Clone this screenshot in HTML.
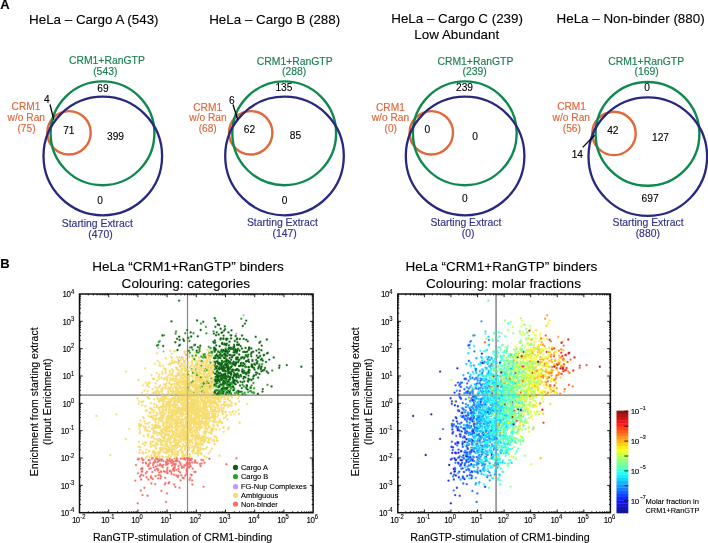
<!DOCTYPE html>
<html lang="en"><head><meta charset="utf-8"><title>HeLa CRM1+RanGTP binders</title>
<style>
html,body{margin:0;padding:0;background:#fff;}
body{width:708px;height:543px;overflow:hidden;}
svg{display:block;font-family:"Liberation Sans", sans-serif;}
text[fill="#000"]{stroke:#000;stroke-width:0.12px;}
</style></head><body>
<svg width="708" height="543" viewBox="0 0 708 543">
<rect width="708" height="543" fill="#fff"/>
<text x="93.80" y="23.70" font-size="13.4" fill="#000" text-anchor="middle">HeLa – Cargo A (543)</text>
<circle cx="69.00" cy="132.8" r="21.7" fill="none" stroke="#e0683b" stroke-width="2.4"/>
<circle cx="102.50" cy="133.3" r="51.9" fill="none" stroke="#0f8a4e" stroke-width="2.4"/>
<circle cx="102.80" cy="156" r="59.3" fill="none" stroke="#27297f" stroke-width="2.3"/>
<text x="106.90" y="64.30" font-size="10.4" fill="#1c8052" stroke="#1c8052" stroke-width="0.15" text-anchor="middle">CRM1+RanGTP</text>
<text x="105.30" y="75.30" font-size="10.4" fill="#1c8052" stroke="#1c8052" stroke-width="0.15" text-anchor="middle">(543)</text>
<text x="26.00" y="110.40" font-size="10.2" fill="#dc673b" stroke="#dc673b" stroke-width="0.15" text-anchor="middle">CRM1</text>
<text x="26.30" y="120.90" font-size="10.2" fill="#dc673b" stroke="#dc673b" stroke-width="0.15" text-anchor="middle">w/o Ran</text>
<text x="26.50" y="132.20" font-size="10.2" fill="#dc673b" stroke="#dc673b" stroke-width="0.15" text-anchor="middle">(75)</text>
<text x="97.30" y="226.80" font-size="10.4" fill="#30318a" stroke="#30318a" stroke-width="0.15" text-anchor="middle">Starting Extract</text>
<text x="100.50" y="237.80" font-size="10.4" fill="#30318a" stroke="#30318a" stroke-width="0.15" text-anchor="middle">(470)</text>
<text x="103.00" y="91.60" font-size="10.2" fill="#000" text-anchor="middle">69</text>
<text x="68.80" y="134.30" font-size="10.2" fill="#000" text-anchor="middle">71</text>
<text x="115.50" y="139.90" font-size="10.2" fill="#000" text-anchor="middle">399</text>
<text x="100.00" y="203.80" font-size="10.2" fill="#000" text-anchor="middle">0</text>
<text x="46.80" y="103.00" font-size="10.2" fill="#000" text-anchor="middle">4</text>
<line x1="50" y1="104.5" x2="53.8" y2="119.5" stroke="#000" stroke-width="1.3"/>
<text x="274.70" y="23.70" font-size="13.4" fill="#000" text-anchor="middle">HeLa – Cargo B (288)</text>
<circle cx="250.70" cy="132.8" r="21.7" fill="none" stroke="#e0683b" stroke-width="2.4"/>
<circle cx="284.20" cy="133.3" r="51.9" fill="none" stroke="#0f8a4e" stroke-width="2.4"/>
<circle cx="284.50" cy="156" r="59.3" fill="none" stroke="#27297f" stroke-width="2.3"/>
<text x="294.70" y="64.80" font-size="10.4" fill="#1c8052" stroke="#1c8052" stroke-width="0.15" text-anchor="middle">CRM1+RanGTP</text>
<text x="294.10" y="74.70" font-size="10.4" fill="#1c8052" stroke="#1c8052" stroke-width="0.15" text-anchor="middle">(288)</text>
<text x="207.70" y="110.90" font-size="10.2" fill="#dc673b" stroke="#dc673b" stroke-width="0.15" text-anchor="middle">CRM1</text>
<text x="208.00" y="120.90" font-size="10.2" fill="#dc673b" stroke="#dc673b" stroke-width="0.15" text-anchor="middle">w/o Ran</text>
<text x="207.70" y="132.20" font-size="10.2" fill="#dc673b" stroke="#dc673b" stroke-width="0.15" text-anchor="middle">(68)</text>
<text x="282.40" y="226.30" font-size="10.4" fill="#30318a" stroke="#30318a" stroke-width="0.15" text-anchor="middle">Starting Extract</text>
<text x="284.70" y="237.30" font-size="10.4" fill="#30318a" stroke="#30318a" stroke-width="0.15" text-anchor="middle">(147)</text>
<text x="283.90" y="90.90" font-size="10.2" fill="#000" text-anchor="middle">135</text>
<text x="249.50" y="133.10" font-size="10.2" fill="#000" text-anchor="middle">62</text>
<text x="295.40" y="139.40" font-size="10.2" fill="#000" text-anchor="middle">85</text>
<text x="284.70" y="203.80" font-size="10.2" fill="#000" text-anchor="middle">0</text>
<text x="231.80" y="103.50" font-size="10.2" fill="#000" text-anchor="middle">6</text>
<line x1="233.0" y1="104.5" x2="237.8" y2="120.0" stroke="#000" stroke-width="1.3"/>
<text x="457.10" y="23.20" font-size="13.4" fill="#000" text-anchor="middle">HeLa – Cargo C (239)</text>
<text x="456.80" y="39.30" font-size="13.4" fill="#000" text-anchor="middle">Low Abundant</text>
<circle cx="431.30" cy="132.8" r="21.7" fill="none" stroke="#e0683b" stroke-width="2.4"/>
<circle cx="464.80" cy="133.3" r="51.9" fill="none" stroke="#0f8a4e" stroke-width="2.4"/>
<circle cx="465.10" cy="156" r="59.3" fill="none" stroke="#27297f" stroke-width="2.3"/>
<text x="475.40" y="65.00" font-size="10.4" fill="#1c8052" stroke="#1c8052" stroke-width="0.15" text-anchor="middle">CRM1+RanGTP</text>
<text x="474.70" y="75.30" font-size="10.4" fill="#1c8052" stroke="#1c8052" stroke-width="0.15" text-anchor="middle">(239)</text>
<text x="390.40" y="111.40" font-size="10.2" fill="#dc673b" stroke="#dc673b" stroke-width="0.15" text-anchor="middle">CRM1</text>
<text x="390.40" y="121.40" font-size="10.2" fill="#dc673b" stroke="#dc673b" stroke-width="0.15" text-anchor="middle">w/o Ran</text>
<text x="390.80" y="132.20" font-size="10.2" fill="#dc673b" stroke="#dc673b" stroke-width="0.15" text-anchor="middle">(0)</text>
<text x="465.90" y="226.30" font-size="10.4" fill="#30318a" stroke="#30318a" stroke-width="0.15" text-anchor="middle">Starting Extract</text>
<text x="468.10" y="237.10" font-size="10.4" fill="#30318a" stroke="#30318a" stroke-width="0.15" text-anchor="middle">(0)</text>
<text x="464.50" y="90.60" font-size="10.2" fill="#000" text-anchor="middle">239</text>
<text x="427.30" y="133.30" font-size="10.2" fill="#000" text-anchor="middle">0</text>
<text x="475.20" y="139.90" font-size="10.2" fill="#000" text-anchor="middle">0</text>
<text x="464.80" y="202.00" font-size="10.2" fill="#000" text-anchor="middle">0</text>
<text x="630.60" y="23.10" font-size="13.4" fill="#000" text-anchor="middle">HeLa – Non-binder (880)</text>
<circle cx="614.00" cy="133.4" r="21.7" fill="none" stroke="#e0683b" stroke-width="2.4"/>
<circle cx="647.50" cy="133.9" r="51.9" fill="none" stroke="#0f8a4e" stroke-width="2.4"/>
<circle cx="647.80" cy="156.6" r="59.3" fill="none" stroke="#27297f" stroke-width="2.3"/>
<text x="646.10" y="65.00" font-size="10.4" fill="#1c8052" stroke="#1c8052" stroke-width="0.15" text-anchor="middle">CRM1+RanGTP</text>
<text x="646.70" y="75.30" font-size="10.4" fill="#1c8052" stroke="#1c8052" stroke-width="0.15" text-anchor="middle">(169)</text>
<text x="571.60" y="110.40" font-size="10.2" fill="#dc673b" stroke="#dc673b" stroke-width="0.15" text-anchor="middle">CRM1</text>
<text x="571.30" y="121.40" font-size="10.2" fill="#dc673b" stroke="#dc673b" stroke-width="0.15" text-anchor="middle">w/o Ran</text>
<text x="571.80" y="132.20" font-size="10.2" fill="#dc673b" stroke="#dc673b" stroke-width="0.15" text-anchor="middle">(56)</text>
<text x="648.00" y="226.30" font-size="10.4" fill="#30318a" stroke="#30318a" stroke-width="0.15" text-anchor="middle">Starting Extract</text>
<text x="647.80" y="237.30" font-size="10.4" fill="#30318a" stroke="#30318a" stroke-width="0.15" text-anchor="middle">(880)</text>
<text x="647.20" y="91.10" font-size="10.2" fill="#000" text-anchor="middle">0</text>
<text x="612.80" y="133.60" font-size="10.2" fill="#000" text-anchor="middle">42</text>
<text x="660.50" y="140.90" font-size="10.2" fill="#000" text-anchor="middle">127</text>
<text x="650.10" y="201.80" font-size="10.2" fill="#000" text-anchor="middle">697</text>
<text x="577.30" y="157.80" font-size="10.2" fill="#000" text-anchor="middle">14</text>
<line x1="582.7" y1="147.4" x2="594.6" y2="135.2" stroke="#000" stroke-width="1.3"/>
<text x="0.30" y="9.20" font-size="13" fill="#000" text-anchor="start" font-weight="bold">A</text>
<text x="0.30" y="268.00" font-size="13" fill="#000" text-anchor="start" font-weight="bold">B</text>
<path d="M187.51 294V512.7M79.5 395.12H313.1" stroke="#8a8a8a" stroke-width="1.15" fill="none" opacity="1"/>
<defs><path id="p1" stroke="#f6dc6e" d="M153.2 437.6h0M202.8 416.9h0M204.4 422.5h0M161.9 407.8h0M189.0 382.0h0M199.2 427.0h0M158.8 451.6h0M195.5 412.1h0M206.8 437.9h0M200.8 390.2h0M193.2 428.1h0M181.0 421.2h0M239.6 422.7h0M202.7 444.9h0M206.3 428.1h0M165.9 410.8h0M196.2 356.6h0M183.2 403.8h0M197.0 399.8h0M164.1 423.9h0M162.6 396.9h0M171.3 412.7h0M190.0 399.0h0M192.5 376.4h0M210.5 373.3h0M187.8 398.5h0M178.7 398.6h0M210.8 382.8h0M209.4 426.6h0M196.2 437.0h0M213.8 439.9h0M219.4 409.4h0M186.9 419.4h0M157.6 390.6h0M171.9 426.9h0M197.7 392.0h0M173.6 393.3h0M189.7 367.6h0M210.8 392.5h0M174.9 361.8h0M210.5 390.4h0M161.6 429.0h0M202.3 376.5h0M212.0 379.4h0M219.3 400.8h0M213.0 383.1h0M205.6 390.6h0M173.2 371.2h0M184.2 440.3h0M171.9 415.0h0M206.5 360.9h0M147.6 390.8h0M183.1 432.8h0M180.1 387.5h0M195.5 435.4h0M178.2 411.9h0M198.9 391.6h0M204.4 456.3h0M182.1 452.2h0M168.5 394.2h0M197.8 371.8h0M210.0 367.7h0M197.1 443.9h0M176.4 414.0h0M185.5 411.1h0M141.1 424.5h0M198.7 405.8h0M196.1 372.0h0M239.1 413.7h0M163.1 421.4h0M173.1 448.9h0M176.7 443.0h0M169.8 451.6h0M153.6 427.9h0M227.5 404.9h0M184.4 390.7h0M211.3 408.2h0M188.7 381.8h0M204.8 380.9h0M178.9 400.5h0M215.1 415.3h0M196.8 387.0h0M198.8 424.2h0M175.9 376.0h0M181.3 451.2h0M178.9 412.0h0M210.5 369.8h0M150.1 408.1h0M159.2 453.9h0M204.5 403.3h0M193.4 450.8h0M192.0 401.0h0M186.9 393.0h0M217.1 406.2h0M168.1 416.3h0M177.1 420.8h0M181.2 400.0h0M171.3 375.2h0M206.5 421.5h0M204.9 398.6h0M198.2 450.5h0M163.4 438.3h0M184.1 399.6h0M153.4 412.2h0M182.2 423.7h0M199.3 415.5h0M141.9 392.6h0M171.9 353.6h0M159.2 387.0h0M189.2 378.9h0M199.4 357.8h0M171.1 447.5h0M201.4 427.3h0M165.9 441.8h0M168.4 435.3h0M171.9 374.4h0M185.2 445.8h0M203.9 431.6h0M206.4 401.9h0M194.6 413.2h0M166.2 418.9h0M190.0 432.0h0M157.7 432.7h0M170.4 437.7h0M186.3 384.6h0M166.2 430.4h0M196.1 429.6h0M216.9 438.5h0M212.2 440.3h0M189.9 376.1h0M154.1 431.5h0M172.2 412.0h0M176.0 379.5h0M200.3 411.0h0M181.9 432.3h0M183.2 393.4h0M185.7 397.9h0M191.0 398.1h0M193.3 406.8h0M193.3 446.4h0M202.3 416.3h0M185.9 424.1h0M168.2 402.2h0M201.1 377.2h0M170.9 412.9h0M198.7 364.3h0M200.4 407.0h0M152.8 452.3h0M166.1 429.3h0M203.6 380.5h0M166.9 431.6h0M166.8 434.8h0M170.3 380.6h0M164.4 406.9h0M213.2 410.0h0M188.9 409.1h0M192.8 393.3h0M206.3 401.6h0M165.9 358.2h0M206.7 419.6h0M156.7 405.2h0M197.5 435.8h0M155.1 427.0h0M184.7 375.3h0M175.7 451.1h0M183.2 399.2h0M171.5 417.7h0M189.3 447.8h0M173.2 378.6h0M176.2 425.3h0M191.5 422.5h0M163.6 399.8h0M188.8 414.2h0M162.7 456.8h0M204.1 407.3h0M170.1 437.5h0M156.8 407.1h0M186.2 384.1h0M210.8 400.2h0M198.7 367.8h0M168.4 438.2h0M185.7 397.9h0M194.4 417.7h0M178.5 435.7h0M203.8 391.4h0M173.4 394.5h0M160.2 385.4h0M154.4 404.0h0M192.3 395.1h0M189.7 439.9h0M193.1 392.8h0M185.9 390.5h0M199.2 412.5h0M178.6 390.7h0M180.6 426.8h0M170.2 436.4h0M207.1 414.9h0M159.2 365.6h0M167.4 452.4h0M193.4 401.2h0M205.9 366.4h0M207.8 355.0h0M207.9 375.9h0M199.2 438.4h0M144.5 421.4h0M184.2 455.3h0M206.5 419.2h0M212.7 421.0h0M204.7 393.0h0M196.2 365.5h0M160.4 398.2h0M205.8 361.3h0M210.9 409.1h0M173.3 415.7h0M169.3 427.6h0M205.0 412.2h0M158.7 408.1h0M210.6 387.5h0M200.9 373.7h0M190.9 402.5h0M175.6 404.3h0M180.7 422.5h0M200.8 399.1h0M194.1 403.5h0M217.9 425.7h0M194.9 406.1h0M157.3 380.7h0M197.8 387.3h0M221.9 411.7h0M208.8 439.8h0M196.1 408.6h0M213.2 381.6h0M181.4 372.4h0M183.8 375.0h0M197.4 360.3h0M164.7 401.3h0M182.7 377.6h0M203.8 449.1h0M190.4 421.9h0M195.7 419.2h0M175.2 438.8h0M189.3 415.8h0M165.4 435.9h0M198.4 406.3h0M183.3 439.8h0M215.4 416.4h0M180.3 397.6h0M196.1 438.9h0M159.9 451.9h0M178.3 437.1h0M178.8 427.7h0M208.7 367.6h0M194.4 386.2h0M182.2 388.2h0M163.1 432.7h0M163.5 413.1h0M167.9 452.0h0M196.6 416.4h0M179.4 371.0h0M196.9 401.3h0M175.1 439.9h0M195.7 444.0h0M178.2 396.4h0M192.4 434.9h0M210.0 418.0h0M207.5 378.3h0M205.2 388.7h0M203.8 442.3h0M156.9 372.9h0M201.5 384.1h0M182.0 419.0h0M208.0 442.3h0M177.6 374.4h0M175.5 398.3h0M232.4 411.7h0M189.0 423.2h0M217.8 404.7h0M149.6 431.4h0M172.0 369.1h0M173.2 398.2h0M191.7 411.8h0M168.6 434.9h0M169.7 371.6h0M192.0 361.9h0M183.7 382.7h0M163.2 437.6h0M202.8 421.6h0M198.2 407.3h0M190.9 404.4h0M212.7 370.2h0M222.7 414.3h0M211.9 398.7h0M186.1 424.0h0M176.3 383.4h0M201.0 360.4h0M188.1 395.4h0M209.9 375.6h0M207.6 400.3h0M171.6 385.7h0M185.2 426.4h0M213.0 414.0h0M192.1 369.4h0M213.2 403.6h0M226.0 416.9h0M145.4 423.5h0M162.2 400.5h0M194.6 424.0h0M199.3 387.7h0M153.0 451.1h0M195.2 453.4h0M158.1 439.3h0M159.4 374.7h0M161.4 431.8h0M179.7 409.1h0M179.3 432.3h0M162.0 436.6h0M194.7 415.5h0M157.2 426.4h0M202.7 408.5h0M207.8 391.8h0M190.6 425.2h0M174.2 438.8h0M189.3 416.2h0M179.2 413.1h0M211.8 400.8h0M168.2 391.4h0M164.0 414.9h0M177.6 402.3h0M177.4 454.9h0M205.5 417.0h0M160.3 452.1h0M161.0 411.8h0M155.7 452.4h0M179.7 420.1h0M222.9 413.3h0M175.6 378.5h0M174.2 446.0h0M208.8 440.5h0M182.6 390.3h0M203.1 440.5h0M222.0 409.6h0M188.3 416.0h0M190.2 441.8h0M167.0 379.6h0M205.7 393.7h0M185.3 383.0h0M178.0 425.8h0M192.4 420.6h0M169.9 408.9h0M199.1 408.6h0M229.7 412.1h0M179.2 374.2h0M185.8 351.7h0M198.7 410.2h0M214.0 403.4h0M176.9 369.0h0M190.9 384.3h0M197.7 380.5h0M186.8 398.5h0M194.5 407.2h0M197.0 423.9h0M190.5 404.6h0M196.8 410.9h0M189.7 454.3h0M184.4 395.4h0M174.6 446.4h0M140.2 431.9h0M197.2 395.6h0M181.7 388.4h0M206.7 359.0h0M181.3 408.4h0M220.9 421.7h0M145.3 430.2h0M185.8 431.9h0M178.4 363.7h0M142.8 443.8h0M197.4 401.7h0M148.3 397.9h0M191.6 429.1h0M209.6 442.8h0M171.3 356.9h0M200.9 448.5h0M208.4 401.8h0M176.2 435.8h0M193.0 404.5h0M155.1 446.4h0M185.2 389.1h0M152.3 425.0h0M178.0 442.5h0M207.4 374.5h0M191.0 411.9h0M172.3 452.0h0M193.5 407.2h0M182.3 400.3h0M199.4 391.7h0M179.9 438.0h0M177.0 375.7h0M184.2 387.4h0M205.1 386.5h0M200.0 444.6h0M161.8 421.4h0M155.9 391.5h0M194.5 406.0h0M198.1 374.5h0M213.3 402.1h0M195.4 407.7h0M207.1 446.9h0M206.1 406.4h0M186.8 396.1h0M186.2 388.4h0M179.0 433.7h0M190.5 445.1h0M162.5 449.4h0M184.5 456.4h0M173.6 445.8h0M171.7 424.6h0M202.6 378.8h0M166.1 396.3h0M174.5 411.8h0M191.9 400.6h0M214.7 418.7h0M167.4 449.9h0M183.7 428.4h0M158.2 454.1h0M155.3 445.2h0M181.9 430.2h0M215.7 396.7h0M207.3 414.8h0M158.9 453.1h0M178.1 397.4h0M188.2 432.6h0M175.3 428.3h0M231.0 414.5h0M193.9 359.6h0M157.4 439.1h0M187.5 429.7h0M167.0 422.7h0M179.5 396.2h0M166.1 457.1h0M178.2 422.7h0M145.8 427.1h0M160.0 412.7h0M199.2 422.4h0M197.0 380.6h0M194.0 426.6h0M161.5 377.7h0M192.6 427.4h0M174.8 434.1h0M183.6 366.4h0M161.3 415.9h0M162.0 444.9h0M197.9 388.8h0M191.6 399.5h0M203.2 414.1h0M186.2 413.7h0M198.7 374.6h0M177.6 388.8h0M188.7 410.9h0M214.5 444.0h0M168.5 405.7h0M183.9 407.9h0M151.8 416.8h0M199.1 450.7h0M192.4 406.5h0M211.0 384.5h0M192.4 405.1h0M191.5 439.9h0M205.2 405.9h0M164.5 397.0h0M176.7 453.9h0M181.8 365.4h0M161.1 440.2h0M205.1 398.7h0M210.2 451.3h0M209.6 349.5h0M182.6 408.1h0M206.4 409.4h0M183.4 432.5h0M181.4 378.3h0M210.3 432.9h0M178.7 426.5h0M184.0 396.9h0M195.0 414.8h0M203.3 390.7h0M188.2 419.5h0M182.6 399.1h0M200.0 424.7h0M183.7 378.5h0M178.8 361.1h0M182.5 400.5h0M189.8 417.6h0M172.7 409.2h0M139.9 450.0h0M195.9 405.3h0M231.8 397.0h0M208.4 411.7h0M218.0 397.8h0M201.8 401.5h0M197.8 406.6h0M160.2 448.0h0M198.9 424.7h0M217.3 404.0h0M182.5 398.3h0M224.0 418.0h0M182.0 370.3h0M209.3 413.6h0M209.6 376.1h0M188.3 401.9h0M198.7 389.3h0M188.8 416.1h0M212.8 371.2h0M166.1 419.5h0M183.9 440.6h0M178.7 416.6h0M170.5 445.3h0M221.2 407.6h0M179.8 445.6h0M172.2 373.0h0M110.2 455.0h0M196.8 368.5h0M205.1 422.8h0M184.8 434.9h0M201.0 421.1h0M149.2 451.4h0M204.0 389.2h0M146.2 449.6h0M225.2 399.1h0M179.2 431.2h0M186.2 433.7h0M143.1 443.6h0M203.6 368.6h0M188.4 363.1h0M182.1 415.0h0M186.2 398.5h0M190.9 419.6h0M218.4 422.3h0M195.0 425.1h0M188.3 445.6h0M150.9 403.0h0M197.5 388.0h0M182.9 408.4h0M193.7 401.8h0M164.0 384.3h0M193.1 372.2h0M175.3 407.6h0M169.2 448.1h0M207.4 393.7h0M227.4 399.2h0M223.7 397.1h0M189.7 393.0h0M184.2 403.8h0M199.4 420.9h0M184.7 360.9h0M148.2 436.4h0M176.7 426.3h0M200.3 447.3h0M125.9 438.9h0M202.8 395.7h0M188.3 432.8h0M205.5 390.9h0M223.8 431.7h0M192.8 377.4h0M211.5 378.2h0M207.3 392.4h0M220.5 401.3h0M196.3 394.8h0M181.2 413.0h0M200.9 399.8h0M170.7 402.0h0M179.2 400.7h0M197.5 401.3h0M197.4 435.5h0M170.0 402.0h0M178.2 359.2h0M213.1 364.7h0M200.1 379.4h0M185.5 432.7h0M186.8 406.7h0M179.2 385.6h0M197.3 364.5h0M180.0 412.9h0M199.1 350.5h0M185.6 384.2h0M161.0 415.0h0M206.9 390.8h0M195.8 453.4h0M210.3 420.8h0M201.0 381.9h0M204.1 362.8h0M198.2 399.6h0M157.5 397.6h0M160.1 451.4h0M184.4 408.6h0M204.6 388.3h0M224.5 401.8h0M187.0 387.9h0M155.9 428.1h0M179.2 380.8h0M153.5 419.4h0M195.9 369.1h0M214.6 415.4h0M222.2 396.6h0M225.6 402.2h0M227.4 419.4h0M213.5 425.0h0M184.0 414.6h0M208.6 365.3h0M168.3 446.4h0M170.3 404.2h0M148.8 386.8h0M151.5 455.5h0M223.4 427.8h0M191.3 395.3h0M164.8 452.8h0M202.6 379.8h0M185.4 455.0h0M155.0 439.2h0M166.3 420.1h0M194.4 404.9h0M205.7 395.8h0M170.6 384.5h0M202.7 440.2h0M224.4 397.6h0M173.0 370.0h0M198.8 389.9h0M193.7 373.2h0M207.7 410.9h0M163.3 403.9h0M213.4 415.5h0M173.5 432.7h0M210.7 354.3h0M166.9 402.2h0M169.0 392.4h0M199.3 384.8h0M180.4 400.3h0M188.2 399.2h0M188.7 434.7h0M152.1 409.8h0M180.7 366.2h0M182.3 381.7h0M159.6 432.6h0M175.2 380.7h0M174.2 404.7h0M187.5 425.1h0M211.1 382.9h0M171.8 419.3h0M159.8 427.3h0M188.9 431.1h0M197.9 412.2h0M193.0 451.0h0M201.3 392.4h0M187.8 389.9h0M216.3 404.3h0M181.7 436.8h0M187.7 395.3h0M200.0 379.8h0M203.1 374.3h0M193.4 358.5h0M219.4 401.8h0M212.0 374.4h0M202.4 439.0h0M229.7 405.5h0M201.7 393.5h0M196.3 391.3h0M195.9 418.9h0M186.7 438.6h0M195.8 444.2h0M188.7 371.1h0M160.9 419.4h0M159.6 392.1h0M166.6 383.4h0M208.4 369.0h0M197.0 428.4h0M196.3 376.8h0M213.2 413.2h0M181.5 415.5h0M184.8 376.2h0M225.5 412.3h0M172.6 449.6h0M202.7 401.6h0M189.0 449.7h0M170.3 350.7h0M189.9 410.0h0M189.2 405.4h0M206.1 420.0h0M207.7 382.6h0M209.7 388.0h0M153.9 452.3h0M173.1 406.9h0M219.7 429.3h0M205.6 385.4h0M157.6 360.9h0M210.7 396.8h0M191.8 408.0h0M165.3 427.5h0M183.5 413.5h0M210.0 374.7h0M184.9 384.5h0M196.5 393.8h0M207.7 395.2h0M178.0 436.4h0M189.4 416.5h0M203.2 403.1h0M172.4 433.3h0M187.4 379.5h0M174.2 401.3h0M218.8 407.3h0M178.6 393.7h0M176.5 404.6h0M181.0 409.6h0M186.4 399.4h0M208.1 389.6h0M167.9 417.2h0M156.1 419.1h0M169.1 447.7h0M149.0 426.9h0M180.2 412.4h0M185.6 437.4h0M178.0 387.6h0M206.1 404.5h0M184.2 410.4h0M163.0 432.7h0M167.4 380.8h0M224.5 405.1h0M192.4 382.2h0M157.7 425.5h0M200.1 397.0h0M161.1 390.8h0M176.4 426.8h0M163.2 410.4h0M191.6 441.2h0M192.4 439.4h0M172.4 393.0h0M198.9 378.5h0M159.0 387.1h0M175.6 430.0h0M173.8 411.0h0M177.1 375.7h0M191.7 369.5h0M166.7 407.8h0M187.5 444.3h0M212.0 365.2h0M219.8 418.9h0M176.5 448.1h0M143.7 426.5h0M181.1 416.1h0M232.9 411.2h0M208.0 417.0h0M208.0 385.6h0M214.3 411.0h0M190.4 411.3h0M171.7 379.2h0M204.7 368.8h0M182.7 393.7h0M183.6 429.2h0M196.5 430.0h0M207.9 377.1h0M182.8 454.9h0M189.6 397.6h0M189.2 427.0h0M190.8 441.8h0M160.2 365.7h0M207.0 360.3h0M196.6 380.3h0M205.0 365.3h0M176.6 440.4h0M184.0 388.6h0M206.3 356.7h0M231.6 405.9h0M212.4 429.7h0M173.9 446.8h0M170.7 426.1h0M169.0 406.1h0M170.2 407.0h0M211.8 407.3h0M206.1 417.4h0M184.4 457.5h0M203.0 374.3h0M179.6 413.7h0M182.0 419.9h0M175.1 419.8h0M176.9 407.3h0M187.9 361.8h0M200.6 384.9h0M198.7 374.9h0M171.3 417.4h0M166.6 424.1h0M190.6 394.8h0M207.7 396.9h0M215.7 403.7h0M194.2 450.7h0M213.2 406.1h0M166.8 416.6h0M189.9 440.8h0M176.9 421.6h0M195.8 393.2h0M187.1 452.2h0M166.2 448.9h0M170.5 443.4h0M176.0 453.8h0M202.6 394.2h0M217.4 405.1h0M168.5 387.4h0M168.6 413.0h0M211.5 403.6h0M158.3 452.2h0M202.1 416.5h0M188.6 415.8h0M168.1 427.2h0M171.3 362.8h0M192.3 377.0h0M201.3 379.5h0M191.5 413.2h0M161.9 440.6h0M175.3 438.4h0M188.1 418.9h0M182.6 412.5h0M162.4 415.7h0M204.5 372.6h0M206.3 391.7h0M160.6 417.5h0M184.0 361.0h0M149.6 412.8h0M164.1 398.6h0M206.2 391.2h0M207.0 398.2h0M215.9 436.7h0M154.0 454.2h0M163.1 410.4h0M183.5 437.9h0M178.2 443.6h0M190.6 425.8h0M213.3 360.9h0M163.5 426.1h0M184.7 353.2h0M160.1 418.2h0M168.5 364.3h0M203.9 361.1h0M184.4 391.6h0M215.3 411.0h0M193.8 395.3h0M164.3 368.3h0M162.8 389.4h0M196.7 384.6h0M184.0 382.8h0M197.2 412.7h0M177.0 393.1h0M190.5 422.5h0M171.7 436.0h0M198.4 421.9h0M231.7 403.0h0M212.8 381.8h0M183.8 431.8h0M169.0 426.9h0M205.4 381.9h0M195.8 361.4h0M153.7 430.7h0M183.2 422.4h0M198.9 378.4h0M204.0 440.1h0M162.9 418.5h0M155.4 387.2h0M201.4 444.1h0M192.0 430.2h0M169.4 416.1h0M155.5 454.7h0M205.9 406.5h0M193.7 420.7h0M147.7 397.1h0M197.7 411.8h0M183.5 436.0h0M195.4 410.9h0M165.5 427.8h0M145.0 368.3h0M210.6 385.1h0M187.2 457.3h0M205.3 403.3h0"/><path id="p2" stroke="#f0706a" d="M178.5 468.7h0M140.9 490.4h0M150.9 476.3h0M174.3 467.5h0M152.8 479.1h0M141.2 474.7h0M135.3 480.6h0M176.8 460.9h0M203.1 460.3h0M180.6 464.7h0M161.3 472.0h0M142.5 495.1h0M155.8 466.6h0M148.5 466.1h0M163.3 464.8h0M160.3 475.4h0M146.2 463.5h0M137.7 503.3h0M178.4 475.7h0M141.8 458.2h0M189.7 465.6h0M169.7 458.7h0M186.8 470.4h0M163.9 471.2h0M176.6 460.0h0M201.5 463.4h0M159.2 472.6h0M183.8 478.2h0M184.0 459.1h0M185.4 459.7h0M148.5 460.1h0M191.9 458.8h0M174.7 467.1h0M180.6 480.3h0M186.9 472.0h0M165.2 477.8h0M173.2 464.3h0M147.6 495.7h0M142.4 469.1h0M148.9 464.5h0M153.0 465.1h0M182.8 458.2h0M160.9 471.5h0M161.0 476.3h0M175.7 464.0h0M159.6 460.6h0M167.3 464.2h0M189.2 460.1h0M137.9 459.4h0M174.7 458.5h0M171.9 460.8h0M158.2 478.3h0M189.7 464.3h0M157.6 465.4h0M174.1 474.8h0M171.7 459.8h0M174.2 484.5h0M152.3 472.0h0M156.9 468.9h0M192.2 462.5h0M190.8 459.9h0M185.2 475.8h0M190.4 459.7h0M146.5 477.2h0M178.5 466.1h0M166.0 464.9h0M145.8 462.7h0M159.6 465.2h0M186.7 463.7h0M162.8 467.2h0M200.6 466.0h0M161.8 459.5h0M184.8 458.1h0M176.1 460.7h0M175.1 464.9h0M168.5 483.4h0M195.4 472.0h0M178.8 471.1h0M171.1 462.7h0M158.4 461.1h0M156.7 458.9h0M160.6 478.2h0"/><path id="p3" stroke="#2a9c2a" d="M253.7 392.4h0M203.5 383.6h0M195.9 369.5h0M199.6 351.2h0M222.9 378.1h0M231.9 384.1h0M217.7 383.0h0M191.3 382.6h0M230.6 383.8h0M221.3 390.3h0M234.3 388.2h0M201.0 323.5h0M225.8 356.8h0M219.9 391.8h0M201.4 384.3h0M216.9 389.9h0M211.2 381.6h0M197.4 392.8h0M233.2 348.6h0M199.4 349.5h0M209.3 355.9h0M211.4 355.5h0M216.2 386.5h0M197.1 373.9h0M231.6 386.8h0M185.3 333.2h0M210.5 348.0h0M223.2 338.5h0M251.0 391.1h0M202.9 386.2h0M233.5 388.9h0M254.1 388.2h0M218.7 390.5h0M244.6 392.7h0M228.9 394.5h0M209.7 387.9h0M222.0 391.5h0M223.0 391.0h0M195.7 388.5h0M212.0 351.7h0M213.5 331.3h0M189.9 352.8h0M243.8 386.3h0M205.9 385.8h0M196.6 376.1h0M220.9 351.5h0M196.6 364.4h0M214.8 384.1h0M188.7 390.2h0M250.6 387.4h0M214.5 385.0h0M204.9 354.4h0M226.7 389.2h0M234.5 383.7h0M209.1 352.9h0M245.5 394.6h0M159.8 341.1h0M194.0 345.3h0M219.7 386.8h0"/><path id="p4" stroke="#0b640f" d="M220.3 376.0h0M231.0 338.4h0M236.1 377.6h0M227.2 355.9h0M236.2 359.4h0M221.3 374.1h0M234.5 382.0h0M214.3 349.8h0M251.0 354.0h0M248.1 380.9h0M248.6 349.9h0M227.5 360.3h0M248.5 375.6h0M227.6 369.0h0M219.4 379.8h0M236.9 369.5h0M229.5 372.7h0M224.8 381.3h0M246.3 339.7h0M247.8 341.3h0M251.7 364.3h0M240.7 365.4h0M237.1 349.7h0M221.5 368.3h0M219.6 367.5h0M216.2 394.1h0M223.8 367.2h0M229.6 385.2h0M188.9 350.8h0M258.7 367.1h0M223.4 384.9h0M237.4 342.1h0M219.4 373.6h0M221.0 391.1h0M216.6 371.7h0M179.9 344.8h0M232.4 370.4h0M225.2 351.8h0M220.6 363.8h0M228.0 369.5h0M236.5 375.3h0M200.3 345.7h0M243.1 365.7h0M222.4 352.0h0M234.3 346.5h0M235.3 370.1h0M196.7 350.7h0M215.7 367.3h0M214.0 348.1h0M219.2 391.6h0M221.4 374.8h0M232.0 366.1h0M216.8 376.5h0M220.3 365.4h0M236.2 358.2h0M191.7 347.4h0M230.9 373.3h0M279.5 365.6h0M246.0 352.1h0M219.2 363.0h0M220.5 392.8h0M241.8 388.1h0M231.1 374.8h0M224.2 344.5h0M232.3 382.4h0M220.6 354.0h0M219.7 381.7h0M259.1 352.7h0M219.5 385.4h0M227.6 353.4h0M228.8 384.4h0M249.5 370.4h0M214.6 351.8h0M219.6 352.4h0M264.3 369.9h0M219.5 391.1h0M228.7 369.5h0M228.3 360.7h0M225.0 374.9h0M234.1 344.9h0M243.2 363.0h0M230.0 385.5h0M220.1 372.7h0M262.8 389.1h0M238.4 361.2h0M239.7 366.0h0M260.9 369.2h0M203.3 321.8h0M215.6 356.2h0M238.4 377.3h0M224.3 368.8h0M228.9 347.6h0M221.1 391.6h0M286.8 365.1h0M242.6 394.1h0M216.0 349.7h0M233.4 380.9h0M255.7 336.8h0M224.1 330.6h0M256.2 359.9h0M220.0 393.8h0M217.9 380.4h0M231.0 347.6h0M242.7 371.5h0M249.2 347.5h0M215.1 363.8h0M223.2 350.0h0M220.0 357.5h0M261.7 345.6h0M243.2 351.9h0M215.4 348.7h0M224.2 377.3h0M228.5 372.2h0M249.3 348.8h0M238.1 348.8h0M233.5 352.3h0M218.3 387.3h0M236.8 339.3h0M215.3 342.5h0M217.8 379.3h0M233.2 390.3h0M222.0 375.2h0M242.5 382.2h0M225.0 374.3h0M214.7 391.4h0M240.7 374.9h0M229.5 361.6h0M217.3 377.3h0M232.5 363.1h0M225.8 388.2h0M253.2 351.7h0M230.1 382.8h0M217.1 376.2h0M197.8 336.3h0M224.3 370.7h0M220.7 328.7h0M216.8 380.3h0M268.2 372.9h0M220.5 363.9h0M245.5 347.9h0M219.2 363.6h0M224.3 354.1h0M248.8 367.1h0M163.2 346.0h0M195.1 344.8h0M217.5 366.3h0M221.4 392.7h0M214.6 365.1h0M246.2 361.2h0M241.1 376.2h0M171.5 321.3h0M246.2 355.9h0M248.1 354.7h0M225.7 350.2h0M218.0 392.9h0M226.5 359.2h0M219.3 391.8h0M234.0 347.2h0M245.4 366.2h0M256.4 350.6h0M217.8 362.5h0M227.9 373.6h0M226.4 361.7h0M226.7 392.5h0M229.4 386.2h0M230.7 393.4h0M236.7 369.4h0M226.6 351.0h0M226.3 345.3h0M244.6 364.0h0M245.0 323.6h0M162.4 335.5h0M223.2 370.7h0M238.9 377.4h0M222.8 370.9h0M233.6 361.7h0M231.2 366.6h0M233.8 381.2h0M228.4 390.6h0M234.4 374.4h0M219.2 325.0h0M215.4 363.3h0M226.2 388.2h0M157.1 345.5h0M251.4 366.5h0M235.5 370.2h0M254.1 375.3h0M221.9 360.7h0M238.6 370.1h0M239.5 350.5h0M242.0 335.5h0M226.3 360.3h0M216.2 345.4h0M234.6 380.1h0M215.4 326.8h0M235.9 363.3h0M233.2 387.0h0M253.2 378.6h0M236.8 352.9h0M248.0 373.0h0M239.2 354.5h0M245.8 355.1h0M239.9 339.0h0M229.7 384.8h0M218.1 355.9h0M233.9 389.9h0M261.6 366.6h0M221.6 388.7h0"/><path id="p5" stroke="#c49cf2" d="M178.8 360.7h0M158.3 348.1h0"/></defs><g fill="none" stroke-linecap="round" stroke-width="2.9" opacity="0.3"><use href="#p1"/><use href="#p2"/><use href="#p3"/><use href="#p4"/><use href="#p5"/></g><g fill="none" stroke-linecap="round" stroke-width="1.85"><use href="#p1"/><use href="#p2"/><use href="#p3"/><use href="#p4"/><use href="#p5"/></g><defs><path id="p6" stroke="#f6dc6e" d="M189.1 388.9h0M178.9 398.8h0M176.8 411.4h0M194.7 371.5h0M151.6 375.2h0M155.8 383.4h0M143.0 385.3h0M180.3 366.8h0M171.6 451.7h0M207.2 376.8h0M165.7 409.1h0M182.3 387.5h0M189.9 393.3h0M200.6 363.3h0M150.6 412.3h0M191.7 369.5h0M209.7 403.1h0M168.0 419.1h0M176.3 420.1h0M207.3 401.8h0M204.3 408.5h0M202.0 420.6h0M204.7 433.7h0M192.8 385.1h0M196.2 402.5h0M205.5 416.8h0M176.1 393.3h0M214.6 436.2h0M192.6 403.5h0M196.5 379.9h0M201.4 422.8h0M195.6 416.6h0M177.2 424.2h0M167.1 441.5h0M139.5 426.8h0M235.3 404.4h0M206.9 395.0h0M209.0 371.0h0M141.6 402.0h0M199.5 369.7h0M188.7 447.1h0M158.6 393.4h0M205.8 426.8h0M200.2 449.8h0M185.2 437.5h0M158.7 376.8h0M213.8 422.4h0M181.5 434.4h0M218.6 400.8h0M192.3 451.6h0M158.6 428.0h0M211.4 386.1h0M212.3 388.1h0M202.0 412.8h0M196.5 384.7h0M208.1 441.6h0M156.4 418.2h0M214.1 401.9h0M196.4 433.4h0M223.5 427.0h0M207.3 402.2h0M186.4 410.7h0M183.3 429.6h0M205.6 401.8h0M166.2 404.3h0M191.6 396.2h0M186.9 391.2h0M166.6 426.5h0M202.3 362.6h0M187.4 431.1h0M159.9 439.0h0M197.1 377.1h0M183.7 439.7h0M191.0 389.8h0M208.2 400.2h0M187.0 376.2h0M173.7 452.5h0M185.5 401.4h0M201.2 368.7h0M190.5 456.6h0M156.7 412.8h0M179.7 412.5h0M161.4 412.5h0M170.0 409.9h0M196.8 393.2h0M207.2 392.6h0M183.8 430.6h0M205.1 425.5h0M183.1 454.9h0M206.0 388.0h0M168.9 418.0h0M160.8 450.3h0M193.8 396.2h0M170.3 438.9h0M190.3 404.3h0M176.4 392.5h0M217.6 411.3h0M143.9 418.2h0M190.0 420.2h0M160.6 441.9h0M192.4 383.5h0M197.1 396.5h0M195.9 413.3h0M183.5 404.8h0M197.0 404.5h0M182.2 374.0h0M211.3 406.4h0M206.8 409.3h0M172.5 427.6h0M203.7 367.5h0M174.4 445.6h0M179.8 393.3h0M159.7 363.0h0M185.4 438.0h0M188.9 392.0h0M212.5 430.9h0M166.7 440.9h0M199.2 418.4h0M177.6 429.3h0M179.0 423.0h0M140.4 420.6h0M189.7 381.5h0M201.6 440.0h0M169.5 382.8h0M218.2 414.8h0M202.1 399.6h0M181.7 448.7h0M180.3 381.0h0M197.0 389.5h0M214.5 406.9h0M156.0 447.9h0M155.7 426.9h0M191.4 435.6h0M176.2 445.6h0M172.6 416.5h0M159.2 407.4h0M214.4 397.1h0M190.1 389.8h0M214.1 418.8h0M202.1 370.2h0M185.2 446.9h0M210.7 365.9h0M197.9 374.9h0M185.4 427.7h0M156.8 412.8h0M189.3 385.9h0M189.1 443.3h0M222.9 404.8h0M182.0 408.1h0M199.5 361.3h0M208.3 397.4h0M198.4 378.0h0M218.9 400.3h0M173.4 431.6h0M204.6 376.3h0M195.8 417.0h0M199.6 370.8h0M211.2 377.0h0M222.5 396.3h0M165.6 443.7h0M196.7 428.2h0M180.5 435.6h0M192.2 364.1h0M219.6 395.7h0M196.0 395.8h0M188.5 438.4h0M196.9 377.3h0M200.5 365.6h0M179.6 379.5h0M182.3 432.7h0M199.4 430.1h0M191.7 399.5h0M210.6 438.7h0M183.5 419.9h0M146.1 452.7h0M175.8 350.9h0M182.1 381.9h0M160.7 412.8h0M172.0 400.8h0M154.2 418.7h0M157.7 399.0h0M208.2 422.9h0M208.9 357.5h0M199.2 380.7h0M212.6 371.4h0M157.1 353.2h0M195.2 423.2h0M125.9 371.6h0M188.2 432.3h0M192.8 399.8h0M187.7 420.0h0M207.1 407.1h0M191.3 375.3h0M173.8 410.6h0M190.7 426.3h0M196.5 424.1h0M208.6 387.4h0M193.1 402.6h0M210.6 407.2h0M148.8 382.7h0M167.7 415.7h0M181.5 391.1h0M199.7 380.5h0M168.1 388.9h0M176.9 430.1h0M186.3 371.2h0M194.2 386.8h0M180.0 394.0h0M207.5 393.1h0M195.9 399.5h0M187.0 369.2h0M182.1 375.4h0M185.2 442.3h0M205.1 390.2h0M171.9 418.6h0M218.0 399.2h0M180.9 441.1h0M204.1 400.2h0M211.1 378.3h0M216.7 440.9h0M176.2 388.4h0M165.9 385.6h0M210.8 362.6h0M165.9 388.5h0M199.3 416.6h0M170.4 362.6h0M165.5 384.3h0M197.2 362.5h0M196.9 383.3h0M170.1 378.3h0M203.2 406.6h0M189.9 415.2h0M182.9 380.7h0M189.5 424.5h0M183.2 407.0h0M208.3 413.6h0M168.9 427.9h0M180.1 425.4h0M195.9 422.6h0M170.1 431.0h0M166.6 426.2h0M215.1 402.1h0M186.3 416.4h0M205.3 432.0h0M181.2 421.4h0M195.2 440.2h0M214.9 409.3h0M177.3 368.8h0M174.1 395.1h0M204.2 381.8h0M181.2 362.9h0M206.7 409.4h0M194.5 374.7h0M156.5 426.9h0M204.0 439.2h0M195.0 383.8h0M163.6 404.4h0M165.8 373.0h0M183.9 427.2h0M167.2 446.4h0M160.3 449.2h0M186.3 392.8h0M196.8 407.8h0M175.0 392.5h0M168.4 375.1h0M157.0 391.4h0M177.6 410.5h0M206.6 431.6h0M213.2 397.3h0M166.0 434.2h0M173.3 376.1h0M203.6 379.7h0M208.4 417.8h0M187.9 385.1h0M193.2 446.2h0M186.3 392.2h0M155.8 422.4h0M186.4 404.0h0M198.5 400.5h0M185.5 439.4h0M214.2 441.5h0M186.6 390.7h0M168.5 419.6h0M197.5 428.0h0M200.3 391.2h0M184.9 449.7h0M170.1 431.7h0M177.8 452.6h0M208.5 438.0h0M177.2 413.3h0M198.2 403.6h0M191.2 406.3h0M202.1 444.2h0M146.9 385.5h0M161.9 400.0h0M193.3 435.6h0M167.5 426.9h0M191.0 436.2h0M185.7 421.1h0M207.0 428.8h0M201.0 368.5h0M208.2 386.0h0M210.5 407.2h0M212.6 366.9h0M176.0 386.4h0M194.9 432.0h0M214.9 398.5h0M206.2 365.5h0M197.8 381.3h0M208.8 453.4h0M210.6 411.0h0M164.3 427.9h0M200.8 444.1h0M212.1 383.6h0M197.3 422.8h0M197.8 447.0h0M154.5 454.6h0M209.0 419.2h0M195.7 378.5h0M143.0 417.1h0M192.7 376.2h0M223.3 410.9h0M202.7 418.5h0M202.7 382.3h0M216.8 398.5h0M191.6 434.6h0M170.1 406.6h0M173.7 419.8h0M172.2 384.3h0M179.5 410.4h0M179.0 383.8h0M183.4 457.2h0M152.9 378.8h0M183.5 427.3h0M153.1 441.8h0M180.7 359.9h0M163.0 406.5h0M160.7 444.5h0M174.8 409.4h0M211.9 372.7h0M211.2 357.1h0M202.8 377.6h0M170.5 364.6h0M191.3 421.0h0M167.8 393.4h0M163.8 437.6h0M204.8 369.5h0M156.1 425.2h0M187.1 419.7h0M176.8 410.7h0M147.8 384.1h0M194.1 419.9h0M185.8 405.7h0M194.1 399.6h0M183.0 391.9h0M193.3 379.9h0M218.2 408.6h0M186.7 438.3h0M197.1 409.0h0M178.6 381.9h0M207.8 392.2h0M204.4 422.2h0M204.7 370.5h0M159.3 457.0h0M186.5 370.2h0M169.0 426.3h0M160.5 399.2h0M182.4 456.9h0M194.8 385.2h0M208.4 384.6h0M186.9 393.1h0M171.2 399.0h0M198.4 399.3h0M210.4 390.0h0M197.1 414.7h0M207.0 402.6h0M175.1 406.1h0M195.5 417.5h0M182.3 425.9h0M211.4 367.4h0M209.2 358.5h0M201.6 397.6h0M168.1 402.5h0M213.6 381.2h0M193.9 384.9h0M206.9 416.9h0M177.3 445.8h0M190.1 428.7h0M138.9 401.3h0M190.3 425.9h0M166.3 398.6h0M158.4 454.7h0M179.5 446.4h0M197.7 413.0h0M152.6 393.5h0M187.3 382.6h0M180.9 420.3h0M183.5 433.4h0M175.9 393.1h0M199.5 360.6h0M146.4 410.3h0M212.1 387.9h0M151.7 428.3h0M206.1 386.3h0M203.9 409.0h0M186.9 391.3h0M178.0 392.5h0M193.1 418.2h0M206.0 405.3h0M159.2 378.7h0M195.7 445.4h0M178.5 423.2h0M209.7 403.8h0M185.2 367.9h0M185.9 389.9h0M213.7 400.1h0M203.4 390.3h0M213.2 412.5h0M192.8 453.1h0M183.1 384.0h0M188.2 406.6h0M194.9 400.7h0M183.4 386.9h0M194.1 398.5h0M185.2 399.6h0M203.8 433.1h0M165.5 431.3h0M167.1 379.2h0M205.2 439.8h0M184.9 426.0h0M187.2 405.9h0M179.0 363.0h0M206.1 406.0h0M199.0 376.1h0M201.4 367.2h0M177.5 390.5h0M169.1 451.0h0M227.9 406.9h0M215.3 421.2h0M163.3 432.9h0M202.9 400.2h0M159.3 393.0h0M191.3 417.9h0M174.5 455.0h0M194.4 373.9h0M168.7 435.4h0M203.4 404.9h0M192.4 360.8h0M197.2 387.1h0M194.0 391.4h0M200.0 450.3h0M238.9 396.2h0M187.7 456.1h0M212.6 371.6h0M163.3 416.6h0M167.1 422.6h0M140.9 425.7h0M212.4 379.1h0M178.2 428.8h0M221.3 405.2h0M186.1 388.8h0M204.8 410.3h0M163.4 414.2h0M210.6 395.7h0M200.9 453.1h0M178.2 444.5h0M173.1 434.9h0M159.2 457.4h0M183.4 434.5h0M169.7 394.8h0M211.5 369.0h0M188.4 436.3h0M201.7 418.6h0M167.0 429.1h0M192.5 442.1h0M181.9 411.2h0M209.6 359.3h0M167.2 425.9h0M201.7 380.6h0M194.4 400.9h0M185.9 389.9h0M162.8 373.8h0M166.3 452.8h0M190.5 416.4h0M187.0 374.5h0M185.0 393.2h0M197.3 451.2h0M211.1 395.9h0M196.0 391.4h0M180.9 395.8h0M185.1 446.1h0M163.8 429.3h0M186.1 380.5h0M186.1 438.5h0M174.3 402.5h0M174.9 441.1h0M199.3 414.7h0M211.4 432.4h0M195.7 376.3h0M155.8 442.6h0M200.6 378.5h0M192.7 357.2h0M166.5 403.7h0M158.5 422.7h0M192.1 451.6h0M203.8 414.3h0M197.6 372.3h0M170.0 439.2h0M157.0 415.3h0M176.3 392.4h0M170.9 415.2h0M209.7 399.8h0M196.6 433.7h0M152.5 417.8h0M156.9 414.7h0M175.4 396.6h0M178.9 436.1h0M153.9 445.8h0M138.5 446.8h0M169.2 402.7h0M154.8 364.1h0M168.0 449.3h0M191.3 392.8h0M172.1 419.6h0M142.9 452.6h0M166.3 446.3h0M180.5 377.8h0M209.2 396.8h0M195.6 396.8h0M185.0 430.7h0M175.5 378.5h0M198.0 412.8h0M197.9 438.1h0M193.5 387.1h0M183.8 373.9h0M178.6 408.8h0M185.4 417.3h0M202.7 438.7h0M213.5 403.3h0M195.8 397.1h0M187.4 420.7h0M196.3 436.1h0M188.3 384.8h0M178.0 373.2h0M194.2 371.9h0M181.1 438.8h0M196.5 383.7h0M224.1 403.4h0M179.7 441.7h0M188.9 391.8h0M189.3 403.4h0M194.9 403.4h0M203.7 372.1h0M166.8 416.2h0M194.5 422.7h0M175.8 376.3h0M196.4 400.3h0M151.8 409.3h0M165.6 368.9h0M156.5 457.1h0M142.2 405.2h0M197.9 422.1h0M163.8 379.2h0M165.4 448.3h0M180.2 375.8h0M182.3 369.1h0M163.8 440.6h0M183.4 424.7h0M175.8 454.2h0M200.3 415.4h0M169.6 424.6h0M175.4 426.8h0M189.0 376.9h0M196.8 363.8h0M139.4 429.4h0M189.7 397.8h0M164.1 440.9h0M189.8 390.8h0M198.8 401.8h0M192.1 412.0h0M207.8 376.6h0M198.4 390.4h0M207.0 349.6h0M210.1 382.0h0M210.3 367.2h0M207.8 382.6h0M184.6 374.7h0M177.1 446.0h0M155.3 425.5h0M169.1 448.8h0M187.3 401.3h0M183.7 405.8h0M204.6 374.6h0M187.7 390.5h0M201.1 361.1h0M181.4 389.0h0M212.9 370.4h0M211.4 429.1h0M200.5 385.4h0M194.7 438.8h0M187.0 405.6h0M203.9 356.5h0M195.2 416.9h0M176.6 431.1h0M209.0 427.2h0M186.1 421.4h0M165.6 409.9h0M184.9 406.5h0M184.3 362.0h0M168.1 457.5h0M207.6 380.0h0M165.3 370.8h0M199.3 449.4h0M164.0 447.8h0M202.7 414.7h0M203.1 379.6h0M209.1 406.5h0M142.5 452.7h0M184.2 432.5h0M180.0 392.0h0M175.7 422.7h0M178.2 383.2h0M192.4 385.9h0M198.0 455.8h0M171.7 410.4h0M202.4 427.2h0M175.0 410.3h0M197.4 452.9h0M209.4 393.4h0M210.5 396.9h0M177.3 443.2h0M190.6 408.8h0M199.2 370.5h0M185.6 369.1h0M194.9 430.2h0M206.3 390.9h0M158.8 419.6h0M175.2 445.1h0M196.5 364.4h0M201.7 382.5h0M171.6 416.2h0M184.0 438.3h0M239.2 401.5h0M187.0 433.4h0M238.4 409.7h0M199.8 437.2h0M146.0 443.0h0M192.2 408.5h0M164.6 396.1h0M207.7 417.7h0M206.3 378.5h0M193.7 434.8h0M218.8 411.8h0M189.2 408.3h0M194.9 400.1h0M191.2 432.9h0M175.5 414.2h0M185.7 410.9h0M176.6 430.5h0M181.1 413.7h0M198.1 407.6h0M187.3 455.1h0M194.5 394.2h0M176.2 425.5h0M207.5 385.7h0M144.3 390.7h0M163.2 441.8h0M208.0 383.2h0M162.9 405.4h0M193.7 391.3h0M189.3 406.8h0M182.4 452.4h0M174.8 423.8h0M202.1 439.5h0M199.4 428.4h0M164.9 438.9h0M222.4 423.1h0M154.3 378.9h0M178.1 369.7h0M192.2 422.7h0M159.3 401.7h0M161.2 433.8h0M188.8 355.2h0M179.5 357.2h0M155.3 431.4h0M212.8 411.5h0M196.9 431.1h0M179.5 419.8h0M202.2 394.3h0M211.9 417.6h0M180.0 385.7h0M158.7 419.8h0M187.4 397.2h0M179.2 422.9h0M205.4 398.2h0M190.8 418.4h0M171.5 426.1h0M171.5 449.7h0M212.5 417.2h0M204.0 372.9h0M160.1 426.1h0M185.5 399.5h0M202.9 449.2h0M185.7 422.8h0M210.8 395.7h0M178.9 416.7h0M138.5 380.0h0M214.6 414.1h0M184.3 409.3h0M202.3 418.6h0M195.7 438.1h0M152.4 435.9h0M213.5 387.8h0M182.6 364.1h0M177.2 405.0h0M197.1 437.9h0M174.1 351.4h0M200.9 438.2h0M225.1 406.1h0M202.9 381.6h0M221.6 409.2h0M150.8 442.7h0M182.0 393.2h0M150.4 413.1h0M195.8 392.2h0M169.8 370.9h0M193.8 423.1h0M169.1 440.6h0M172.8 419.4h0M197.4 373.7h0M187.4 377.4h0M189.9 395.5h0M229.1 400.5h0M211.8 396.7h0M185.8 409.4h0M197.4 422.1h0M203.4 417.6h0M211.6 433.9h0M174.6 449.2h0M185.5 394.9h0M176.1 457.7h0M178.5 400.8h0M195.0 402.9h0M202.3 370.3h0M150.6 444.1h0M152.7 389.2h0M212.7 416.3h0M189.6 392.3h0M177.2 399.9h0M172.4 426.4h0M193.2 409.4h0M200.1 422.8h0M201.9 385.0h0M197.4 401.1h0M198.7 426.8h0M207.0 367.7h0M201.9 368.8h0M208.8 401.4h0M170.8 387.7h0M197.5 382.1h0M192.0 396.5h0M172.4 437.4h0M193.7 410.8h0M203.4 401.0h0M188.2 382.4h0M170.7 420.1h0M183.3 394.3h0M176.4 432.1h0M194.9 387.9h0M145.6 382.6h0M189.1 398.4h0M157.0 444.1h0M167.6 376.7h0M203.3 377.2h0M221.2 422.2h0M182.4 452.7h0M174.9 386.3h0M211.9 448.7h0M207.9 424.7h0M176.4 457.0h0M155.0 456.3h0M166.6 451.0h0M190.2 426.6h0M183.0 409.7h0M187.7 399.3h0M205.4 388.3h0M214.4 400.4h0M206.2 395.6h0M174.0 418.4h0M184.0 382.5h0M207.7 361.3h0M174.7 439.3h0M170.0 388.1h0M187.9 421.0h0M209.1 385.2h0M177.0 367.8h0M187.7 377.0h0M197.7 398.0h0M186.8 411.0h0M204.4 414.0h0M172.1 360.6h0M149.9 382.6h0M201.1 408.2h0M157.5 425.8h0M186.5 394.5h0M186.9 444.2h0M194.5 395.7h0M189.7 381.7h0M198.5 389.9h0M186.9 417.9h0M168.3 394.3h0M162.0 395.0h0M199.8 422.7h0M147.1 430.2h0M211.5 417.4h0M185.1 446.1h0M220.4 396.3h0M236.0 411.6h0M200.2 411.3h0M170.0 423.6h0M171.7 405.0h0M197.3 376.6h0M206.0 389.8h0M196.1 432.3h0M184.4 439.6h0M190.6 401.6h0M209.0 421.6h0M170.2 389.3h0M187.6 405.3h0M188.2 428.1h0M176.6 411.9h0M198.6 433.1h0M197.2 411.1h0M198.5 418.5h0M167.4 421.2h0M169.0 421.3h0M190.9 423.1h0M197.6 377.6h0M178.6 452.1h0M169.5 441.9h0M145.7 410.4h0M206.8 424.3h0M182.7 451.5h0M195.9 420.7h0M186.2 387.6h0M189.5 395.2h0M165.5 413.2h0M212.3 392.9h0M210.1 377.6h0M165.0 387.7h0M195.2 352.3h0M183.5 396.8h0M137.5 398.2h0M156.7 413.6h0M147.7 434.4h0M187.4 389.0h0M190.6 403.8h0M178.0 382.8h0M231.0 395.3h0M175.8 432.4h0M166.4 405.4h0M201.8 398.0h0M146.8 411.1h0M168.6 409.4h0M214.0 422.1h0M178.0 409.6h0M208.8 356.8h0"/><path id="p7" stroke="#f0706a" d="M160.3 464.2h0M184.3 458.5h0M151.6 477.8h0M142.9 460.0h0M174.6 467.6h0M179.4 461.9h0M167.5 473.2h0M143.3 475.4h0M185.7 465.4h0M150.7 468.3h0M167.9 460.6h0M173.8 461.6h0M151.1 477.7h0M173.9 470.0h0M189.0 462.3h0M181.9 467.7h0M189.9 462.9h0M204.5 462.7h0M201.4 459.8h0M158.1 470.4h0M141.1 469.0h0M165.4 483.1h0M160.0 459.1h0M166.9 461.5h0M167.1 470.0h0M176.3 469.9h0M183.8 467.2h0M169.2 482.2h0M186.1 474.3h0M142.9 462.7h0M141.7 471.6h0M197.2 463.1h0M157.9 459.3h0M145.8 473.2h0M150.1 462.9h0M174.4 464.0h0M166.7 463.4h0M209.4 458.7h0M168.3 463.4h0M171.3 472.1h0M151.5 478.0h0M164.8 484.4h0M148.4 479.5h0M149.4 468.8h0M195.1 460.5h0M192.3 484.5h0M169.7 471.0h0M151.4 483.5h0M177.5 460.7h0M137.9 473.3h0M187.2 468.6h0M157.4 462.0h0M203.6 486.6h0M151.9 458.4h0M153.4 463.5h0M182.1 466.3h0M191.6 475.2h0M161.4 491.0h0M188.8 464.1h0M188.4 463.8h0M187.5 458.0h0M174.1 470.7h0M161.5 465.7h0M171.6 474.0h0M136.0 465.0h0M162.1 465.5h0M170.3 470.8h0M190.9 466.4h0M163.3 461.1h0M154.9 460.2h0M156.2 458.1h0M192.2 480.4h0M187.6 467.1h0M173.3 469.0h0M182.7 477.8h0M199.9 463.9h0"/><path id="p8" stroke="#2a9c2a" d="M217.5 371.9h0M231.7 382.7h0M223.6 386.4h0M238.9 391.7h0M198.6 352.6h0M220.1 392.4h0M191.8 369.2h0M207.2 381.4h0M202.0 391.6h0M230.8 383.8h0M158.8 342.1h0M158.3 345.0h0M192.4 355.8h0M203.8 383.6h0M230.9 388.5h0M190.1 347.4h0M253.4 383.0h0M200.9 387.7h0M250.1 391.0h0M206.4 382.7h0M211.3 378.6h0M251.6 385.4h0M241.3 318.7h0M200.6 377.4h0M221.0 355.4h0M218.0 358.6h0M201.3 365.7h0M210.4 362.2h0M242.6 384.8h0M230.5 393.7h0M192.8 381.3h0M220.1 393.3h0M246.8 387.0h0M220.8 392.7h0M204.5 371.3h0M220.5 390.4h0M230.3 384.3h0M211.6 353.2h0M201.7 387.1h0M241.2 357.5h0M203.6 354.6h0M227.8 372.7h0M176.0 331.5h0M272.2 370.5h0M214.8 356.6h0M206.3 377.1h0M236.5 392.0h0M196.9 352.4h0M259.4 364.3h0M219.6 394.9h0M254.1 392.9h0M225.7 348.3h0M189.4 341.0h0M213.2 372.4h0M214.3 379.6h0M223.7 383.7h0M206.9 370.3h0M226.7 392.2h0M214.4 394.4h0M229.3 386.1h0M190.4 390.9h0M236.3 394.4h0M230.6 335.2h0M216.5 385.2h0M202.9 391.3h0M197.4 374.9h0M220.3 390.8h0M245.6 387.3h0M218.7 356.2h0M210.4 362.8h0M222.4 385.4h0M246.5 372.6h0M192.7 349.6h0M257.8 394.1h0M228.0 386.2h0M201.3 356.4h0M199.7 348.0h0M212.1 353.1h0M192.7 372.8h0M206.4 333.3h0M194.4 359.2h0M204.7 356.5h0"/><path id="p9" stroke="#0b640f" d="M179.1 300.6h0M219.6 346.2h0M219.0 386.5h0M235.6 351.2h0M228.8 362.3h0M220.5 364.9h0M231.4 363.6h0M218.4 377.8h0M242.5 369.5h0M245.7 367.0h0M231.7 371.3h0M187.2 330.1h0M259.5 373.9h0M244.7 352.0h0M256.0 372.3h0M175.4 342.2h0M177.1 338.8h0M239.0 375.8h0M219.7 355.1h0M246.6 388.8h0M224.0 387.9h0M263.0 370.5h0M233.0 355.5h0M222.9 383.0h0M224.7 353.6h0M258.2 377.6h0M248.8 370.2h0M257.5 361.5h0M229.5 379.6h0M230.1 363.5h0M237.3 344.7h0M221.9 364.4h0M226.1 365.3h0M227.3 383.7h0M221.4 379.5h0M217.6 356.3h0M266.7 371.5h0M214.8 340.4h0M249.7 379.5h0M244.8 372.7h0M239.1 365.9h0M225.2 389.2h0M227.1 384.9h0M228.9 345.3h0M229.2 351.1h0M252.5 360.9h0M188.4 337.8h0M223.8 365.3h0M248.8 369.8h0M235.6 336.0h0M219.5 363.5h0M237.8 374.6h0M230.0 379.5h0M236.7 374.3h0M229.8 391.7h0M221.6 390.1h0M183.3 339.3h0M213.9 333.6h0M222.2 343.0h0M233.1 364.1h0M226.6 364.4h0M218.3 351.4h0M218.6 334.5h0M256.8 355.6h0M215.5 390.5h0M235.7 362.3h0M221.9 369.0h0M259.4 365.9h0M230.9 367.4h0M214.5 392.6h0M225.4 367.7h0M229.5 355.0h0M225.8 349.8h0M225.4 363.6h0M252.8 367.2h0M241.2 358.4h0M257.0 363.5h0M228.3 369.2h0M217.5 361.1h0M218.6 376.2h0M227.3 363.3h0M237.8 359.0h0M177.5 350.0h0M228.6 370.1h0M223.7 350.7h0M234.4 365.0h0M228.5 332.4h0M217.5 381.0h0M235.3 365.6h0M214.9 350.4h0M222.7 370.0h0M248.5 359.7h0M248.4 367.2h0M233.1 378.8h0M245.4 377.3h0M223.6 380.9h0M243.8 377.2h0M221.4 378.5h0M234.8 351.0h0M233.4 369.8h0M234.4 355.0h0M236.8 376.7h0M227.7 387.6h0M267.0 353.4h0M214.8 373.6h0M255.1 364.8h0M223.5 377.1h0M222.1 384.7h0M233.9 372.4h0M221.8 362.6h0M222.2 376.4h0M226.3 366.8h0M226.0 375.8h0M254.2 364.0h0M249.2 348.2h0M219.3 369.2h0M224.0 374.1h0M225.3 355.5h0M179.2 336.7h0M248.9 369.6h0M256.4 362.9h0M216.5 383.1h0M231.9 371.1h0M261.4 350.2h0M214.3 365.9h0M231.2 335.4h0M264.0 354.9h0M226.3 338.7h0M244.5 357.3h0M248.3 378.7h0M220.6 384.1h0M214.5 358.3h0M221.2 379.7h0M243.7 338.9h0M238.7 344.4h0M247.9 389.6h0M261.5 371.3h0M234.4 375.2h0M258.2 368.4h0M253.4 376.4h0M265.0 367.9h0M238.0 390.8h0M225.5 373.6h0M190.6 332.4h0M217.3 380.4h0M213.9 342.8h0M213.3 341.8h0M228.1 366.2h0M184.0 340.9h0M225.3 376.1h0M218.5 357.8h0M227.5 338.8h0M226.3 366.3h0M229.5 341.7h0M218.4 372.7h0M262.5 391.6h0M238.1 362.3h0M229.1 372.6h0M228.5 349.0h0M218.3 363.6h0M191.2 336.5h0M220.7 338.3h0M267.8 352.8h0M242.4 365.7h0M237.9 382.4h0M215.8 381.2h0M200.7 330.0h0M227.1 388.2h0M226.8 343.6h0M246.8 385.5h0M238.7 344.6h0M236.1 362.5h0M216.9 380.9h0M237.1 351.1h0M230.6 349.1h0M245.8 372.9h0M235.1 349.2h0M228.3 371.0h0M233.8 382.7h0M227.5 376.9h0M225.4 354.2h0M235.6 384.2h0M225.1 364.5h0M252.4 359.9h0M219.5 356.3h0M225.7 344.3h0M223.7 391.7h0M260.2 356.0h0M228.6 381.6h0M226.2 383.7h0M232.2 356.6h0M257.7 357.8h0M225.7 371.4h0M226.1 355.1h0M236.8 381.0h0M248.1 371.3h0M216.0 335.2h0M220.4 358.0h0M222.0 367.7h0M236.4 369.7h0M226.3 380.2h0M224.5 358.1h0M197.9 347.1h0M216.4 368.5h0M225.4 382.2h0M237.8 357.5h0M226.8 360.6h0M231.5 330.3h0M214.6 362.0h0"/><path id="p10" stroke="#c49cf2" d="M182.0 357.4h0M163.6 351.4h0M243.6 315.3h0"/></defs><g fill="none" stroke-linecap="round" stroke-width="2.9" opacity="0.3"><use href="#p6"/><use href="#p7"/><use href="#p8"/><use href="#p9"/><use href="#p10"/></g><g fill="none" stroke-linecap="round" stroke-width="1.85"><use href="#p6"/><use href="#p7"/><use href="#p8"/><use href="#p9"/><use href="#p10"/></g><defs><path id="p11" stroke="#2a9c2a" d="M230.1 390.3h0M227.2 391.8h0M222.4 393.7h0M245.5 367.2h0M193.5 333.2h0M208.6 383.5h0M221.1 363.4h0M223.3 389.7h0M188.1 388.0h0M267.5 384.8h0M188.3 374.8h0M219.8 356.3h0M211.4 352.0h0M230.4 392.9h0M203.0 357.5h0M226.3 381.0h0M203.5 354.7h0M203.4 392.2h0M208.7 346.8h0M195.8 355.3h0M195.7 372.6h0M205.5 357.6h0M238.3 394.0h0M234.8 393.1h0M203.8 383.0h0M221.3 391.2h0M231.0 363.2h0M230.5 386.5h0M214.0 385.8h0M210.2 386.4h0M237.9 392.9h0M225.2 389.8h0M189.1 384.5h0M217.7 390.4h0M193.5 393.0h0M175.6 333.6h0M205.9 326.9h0M215.8 390.7h0M262.2 364.2h0M226.7 383.8h0M222.9 385.6h0M252.0 392.4h0M164.0 335.3h0M205.6 369.2h0M231.4 395.1h0M201.7 361.1h0M223.3 393.4h0M241.9 391.7h0M248.1 392.1h0M217.8 351.9h0M216.5 374.7h0"/><path id="p12" stroke="#0b640f" d="M301.4 366.7h0M227.6 351.3h0M224.4 370.4h0M217.7 394.0h0M221.7 366.9h0M224.5 343.6h0M222.0 363.3h0M248.0 381.5h0M249.1 362.1h0M261.0 359.7h0M248.0 361.0h0M227.6 370.1h0M246.9 385.6h0M256.0 374.6h0M221.8 367.7h0M260.3 341.8h0M223.1 393.3h0M241.9 371.4h0M228.8 367.7h0M226.0 388.2h0M233.5 380.1h0M224.9 361.3h0M233.4 347.3h0M234.0 363.8h0M237.4 373.4h0M243.1 373.0h0M215.8 358.1h0M263.8 355.3h0M257.3 373.1h0M223.5 381.4h0M224.8 358.0h0M235.0 352.5h0M227.6 352.5h0M251.3 356.2h0M240.5 381.6h0M237.5 369.1h0M242.6 357.2h0M244.2 370.8h0M222.3 332.2h0M240.6 391.8h0M229.7 358.0h0M237.4 344.6h0M233.8 375.7h0M230.0 368.7h0M215.7 379.1h0M216.8 354.5h0M251.7 352.5h0M224.1 383.5h0M229.5 348.1h0M215.9 373.8h0M258.7 357.5h0M225.1 329.1h0M229.2 377.0h0M216.3 379.5h0M235.9 363.9h0M249.2 372.6h0M216.5 366.5h0M227.1 392.5h0M221.6 350.0h0M241.9 348.5h0M239.4 359.8h0M222.1 344.1h0M229.8 376.9h0M222.2 369.2h0M222.0 343.7h0M232.5 369.6h0M244.4 377.0h0M220.6 377.6h0M279.2 367.8h0M239.0 344.8h0M228.2 375.8h0M214.6 369.3h0M246.2 320.6h0M243.4 378.6h0M231.3 374.0h0M234.3 375.8h0M238.9 391.8h0M242.8 326.0h0M197.1 320.5h0M227.4 367.0h0M223.5 380.8h0M230.9 374.1h0M214.3 347.6h0M216.8 375.8h0M231.4 371.8h0M235.0 374.2h0M217.8 324.5h0M226.5 378.9h0M221.6 332.7h0M224.7 374.6h0M225.7 394.5h0M221.3 379.8h0M246.4 361.2h0M215.9 381.6h0M179.6 340.0h0M215.3 381.0h0M217.8 379.4h0M251.5 380.0h0M222.4 367.0h0M223.6 375.1h0M227.9 364.8h0M229.7 378.1h0M218.5 368.5h0M266.8 339.5h0M226.8 351.4h0M217.8 378.2h0M271.6 386.4h0M235.5 375.4h0M260.9 368.0h0M232.2 349.1h0M240.9 363.7h0M224.1 378.4h0M223.5 338.7h0M224.8 326.4h0M223.6 335.6h0M261.7 358.7h0M246.2 374.2h0M221.7 367.8h0M230.8 355.1h0M234.1 349.9h0M250.7 387.9h0M259.4 342.8h0M228.7 379.8h0M214.0 357.9h0M222.2 375.0h0M217.4 370.4h0M237.2 350.4h0M217.7 374.8h0M216.0 355.3h0M218.8 376.2h0M254.1 368.0h0M233.0 386.3h0M216.7 332.3h0M251.4 348.4h0M214.7 384.8h0M240.0 385.5h0M234.3 363.5h0M222.0 356.1h0M222.8 368.4h0M221.9 367.6h0M229.0 372.7h0M214.9 392.4h0M251.9 366.0h0M226.1 376.8h0M227.5 364.4h0M240.7 346.1h0M236.5 357.6h0M220.5 339.4h0M231.2 359.7h0M252.2 365.5h0M226.4 340.0h0M223.5 367.6h0M229.6 372.3h0M232.0 357.2h0M221.2 365.6h0M269.3 359.6h0M225.5 378.2h0M262.8 360.5h0M235.2 364.0h0M238.7 370.7h0M222.4 378.8h0M222.5 368.8h0M223.7 361.8h0M216.2 361.6h0M214.8 318.2h0M222.7 388.5h0M273.7 357.4h0M222.7 355.1h0M247.2 351.6h0M232.5 377.7h0M229.7 385.0h0M247.7 356.7h0M215.9 320.8h0M237.1 338.4h0M215.4 376.9h0M223.9 357.4h0M227.3 381.7h0M179.1 345.6h0M234.9 341.0h0M221.4 363.4h0M232.3 370.7h0M229.2 392.2h0M258.9 349.3h0M244.0 358.6h0M230.5 377.0h0M220.7 368.6h0M225.2 350.9h0M225.5 371.1h0M266.0 361.9h0M227.9 367.0h0M224.7 378.6h0M233.2 377.1h0M236.2 380.6h0M254.6 369.6h0M244.3 381.3h0M230.1 362.0h0M241.2 363.0h0M258.0 393.8h0M218.6 363.6h0"/><path id="p13" stroke="#f0706a" d="M169.6 460.4h0M172.0 465.5h0M167.0 493.4h0M191.2 458.9h0M138.8 458.7h0M140.1 476.5h0M186.7 469.9h0M187.6 458.4h0M180.5 463.3h0M170.3 461.2h0M172.5 460.6h0M154.9 470.0h0M167.2 459.4h0M172.5 462.8h0M155.2 484.1h0M190.4 460.3h0M174.9 464.5h0M186.7 462.6h0M165.8 462.0h0M155.2 461.7h0M153.9 462.5h0M174.0 468.6h0M153.6 467.3h0M189.2 458.5h0M147.0 471.7h0M156.6 458.3h0M177.8 477.0h0M165.0 471.8h0M169.2 460.8h0M149.9 460.2h0M184.4 465.2h0M161.4 460.5h0M194.6 462.5h0M142.2 468.0h0M167.5 467.7h0M167.0 472.0h0M172.4 462.8h0M158.8 460.4h0M166.3 462.7h0M190.2 477.9h0M155.6 476.0h0M176.4 475.5h0M152.6 458.2h0M158.5 475.1h0M195.4 462.0h0M176.8 458.3h0M226.3 464.2h0M173.0 470.1h0M181.3 475.4h0M189.6 479.8h0M143.5 459.8h0M191.0 474.6h0M236.4 458.2h0M142.3 471.3h0M180.2 472.4h0M194.4 471.8h0M176.0 460.9h0M141.1 479.5h0M148.1 465.7h0M179.5 487.8h0M166.0 501.9h0M180.9 458.7h0M192.7 468.6h0M189.1 467.5h0M144.4 487.8h0M157.9 469.3h0M175.4 486.8h0"/><path id="p14" stroke="#f6dc6e" d="M190.1 429.7h0M178.2 409.2h0M162.0 392.8h0M162.3 430.3h0M189.5 403.1h0M195.8 417.7h0M209.4 364.5h0M201.4 454.2h0M172.0 430.8h0M180.4 392.2h0M166.5 453.0h0M183.8 456.0h0M172.6 390.5h0M189.0 440.8h0M186.7 443.5h0M184.5 436.8h0M181.4 403.0h0M213.5 364.1h0M204.3 395.6h0M205.8 448.5h0M218.5 398.3h0M159.5 410.3h0M179.2 436.7h0M207.1 386.7h0M177.9 401.5h0M211.7 379.6h0M205.1 406.3h0M189.8 390.8h0M172.1 398.1h0M197.4 414.7h0M183.1 446.0h0M187.8 448.8h0M195.1 421.5h0M194.0 356.3h0M184.7 380.7h0M194.4 447.9h0M198.5 419.1h0M213.7 421.1h0M186.3 439.8h0M178.2 454.8h0M145.7 457.8h0M167.1 444.9h0M183.8 435.9h0M166.7 433.6h0M192.4 412.5h0M160.0 440.8h0M176.9 362.3h0M186.5 371.2h0M205.3 396.8h0M186.4 385.7h0M187.6 432.9h0M192.7 443.1h0M191.2 399.9h0M177.4 433.8h0M163.5 396.3h0M162.7 406.6h0M192.4 432.8h0M186.1 424.8h0M173.0 379.7h0M198.0 372.8h0M168.5 415.4h0M204.6 406.7h0M171.8 410.5h0M209.6 400.5h0M205.1 402.1h0M152.9 441.8h0M204.2 441.7h0M186.3 418.3h0M150.7 441.6h0M181.8 368.7h0M184.7 351.5h0M185.5 401.8h0M192.6 391.8h0M205.3 382.0h0M206.7 389.6h0M219.2 399.6h0M204.7 418.5h0M179.9 408.8h0M209.0 427.2h0M162.1 371.9h0M207.6 415.5h0M172.5 414.5h0M195.2 416.2h0M197.4 428.3h0M204.2 399.3h0M185.8 398.1h0M198.0 439.8h0M175.4 445.5h0M162.3 395.6h0M195.4 412.7h0M208.1 397.7h0M165.2 378.1h0M207.8 412.9h0M219.3 410.7h0M182.6 381.2h0M190.4 440.7h0M206.6 367.8h0M192.2 413.7h0M159.0 418.8h0M155.7 453.0h0M193.7 402.5h0M198.6 436.8h0M190.9 411.0h0M175.9 367.7h0M214.3 410.7h0M180.5 395.7h0M201.8 395.2h0M185.0 370.2h0M162.6 387.6h0M191.2 407.3h0M206.2 379.8h0M173.0 388.2h0M212.3 428.2h0M200.9 425.8h0M208.7 432.6h0M173.5 415.7h0M232.0 396.1h0M204.4 400.0h0M229.8 404.6h0M170.1 441.2h0M213.7 376.8h0M203.6 403.5h0M202.3 410.7h0M215.2 418.4h0M168.7 428.4h0M214.0 416.8h0M199.7 416.4h0M202.0 354.5h0M196.5 369.1h0M159.5 413.6h0M184.0 397.5h0M202.7 408.3h0M176.9 423.9h0M167.6 450.6h0M209.4 385.0h0M189.6 387.3h0M174.1 420.1h0M182.5 396.4h0M167.4 439.4h0M192.8 399.4h0M188.2 381.2h0M194.0 404.6h0M188.4 371.1h0M176.5 428.7h0M175.2 421.9h0M208.8 394.7h0M172.0 358.1h0M223.6 408.0h0M208.4 393.3h0M180.0 391.6h0M162.6 396.7h0M191.4 416.2h0M179.1 418.8h0M169.7 402.5h0M177.0 357.1h0M214.7 409.9h0M191.5 391.1h0M178.1 396.8h0M147.2 394.0h0M191.2 428.7h0M168.6 403.2h0M167.1 457.6h0M174.6 406.1h0M199.9 382.2h0M209.5 418.0h0M197.0 367.3h0M190.8 384.6h0M196.0 385.6h0M153.4 428.7h0M184.6 403.3h0M193.8 424.8h0M195.8 447.4h0M198.0 390.9h0M217.2 424.4h0M197.5 385.8h0M153.1 436.8h0M159.3 417.7h0M202.8 414.2h0M186.1 425.2h0M211.9 392.9h0M195.4 390.2h0M175.9 388.1h0M203.4 440.5h0M207.2 423.9h0M191.0 365.6h0M194.9 420.3h0M181.8 447.2h0M204.2 372.5h0M174.0 423.8h0M188.8 416.8h0M195.3 409.3h0M185.2 437.8h0M169.0 395.6h0M205.0 428.4h0M206.1 413.4h0M212.2 381.2h0M216.1 402.2h0M165.4 385.7h0M154.2 399.2h0M189.1 356.1h0M186.4 442.9h0M209.9 388.7h0M192.7 395.7h0M150.2 417.0h0M204.0 404.8h0M197.6 423.7h0M194.0 356.1h0M217.6 440.7h0M145.9 429.5h0M174.5 439.6h0M193.9 395.4h0M161.3 435.0h0M178.4 375.1h0M206.2 385.3h0M168.5 411.4h0M198.1 444.7h0M206.7 389.2h0M165.8 409.7h0M170.2 374.2h0M184.8 365.3h0M185.3 401.6h0M182.2 434.1h0M198.7 386.8h0M214.6 395.2h0M212.8 379.6h0M152.3 429.3h0M163.9 436.6h0M189.2 396.6h0M198.5 447.8h0M187.1 398.5h0M195.8 443.1h0M208.1 384.6h0M215.3 401.5h0M155.9 427.3h0M176.8 390.6h0M215.8 413.3h0M211.4 354.7h0M139.6 433.4h0M163.8 445.3h0M191.6 370.5h0M204.3 402.8h0M147.0 395.8h0M172.8 421.4h0M180.0 393.4h0M247.1 403.9h0M172.9 412.7h0M184.3 367.7h0M200.4 415.5h0M187.2 404.1h0M196.6 385.6h0M177.3 418.0h0M195.1 386.7h0M157.0 432.7h0M229.7 395.7h0M149.0 450.9h0M171.7 379.6h0M193.8 435.6h0M181.8 424.8h0M145.1 428.3h0M191.8 362.9h0M184.8 431.2h0M212.8 387.6h0M176.6 416.6h0M205.1 436.3h0M157.2 456.7h0M186.9 388.7h0M197.7 449.3h0M160.8 407.0h0M223.1 413.4h0M148.6 434.6h0M221.2 422.2h0M222.8 396.0h0M183.1 359.1h0M157.5 443.6h0M175.0 414.2h0M209.2 415.6h0M204.1 425.0h0M205.9 387.0h0M145.0 442.5h0M199.5 420.6h0M228.9 427.5h0M196.6 371.8h0M168.6 434.5h0M213.4 366.1h0M186.5 399.2h0M181.6 398.6h0M205.0 369.6h0M204.9 417.5h0M195.8 380.2h0M182.0 411.4h0M179.9 436.0h0M172.3 445.8h0M189.7 412.8h0M175.8 401.7h0M194.9 390.3h0M211.3 402.7h0M218.3 404.9h0M163.1 365.4h0M211.8 429.2h0M189.8 366.3h0M201.2 396.1h0M199.7 372.0h0M185.7 394.2h0M198.4 377.3h0M195.8 404.9h0M191.4 408.5h0M204.7 409.1h0M174.2 404.0h0M188.7 402.7h0M168.7 402.1h0M174.4 384.0h0M154.0 450.8h0M168.1 405.5h0M162.9 411.9h0M202.8 413.7h0M201.0 428.0h0M183.0 444.2h0M144.8 445.4h0M181.6 429.4h0M197.0 389.7h0M180.8 441.8h0M189.1 357.2h0M195.1 410.3h0M198.9 373.6h0M186.8 405.6h0M194.4 365.9h0M208.8 373.0h0M143.8 435.9h0M185.7 427.6h0M187.9 429.4h0M153.5 432.9h0M164.3 434.5h0M192.3 403.9h0M152.6 445.1h0M200.7 385.4h0M227.4 396.4h0M175.1 442.4h0M236.7 395.2h0M206.3 404.0h0M189.2 392.5h0M187.6 445.5h0M170.2 417.1h0M191.5 394.6h0M206.0 425.6h0M210.8 403.0h0M185.7 425.7h0M201.8 400.4h0M155.3 420.9h0M206.5 363.5h0M170.4 399.6h0M183.2 404.6h0M183.2 405.8h0M181.7 413.6h0M198.2 391.9h0M177.9 392.7h0M162.3 387.8h0M154.1 392.5h0M212.7 386.3h0M189.1 388.8h0M193.4 431.0h0M179.4 407.2h0M168.0 422.7h0M176.2 412.0h0M195.1 437.6h0M187.4 371.5h0M206.8 367.4h0M194.9 372.7h0M234.4 414.3h0M167.6 428.2h0M205.4 440.8h0M194.0 422.2h0M207.9 424.3h0M199.9 438.8h0M211.2 431.2h0M198.8 395.2h0M154.9 425.3h0M166.5 421.9h0M226.8 415.2h0M201.7 408.9h0M189.7 454.6h0M191.7 400.4h0M196.9 393.3h0M203.3 411.7h0M226.9 404.7h0M184.8 393.0h0M182.6 402.9h0M198.8 408.8h0M163.6 448.8h0M157.4 388.6h0M175.0 457.2h0M165.4 396.8h0M195.2 388.1h0M178.2 409.6h0M199.3 393.0h0M175.9 388.2h0M196.2 418.2h0M213.4 366.3h0M194.7 402.6h0M175.4 421.5h0M169.6 427.7h0M181.8 425.0h0M195.6 409.0h0M183.3 403.8h0M129.2 429.1h0M161.9 447.6h0M182.7 380.1h0M208.9 405.8h0M184.8 408.7h0M150.0 457.1h0M211.3 407.6h0M180.4 382.6h0M182.2 410.1h0M180.7 400.3h0M204.3 372.5h0M201.9 388.5h0M176.2 439.9h0M177.8 398.9h0M219.9 396.5h0M182.8 380.3h0M228.0 429.0h0M176.8 408.4h0M206.1 378.6h0M206.9 397.5h0M151.2 437.5h0M191.0 415.3h0M207.8 379.6h0M159.5 434.2h0M161.4 443.5h0M171.3 442.8h0M172.7 413.8h0M172.1 435.3h0M199.1 435.3h0M235.8 403.4h0M199.6 411.0h0M184.8 371.0h0M177.2 422.6h0M175.0 446.7h0M173.8 414.8h0M160.1 420.5h0M190.1 410.7h0M212.4 402.8h0M182.6 358.0h0M180.8 423.2h0M184.6 418.4h0M209.5 375.2h0M182.8 427.1h0M154.3 456.1h0M176.8 376.6h0M182.4 375.7h0M170.6 418.5h0M204.3 388.2h0M162.3 431.9h0M174.0 403.7h0M219.6 401.6h0M193.7 449.0h0M193.1 399.0h0M177.9 407.9h0M162.1 456.3h0M196.9 414.4h0M203.2 396.5h0M157.5 444.7h0M190.6 406.5h0M189.1 371.5h0M184.7 374.3h0M189.1 416.0h0M203.5 423.2h0M138.8 441.7h0M209.1 375.0h0M161.8 406.3h0M178.1 454.9h0M212.9 398.1h0M195.9 386.0h0M190.2 396.4h0M191.2 392.7h0M225.0 396.0h0M216.4 398.4h0M183.9 425.4h0M201.9 363.6h0M211.0 389.0h0M201.9 438.0h0M168.2 399.0h0M162.6 409.0h0M170.9 456.6h0M197.1 386.9h0M172.4 405.0h0M183.5 392.7h0M170.9 421.1h0M185.0 377.9h0M185.4 385.7h0M194.1 413.9h0M206.6 407.0h0M207.7 429.6h0M176.8 422.7h0M219.4 421.1h0M205.3 395.9h0M170.6 438.9h0M176.4 390.9h0M202.2 436.2h0M208.6 371.1h0M185.9 395.2h0M201.5 412.1h0M177.0 434.3h0M192.4 419.1h0M159.9 400.5h0M192.1 399.8h0M188.5 403.1h0M200.9 442.0h0M197.0 409.3h0M169.5 406.4h0M216.5 398.0h0M193.1 369.5h0M208.0 387.0h0M207.6 395.8h0M202.7 392.4h0M177.1 382.2h0M201.3 387.9h0M168.9 401.3h0M215.6 403.2h0M191.5 390.5h0M201.0 422.0h0M188.6 375.9h0M202.3 399.6h0M208.7 351.5h0M210.5 404.8h0M183.9 428.4h0M171.0 400.0h0M192.6 393.2h0M206.5 422.3h0M154.2 415.6h0M193.5 395.0h0M205.8 382.4h0M200.4 402.6h0M187.0 411.5h0M180.2 450.0h0M186.0 376.4h0M187.7 441.0h0M174.2 440.3h0M168.5 455.6h0M169.2 454.8h0M185.5 448.3h0M205.4 433.5h0M186.1 384.5h0M203.5 436.2h0M149.0 398.7h0M199.7 374.0h0M192.4 404.1h0M147.6 431.2h0M191.6 407.7h0M188.1 411.8h0M183.0 435.9h0M198.1 454.0h0M165.7 397.3h0M187.2 435.9h0M185.8 368.8h0M203.5 442.0h0M175.7 412.7h0M213.6 363.4h0M162.7 393.7h0M212.3 416.4h0M173.6 431.6h0M195.6 411.2h0M177.8 422.2h0M178.0 418.5h0M200.7 373.4h0M193.4 446.6h0M186.3 383.1h0M167.6 416.4h0M170.8 449.7h0M205.4 431.0h0M168.9 383.3h0M183.1 439.4h0M202.5 394.7h0M205.4 407.4h0M179.2 372.9h0M206.6 457.4h0M171.7 454.8h0M196.8 408.1h0M170.4 430.8h0M175.2 446.1h0M179.0 400.1h0M178.7 374.2h0M202.4 438.6h0M180.4 392.2h0M192.6 450.7h0M177.6 447.1h0M188.1 415.4h0M160.5 417.6h0M96.4 415.9h0M186.6 444.8h0M176.9 383.9h0M175.6 444.2h0M193.8 382.8h0M189.1 420.1h0M184.9 405.1h0M189.5 392.3h0M180.6 393.9h0M160.1 448.8h0M191.5 385.4h0M184.8 361.5h0M156.5 427.0h0M181.6 431.4h0M181.5 370.3h0M192.8 405.4h0M192.6 437.0h0M186.0 411.5h0M168.9 406.6h0M186.4 381.4h0M172.4 398.5h0M175.0 423.6h0M197.8 443.1h0M158.3 426.7h0M208.2 366.0h0M195.4 372.8h0M179.0 411.1h0M194.0 394.1h0M196.7 408.5h0M189.0 384.9h0M178.4 412.0h0M203.9 386.1h0M207.1 375.3h0M183.7 402.6h0M172.0 429.4h0M185.3 380.6h0M188.4 411.5h0M181.5 395.6h0M193.6 424.3h0M197.1 429.3h0M173.8 398.7h0M182.1 384.3h0M198.1 416.7h0M194.8 410.3h0M173.9 434.9h0M203.7 391.6h0M143.3 401.5h0M215.1 398.2h0M215.6 397.6h0M186.8 428.2h0M161.6 388.8h0M174.6 361.6h0M212.1 392.1h0M194.9 381.4h0M198.1 402.0h0M198.1 412.5h0M196.0 428.2h0M181.5 425.3h0M196.1 445.8h0M173.7 391.5h0M189.8 389.3h0M193.2 403.6h0M194.9 417.9h0M180.6 402.6h0M172.7 363.0h0M192.4 410.4h0M194.7 425.1h0M150.8 408.5h0M182.1 381.6h0M180.2 433.6h0M162.9 457.4h0M197.1 402.2h0M186.2 407.8h0M154.1 426.9h0M172.5 393.6h0M187.9 442.3h0M175.5 426.7h0M175.3 400.3h0M167.0 422.7h0M187.8 408.9h0M202.2 412.0h0M186.2 423.7h0M169.5 412.1h0M217.4 416.7h0M186.0 398.6h0M198.1 406.0h0M158.2 441.0h0M205.9 421.5h0M171.3 423.3h0M191.3 447.4h0M157.5 440.9h0M212.4 411.5h0M197.1 409.1h0M210.4 357.6h0M149.4 422.6h0M203.7 405.3h0M145.5 406.2h0M206.2 384.9h0M176.8 379.4h0M199.4 371.9h0M140.2 447.3h0M175.3 439.3h0M204.7 438.0h0M207.6 373.8h0M186.1 358.8h0M146.6 457.4h0M166.9 435.1h0M166.1 427.6h0M182.3 408.8h0M175.6 401.2h0M190.2 424.9h0M174.2 362.9h0M174.9 398.8h0M168.0 422.5h0M198.9 452.6h0M214.6 401.9h0M139.0 424.0h0M213.4 369.4h0M199.0 437.2h0M159.7 409.7h0M161.1 440.5h0M202.3 423.6h0M228.1 397.7h0M225.7 411.3h0M180.9 429.7h0M193.4 366.5h0M168.4 449.5h0M207.2 417.4h0M170.4 390.7h0M139.3 452.9h0M183.3 413.6h0M147.7 423.7h0M215.4 408.1h0M185.4 385.6h0M182.2 413.5h0M230.4 401.1h0M154.4 407.1h0M199.5 380.9h0M202.8 365.2h0M211.9 372.4h0M185.9 435.7h0M204.5 376.8h0M210.5 387.2h0M151.6 415.8h0M182.6 453.0h0M177.5 444.8h0M198.7 425.0h0M116.3 414.3h0M204.6 439.3h0M150.9 446.2h0M180.0 388.2h0M194.3 366.8h0M198.7 385.4h0M176.5 389.4h0M198.0 397.9h0M209.7 401.9h0M166.1 426.9h0M203.6 401.1h0M199.4 357.7h0M200.6 440.7h0M206.4 424.2h0M189.2 430.7h0M188.9 393.8h0M200.8 453.9h0M183.5 432.9h0M208.1 380.5h0M187.0 365.4h0M147.6 456.2h0M161.6 419.6h0M162.5 396.8h0M224.7 396.7h0M180.3 438.9h0M218.3 396.9h0M185.1 425.8h0M207.5 385.0h0M158.4 440.5h0M158.6 401.1h0M216.2 422.1h0M180.5 397.6h0M208.4 396.2h0M163.3 451.4h0M193.0 408.4h0M193.5 386.2h0M215.6 407.8h0M196.8 415.5h0M177.3 437.0h0M193.3 413.5h0M172.5 453.4h0M164.2 422.6h0M174.7 436.7h0M187.2 395.2h0M196.0 426.3h0M190.0 427.4h0M165.1 369.6h0M206.4 418.5h0M189.8 431.2h0M182.1 431.0h0M177.5 385.1h0M177.6 451.4h0M173.2 441.8h0M172.7 452.7h0M213.3 426.3h0M212.1 370.0h0M156.5 392.8h0M154.8 433.6h0M200.3 404.7h0M210.0 361.2h0M211.7 409.4h0M190.1 422.0h0M178.3 440.2h0M163.0 417.7h0M163.3 409.7h0M155.2 415.9h0M150.9 446.9h0M214.1 428.8h0M187.8 431.5h0M206.6 376.7h0M178.4 402.2h0M197.1 415.4h0M173.3 446.8h0M168.9 402.6h0M173.8 404.9h0M209.7 354.5h0M184.9 363.0h0M139.1 425.4h0M148.8 415.9h0M176.8 445.0h0M176.1 417.3h0M188.9 371.5h0M195.0 378.3h0M189.5 379.2h0M163.3 423.9h0M167.0 443.4h0M173.7 397.3h0M191.1 396.9h0M189.7 408.4h0M168.7 431.0h0M204.8 414.9h0M186.1 383.0h0M195.1 382.9h0M181.6 404.9h0M208.4 367.1h0M174.7 414.0h0M153.7 379.0h0M219.5 455.7h0M168.6 434.0h0M184.3 401.0h0M199.6 409.9h0M161.0 430.7h0M192.7 401.7h0M209.0 397.5h0M198.5 374.2h0M188.9 428.7h0M163.1 425.2h0M195.5 384.0h0M179.9 365.9h0M220.8 398.4h0M165.8 377.8h0M176.4 433.9h0M165.5 406.3h0M166.0 445.6h0M138.8 403.8h0M170.7 423.4h0M162.0 391.1h0M192.7 387.3h0M209.3 401.4h0M181.3 414.6h0M164.7 429.9h0M206.7 414.0h0M197.0 427.6h0M163.8 398.8h0M163.5 398.5h0M174.3 380.8h0M237.9 398.6h0M200.6 408.5h0M143.5 453.2h0M155.2 392.9h0M193.1 449.7h0M190.9 430.0h0M157.5 435.1h0M145.7 442.3h0M161.5 449.6h0M212.4 410.0h0M168.8 394.7h0M186.5 395.6h0M211.8 413.5h0M208.4 380.6h0M199.5 390.4h0M205.6 414.8h0M205.9 386.1h0M191.9 369.8h0M198.9 442.8h0M164.5 437.7h0M169.2 457.1h0M198.2 422.8h0M199.8 366.6h0M216.2 429.7h0M182.3 415.7h0M211.3 401.6h0M198.9 385.6h0M205.6 411.2h0M161.8 400.5h0M163.2 424.1h0M189.1 384.3h0M156.5 448.9h0M196.8 430.9h0M196.3 432.8h0M175.3 391.4h0M205.9 363.4h0M163.0 402.1h0M216.1 411.4h0M207.0 362.5h0M192.7 394.5h0M177.9 385.0h0M180.3 386.6h0M179.0 391.6h0M173.0 432.4h0M154.3 410.4h0M175.9 414.6h0M195.0 371.9h0M196.1 441.9h0M171.7 391.7h0M192.1 384.6h0M205.6 390.9h0"/><path id="p15" stroke="#c49cf2" d="M186.1 355.0h0M236.3 333.6h0"/></defs><g fill="none" stroke-linecap="round" stroke-width="2.9" opacity="0.3"><use href="#p11"/><use href="#p12"/><use href="#p13"/><use href="#p14"/><use href="#p15"/></g><g fill="none" stroke-linecap="round" stroke-width="1.85"><use href="#p11"/><use href="#p12"/><use href="#p13"/><use href="#p14"/><use href="#p15"/></g>
<path d="M187.51 294V512.7M79.5 395.12H313.1" stroke="#8a8a8a" stroke-width="1.15" fill="none" opacity="0.4"/>
<rect x="79.5" y="294" width="233.60000000000002" height="218.70000000000005" fill="none" stroke="#111" stroke-width="1.5"/>
<text transform="translate(78.60,522.90) scale(0.93,1)" font-size="8.6" fill="#000" text-anchor="middle" letter-spacing="-0.5">10<tspan dy="-3.7" dx="0.5" font-size="6.3" letter-spacing="-0.1">-2</tspan></text>
<text transform="translate(74.20,515.90) scale(0.93,1)" font-size="8.6" fill="#000" text-anchor="end" letter-spacing="-0.5">10<tspan dy="-3.7" dx="0.5" font-size="6.3" letter-spacing="-0.1">-4</tspan></text>
<text transform="translate(107.80,522.90) scale(0.93,1)" font-size="8.6" fill="#000" text-anchor="middle" letter-spacing="-0.5">10<tspan dy="-3.7" dx="0.5" font-size="6.3" letter-spacing="-0.1">-1</tspan></text>
<text transform="translate(74.20,488.56) scale(0.93,1)" font-size="8.6" fill="#000" text-anchor="end" letter-spacing="-0.5">10<tspan dy="-3.7" dx="0.5" font-size="6.3" letter-spacing="-0.1">-3</tspan></text>
<text transform="translate(137.00,522.90) scale(0.93,1)" font-size="8.6" fill="#000" text-anchor="middle" letter-spacing="-0.5">10<tspan dy="-3.7" dx="0.5" font-size="6.3" letter-spacing="-0.1">0</tspan></text>
<text transform="translate(74.20,461.23) scale(0.93,1)" font-size="8.6" fill="#000" text-anchor="end" letter-spacing="-0.5">10<tspan dy="-3.7" dx="0.5" font-size="6.3" letter-spacing="-0.1">-2</tspan></text>
<text transform="translate(166.20,522.90) scale(0.93,1)" font-size="8.6" fill="#000" text-anchor="middle" letter-spacing="-0.5">10<tspan dy="-3.7" dx="0.5" font-size="6.3" letter-spacing="-0.1">1</tspan></text>
<text transform="translate(74.20,433.89) scale(0.93,1)" font-size="8.6" fill="#000" text-anchor="end" letter-spacing="-0.5">10<tspan dy="-3.7" dx="0.5" font-size="6.3" letter-spacing="-0.1">-1</tspan></text>
<text transform="translate(195.40,522.90) scale(0.93,1)" font-size="8.6" fill="#000" text-anchor="middle" letter-spacing="-0.5">10<tspan dy="-3.7" dx="0.5" font-size="6.3" letter-spacing="-0.1">2</tspan></text>
<text transform="translate(74.20,406.55) scale(0.93,1)" font-size="8.6" fill="#000" text-anchor="end" letter-spacing="-0.5">10<tspan dy="-3.7" dx="0.5" font-size="6.3" letter-spacing="-0.1">0</tspan></text>
<text transform="translate(224.60,522.90) scale(0.93,1)" font-size="8.6" fill="#000" text-anchor="middle" letter-spacing="-0.5">10<tspan dy="-3.7" dx="0.5" font-size="6.3" letter-spacing="-0.1">3</tspan></text>
<text transform="translate(74.20,379.21) scale(0.93,1)" font-size="8.6" fill="#000" text-anchor="end" letter-spacing="-0.5">10<tspan dy="-3.7" dx="0.5" font-size="6.3" letter-spacing="-0.1">1</tspan></text>
<text transform="translate(253.80,522.90) scale(0.93,1)" font-size="8.6" fill="#000" text-anchor="middle" letter-spacing="-0.5">10<tspan dy="-3.7" dx="0.5" font-size="6.3" letter-spacing="-0.1">4</tspan></text>
<text transform="translate(74.20,351.88) scale(0.93,1)" font-size="8.6" fill="#000" text-anchor="end" letter-spacing="-0.5">10<tspan dy="-3.7" dx="0.5" font-size="6.3" letter-spacing="-0.1">2</tspan></text>
<text transform="translate(283.00,522.90) scale(0.93,1)" font-size="8.6" fill="#000" text-anchor="middle" letter-spacing="-0.5">10<tspan dy="-3.7" dx="0.5" font-size="6.3" letter-spacing="-0.1">5</tspan></text>
<text transform="translate(74.20,324.54) scale(0.93,1)" font-size="8.6" fill="#000" text-anchor="end" letter-spacing="-0.5">10<tspan dy="-3.7" dx="0.5" font-size="6.3" letter-spacing="-0.1">3</tspan></text>
<text transform="translate(312.20,522.90) scale(0.93,1)" font-size="8.6" fill="#000" text-anchor="middle" letter-spacing="-0.5">10<tspan dy="-3.7" dx="0.5" font-size="6.3" letter-spacing="-0.1">6</tspan></text>
<text transform="translate(74.20,297.20) scale(0.93,1)" font-size="8.6" fill="#000" text-anchor="end" letter-spacing="-0.5">10<tspan dy="-3.7" dx="0.5" font-size="6.3" letter-spacing="-0.1">4</tspan></text>
<path d="M88.29 512.7v-1.4M88.29 294v1.4M93.43 512.7v-1.4M93.43 294v1.4M97.08 512.7v-1.4M97.08 294v1.4M99.91 512.7v-1.4M99.91 294v1.4M102.22 512.7v-1.4M102.22 294v1.4M104.18 512.7v-1.4M104.18 294v1.4M105.87 512.7v-1.4M105.87 294v1.4M107.36 512.7v-1.4M107.36 294v1.4M79.5 504.47h1.4M313.1 504.47h-1.4M79.5 499.66h1.4M313.1 499.66h-1.4M79.5 496.24h1.4M313.1 496.24h-1.4M79.5 493.59h1.4M313.1 493.59h-1.4M79.5 491.43h1.4M313.1 491.43h-1.4M79.5 489.60h1.4M313.1 489.60h-1.4M79.5 488.01h1.4M313.1 488.01h-1.4M79.5 486.61h1.4M313.1 486.61h-1.4M108.70 512.7v-3.2M108.70 294v3.2M117.49 512.7v-1.4M117.49 294v1.4M122.63 512.7v-1.4M122.63 294v1.4M126.28 512.7v-1.4M126.28 294v1.4M129.11 512.7v-1.4M129.11 294v1.4M131.42 512.7v-1.4M131.42 294v1.4M133.38 512.7v-1.4M133.38 294v1.4M135.07 512.7v-1.4M135.07 294v1.4M136.56 512.7v-1.4M136.56 294v1.4M79.5 485.36h3.2M313.1 485.36h-3.2M79.5 477.13h1.4M313.1 477.13h-1.4M79.5 472.32h1.4M313.1 472.32h-1.4M79.5 468.90h1.4M313.1 468.90h-1.4M79.5 466.25h1.4M313.1 466.25h-1.4M79.5 464.09h1.4M313.1 464.09h-1.4M79.5 462.26h1.4M313.1 462.26h-1.4M79.5 460.67h1.4M313.1 460.67h-1.4M79.5 459.28h1.4M313.1 459.28h-1.4M137.90 512.7v-3.2M137.90 294v3.2M146.69 512.7v-1.4M146.69 294v1.4M151.83 512.7v-1.4M151.83 294v1.4M155.48 512.7v-1.4M155.48 294v1.4M158.31 512.7v-1.4M158.31 294v1.4M160.62 512.7v-1.4M160.62 294v1.4M162.58 512.7v-1.4M162.58 294v1.4M164.27 512.7v-1.4M164.27 294v1.4M165.76 512.7v-1.4M165.76 294v1.4M79.5 458.03h3.2M313.1 458.03h-3.2M79.5 449.80h1.4M313.1 449.80h-1.4M79.5 444.98h1.4M313.1 444.98h-1.4M79.5 441.57h1.4M313.1 441.57h-1.4M79.5 438.92h1.4M313.1 438.92h-1.4M79.5 436.75h1.4M313.1 436.75h-1.4M79.5 434.92h1.4M313.1 434.92h-1.4M79.5 433.34h1.4M313.1 433.34h-1.4M79.5 431.94h1.4M313.1 431.94h-1.4M167.10 512.7v-3.2M167.10 294v3.2M175.89 512.7v-1.4M175.89 294v1.4M181.03 512.7v-1.4M181.03 294v1.4M184.68 512.7v-1.4M184.68 294v1.4M187.51 512.7v-1.4M187.51 294v1.4M189.82 512.7v-1.4M189.82 294v1.4M191.78 512.7v-1.4M191.78 294v1.4M193.47 512.7v-1.4M193.47 294v1.4M194.96 512.7v-1.4M194.96 294v1.4M79.5 430.69h3.2M313.1 430.69h-3.2M79.5 422.46h1.4M313.1 422.46h-1.4M79.5 417.64h1.4M313.1 417.64h-1.4M79.5 414.23h1.4M313.1 414.23h-1.4M79.5 411.58h1.4M313.1 411.58h-1.4M79.5 409.41h1.4M313.1 409.41h-1.4M79.5 407.58h1.4M313.1 407.58h-1.4M79.5 406.00h1.4M313.1 406.00h-1.4M79.5 404.60h1.4M313.1 404.60h-1.4M196.30 512.7v-3.2M196.30 294v3.2M205.09 512.7v-1.4M205.09 294v1.4M210.23 512.7v-1.4M210.23 294v1.4M213.88 512.7v-1.4M213.88 294v1.4M216.71 512.7v-1.4M216.71 294v1.4M219.02 512.7v-1.4M219.02 294v1.4M220.98 512.7v-1.4M220.98 294v1.4M222.67 512.7v-1.4M222.67 294v1.4M224.16 512.7v-1.4M224.16 294v1.4M79.5 403.35h3.2M313.1 403.35h-3.2M79.5 395.12h1.4M313.1 395.12h-1.4M79.5 390.31h1.4M313.1 390.31h-1.4M79.5 386.89h1.4M313.1 386.89h-1.4M79.5 384.24h1.4M313.1 384.24h-1.4M79.5 382.08h1.4M313.1 382.08h-1.4M79.5 380.25h1.4M313.1 380.25h-1.4M79.5 378.66h1.4M313.1 378.66h-1.4M79.5 377.26h1.4M313.1 377.26h-1.4M225.50 512.7v-3.2M225.50 294v3.2M234.29 512.7v-1.4M234.29 294v1.4M239.43 512.7v-1.4M239.43 294v1.4M243.08 512.7v-1.4M243.08 294v1.4M245.91 512.7v-1.4M245.91 294v1.4M248.22 512.7v-1.4M248.22 294v1.4M250.18 512.7v-1.4M250.18 294v1.4M251.87 512.7v-1.4M251.87 294v1.4M253.36 512.7v-1.4M253.36 294v1.4M79.5 376.01h3.2M313.1 376.01h-3.2M79.5 367.78h1.4M313.1 367.78h-1.4M79.5 362.97h1.4M313.1 362.97h-1.4M79.5 359.55h1.4M313.1 359.55h-1.4M79.5 356.90h1.4M313.1 356.90h-1.4M79.5 354.74h1.4M313.1 354.74h-1.4M79.5 352.91h1.4M313.1 352.91h-1.4M79.5 351.32h1.4M313.1 351.32h-1.4M79.5 349.93h1.4M313.1 349.93h-1.4M254.70 512.7v-3.2M254.70 294v3.2M263.49 512.7v-1.4M263.49 294v1.4M268.63 512.7v-1.4M268.63 294v1.4M272.28 512.7v-1.4M272.28 294v1.4M275.11 512.7v-1.4M275.11 294v1.4M277.42 512.7v-1.4M277.42 294v1.4M279.38 512.7v-1.4M279.38 294v1.4M281.07 512.7v-1.4M281.07 294v1.4M282.56 512.7v-1.4M282.56 294v1.4M79.5 348.68h3.2M313.1 348.68h-3.2M79.5 340.45h1.4M313.1 340.45h-1.4M79.5 335.63h1.4M313.1 335.63h-1.4M79.5 332.22h1.4M313.1 332.22h-1.4M79.5 329.57h1.4M313.1 329.57h-1.4M79.5 327.40h1.4M313.1 327.40h-1.4M79.5 325.57h1.4M313.1 325.57h-1.4M79.5 323.99h1.4M313.1 323.99h-1.4M79.5 322.59h1.4M313.1 322.59h-1.4M283.90 512.7v-3.2M283.90 294v3.2M292.69 512.7v-1.4M292.69 294v1.4M297.83 512.7v-1.4M297.83 294v1.4M301.48 512.7v-1.4M301.48 294v1.4M304.31 512.7v-1.4M304.31 294v1.4M306.62 512.7v-1.4M306.62 294v1.4M308.58 512.7v-1.4M308.58 294v1.4M310.27 512.7v-1.4M310.27 294v1.4M311.76 512.7v-1.4M311.76 294v1.4M79.5 321.34h3.2M313.1 321.34h-3.2M79.5 313.11h1.4M313.1 313.11h-1.4M79.5 308.29h1.4M313.1 308.29h-1.4M79.5 304.88h1.4M313.1 304.88h-1.4M79.5 302.23h1.4M313.1 302.23h-1.4M79.5 300.06h1.4M313.1 300.06h-1.4M79.5 298.23h1.4M313.1 298.23h-1.4M79.5 296.65h1.4M313.1 296.65h-1.4M79.5 295.25h1.4M313.1 295.25h-1.4" stroke="#000" stroke-width="0.9" fill="none"/>
<path d="M496.10 294V512.7M397.8 395.12H610.4" stroke="#8a8a8a" stroke-width="1.4" fill="none" opacity="1"/>
<defs><path id="p16" stroke="#49ffd5" d="M506.8 427.0h0M482.5 390.5h0M504.3 379.9h0M488.5 436.7h0M477.5 441.5h0M493.5 351.5h0M500.2 401.0h0M513.4 421.5h0M500.5 383.5h0M489.1 393.3h0M508.7 427.3h0M501.3 446.4h0M497.3 350.8h0M464.0 429.3h0M497.8 415.8h0M515.4 367.6h0M502.4 386.2h0M512.0 369.6h0M500.5 434.9h0M502.8 390.3h0M503.6 404.9h0M496.2 445.5h0M499.3 436.2h0M514.7 424.3h0M511.9 369.5h0M502.6 402.6h0M504.9 409.0h0M512.1 386.5h0M519.8 381.2h0M514.1 414.8h0M502.8 400.7h0M510.7 423.2h0M499.7 439.9h0M512.3 395.9h0M500.5 419.1h0M509.1 418.6h0M511.2 389.2h0M494.9 433.7h0M503.6 376.3h0M503.0 460.5h0M505.3 372.3h0M512.4 390.9h0M495.3 444.8h0M505.6 455.8h0M495.3 438.6h0M497.2 371.1h0M505.7 407.6h0M502.5 394.2h0M514.7 383.2h0M484.5 423.8h0M518.3 417.6h0M509.5 418.6h0M500.5 382.2h0M488.8 487.8h0M503.7 392.2h0M493.9 425.8h0M505.1 422.1h0M484.4 449.2h0M501.4 413.5h0M498.0 392.3h0M526.3 368.6h0M492.0 409.7h0M506.1 374.2h0M498.9 401.6h0M503.1 352.3h0M496.0 389.0h0"/><path id="p17" stroke="#ff651f" d="M559.4 363.5h0M570.5 359.6h0M545.7 335.5h0M497.9 395.2h0"/><path id="p18" stroke="#1f65ff" d="M462.5 412.3h0M466.4 470.0h0M485.8 445.6h0M478.5 402.2h0M472.2 472.0h0M468.3 432.7h0M485.4 401.7h0M456.3 435.9h0M486.9 454.9h0M487.2 477.0h0M473.1 387.8h0M466.0 454.6h0M467.5 425.2h0M443.0 429.1h0M470.6 434.2h0M472.3 443.5h0M492.6 428.4h0M458.7 410.3h0M468.8 444.7h0M472.7 406.3h0M463.3 478.0h0M483.0 434.9h0M468.9 465.4h0M477.3 416.2h0M474.0 461.1h0M467.9 392.8h0M466.7 415.9h0M474.2 426.1h0M473.8 402.1h0"/><path id="p19" stroke="#1f81ff" d="M453.0 476.5h0M465.0 412.2h0M483.2 431.6h0M458.3 429.5h0M465.9 404.0h0M474.6 436.6h0M476.4 388.5h0M468.5 456.7h0M460.7 434.6h0M495.2 399.2h0M467.9 426.9h0M478.4 405.5h0M469.1 459.3h0M478.2 393.4h0M479.3 426.3h0M477.1 463.4h0M469.5 454.1h0M472.0 476.3h0M471.0 400.5h0M474.2 414.2h0M464.2 417.8h0M455.5 452.6h0M474.8 440.9h0M474.3 351.4h0M490.1 409.6h0M469.0 425.5h0M460.2 465.7h0M495.8 395.2h0M480.4 407.0h0M477.0 424.1h0M477.5 443.4h0M478.9 434.0h0M472.9 391.1h0"/><path id="p20" stroke="#f1ff2d" d="M529.7 343.6h0M547.7 370.8h0M526.3 363.8h0M527.7 343.0h0M505.5 387.3h0M515.5 439.8h0M528.5 413.4h0M537.1 369.6h0M530.3 374.9h0M535.2 393.7h0M514.4 400.3h0M513.8 428.8h0M538.8 365.0h0M533.4 332.4h0M534.5 412.1h0M521.1 350.4h0M515.4 346.8h0M535.7 347.6h0M547.3 377.2h0M531.5 378.9h0M525.6 396.5h0M528.9 377.1h0M532.9 364.8h0M531.8 351.4h0M537.7 390.3h0M526.9 405.2h0M527.5 375.2h0M528.4 391.0h0M524.6 376.2h0M538.8 375.2h0M549.2 372.9h0M532.5 376.9h0M514.9 380.5h0M530.6 354.2h0M531.3 388.2h0M519.6 360.9h0"/><path id="p21" stroke="#1fb9ff" d="M490.2 421.2h0M492.2 429.6h0M491.2 452.2h0M471.0 439.0h0M490.9 368.7h0M470.6 413.6h0M477.8 439.4h0M497.6 443.3h0M478.9 403.2h0M491.4 432.7h0M480.3 437.5h0M490.9 424.8h0M486.1 416.6h0M492.2 407.0h0M475.3 401.3h0M477.1 426.2h0M476.0 435.9h0M486.8 368.8h0M474.3 404.4h0M485.9 383.4h0M477.9 426.9h0M487.1 402.3h0M464.0 425.0h0M474.5 437.6h0M495.6 472.0h0M470.4 457.0h0M491.3 410.1h0M488.3 433.7h0M486.2 453.9h0M491.6 408.1h0M492.3 432.5h0M491.0 411.2h0M481.9 460.8h0M471.5 417.6h0M485.2 444.2h0M478.6 446.4h0M475.4 452.8h0M484.0 404.7h0M483.0 406.9h0M491.3 413.5h0M473.0 465.5h0M486.6 375.7h0M490.3 416.1h0M474.7 335.3h0M486.4 407.3h0M483.6 404.9h0M477.0 451.0h0M478.9 413.0h0M491.4 415.7h0M485.5 414.6h0"/><path id="p22" stroke="#1ff1ff" d="M489.6 366.8h0M493.3 436.8h0M499.5 458.9h0M507.6 449.8h0M492.7 435.9h0M501.5 450.8h0M512.1 425.5h0M483.4 415.7h0M484.2 445.6h0M478.7 435.3h0M502.5 413.2h0M499.6 435.6h0M494.0 446.9h0M506.0 378.0h0M499.7 422.5h0M503.2 409.3h0M483.8 468.6h0M508.8 384.3h0M497.7 458.5h0M482.0 369.1h0M499.9 411.8h0M509.1 400.4h0M490.8 388.4h0M485.6 388.2h0M494.9 388.4h0M501.9 384.9h0M498.4 428.7h0M498.7 425.9h0M484.7 446.7h0M494.0 367.9h0M492.5 366.4h0M493.8 377.9h0M497.0 363.1h0M496.9 445.6h0M484.4 458.5h0M493.1 403.8h0M486.3 426.3h0M482.1 419.6h0M488.4 400.1h0M487.5 373.2h0M501.8 382.8h0M493.7 405.1h0M508.4 381.9h0M494.7 411.5h0M483.9 474.8h0M481.7 459.8h0M504.5 408.5h0M479.8 424.6h0M474.0 346.0h0M505.7 416.7h0M500.3 462.5h0M501.3 403.6h0M476.2 409.9h0M502.6 425.1h0M479.3 392.4h0M504.8 402.2h0M470.4 401.7h0M484.0 401.3h0M489.3 388.2h0M486.7 405.0h0M491.1 393.2h0M501.8 423.1h0M499.9 369.5h0M500.2 396.5h0M478.9 431.0h0M484.4 414.0h0M498.6 426.6h0M478.8 387.4h0M478.4 427.2h0M496.5 421.0h0M495.4 411.0h0M495.2 394.5h0M492.8 431.8h0M488.3 391.6h0M502.9 371.9h0"/><path id="p23" stroke="#81ff9c" d="M526.8 374.1h0M519.8 364.1h0M511.3 395.6h0M505.1 414.7h0M529.0 386.4h0M512.5 401.8h0M509.6 362.6h0M513.4 367.8h0M507.0 357.8h0M520.0 376.8h0M507.8 411.0h0M511.6 376.3h0M513.5 389.2h0M506.7 412.5h0M507.2 380.5h0M506.3 386.8h0M502.2 386.8h0M514.3 393.1h0M502.1 403.5h0M510.4 406.6h0M508.3 387.7h0M515.8 415.6h0M503.1 440.2h0M498.1 412.8h0M504.9 373.9h0M514.3 378.3h0M510.8 379.7h0M503.0 410.3h0M501.3 446.2h0M517.3 403.0h0M505.9 403.6h0M520.2 403.4h0M538.0 388.9h0M509.9 418.5h0M506.4 395.2h0M519.6 366.3h0M499.2 411.9h0M507.5 444.6h0M515.6 405.8h0M525.7 357.5h0M491.4 456.9h0M515.1 384.6h0M513.0 378.6h0M520.9 418.7h0M513.0 386.3h0M519.9 400.1h0M501.7 449.0h0M515.7 375.0h0M516.2 349.5h0M496.7 419.5h0M514.4 429.6h0M493.6 434.9h0M513.5 457.4h0M519.8 403.3h0M505.0 364.5h0M529.4 403.4h0M520.5 394.4h0M496.9 411.5h0M510.3 379.6h0M496.5 442.3h0M526.4 338.3h0M507.5 379.8h0M504.1 391.3h0M503.7 418.9h0M517.2 396.8h0M501.4 366.5h0M510.1 391.3h0M521.5 408.1h0M525.5 418.9h0M514.7 377.1h0M514.5 396.9h0M502.8 387.9h0M506.1 389.9h0"/><path id="p24" stroke="#1f1fb9" d="M520.4 410.7h0M486.8 418.0h0M465.2 432.9h0M463.7 458.4h0"/><path id="p25" stroke="#ff9c1f" d="M540.4 359.4h0M480.3 441.2h0M559.6 373.1h0M568.2 371.5h0M544.4 391.8h0M476.4 462.0h0M560.9 357.5h0M517.1 387.5h0M542.9 344.8h0M556.7 388.2h0M528.1 355.1h0M563.5 366.6h0"/><path id="p26" stroke="#1f1f9c" d="M431.3 414.3h0M462.3 413.1h0M486.0 457.0h0M501.8 395.3h0"/><path id="p27" stroke="#1f49ff" d="M455.6 385.3h0M451.8 458.7h0M454.0 474.7h0M464.6 441.8h0M459.2 471.7h0M490.0 441.8h0M471.3 452.1h0M466.4 425.3h0M453.1 431.9h0M478.5 457.5h0M468.9 360.9h0M462.7 442.7h0M473.3 415.7h0M471.6 417.5h0M461.9 382.6h0M461.6 412.8h0"/><path id="p28" stroke="#9c1f1f" d="M548.8 377.3h0M551.9 367.1h0M540.7 357.6h0"/><path id="p29" stroke="#d5ff49" d="M516.1 364.5h0M517.8 408.2h0M541.0 369.5h0M514.0 381.4h0M476.4 441.8h0M524.1 414.8h0M525.3 367.5h0M520.7 406.9h0M520.3 418.8h0M517.2 365.9h0M519.1 379.6h0M522.8 376.5h0M535.5 373.3h0M531.4 381.0h0M534.6 376.9h0M533.5 369.5h0M530.6 363.6h0M529.0 380.9h0M527.0 378.5h0M529.9 374.6h0M516.1 375.2h0M518.7 379.1h0M544.5 374.9h0M534.4 361.6h0M526.8 407.6h0M535.7 363.2h0M520.2 357.9h0M526.2 384.1h0M530.7 402.2h0M524.3 357.8h0M518.4 351.7h0M489.6 400.3h0M522.3 404.3h0M514.3 385.7h0M539.5 364.0h0M451.5 380.0h0M538.2 381.2h0M521.5 326.8h0M531.9 360.6h0"/><path id="p30" stroke="#d51f1f" d="M516.8 420.8h0M542.4 409.7h0"/><path id="p31" stroke="#b9ff65" d="M532.2 391.8h0M525.4 355.1h0M516.5 367.7h0M513.5 389.6h0M532.5 404.9h0M517.7 406.4h0M506.2 364.3h0M527.7 332.2h0M526.6 391.1h0M527.9 396.3h0M530.4 351.8h0M514.0 423.9h0M532.9 369.5h0M511.7 393.0h0M517.5 378.3h0M527.2 350.0h0M506.0 406.3h0M513.6 409.4h0M512.2 388.7h0M519.5 403.6h0M538.7 414.3h0M528.7 410.9h0M522.7 375.8h0M523.6 324.5h0M520.9 373.6h0M518.0 353.2h0M529.5 377.3h0M506.3 374.6h0M508.7 367.2h0M508.3 453.1h0M518.0 369.0h0M516.2 376.1h0M526.2 401.3h0M530.6 373.6h0M514.0 375.3h0M516.8 367.2h0M520.8 365.1h0M523.9 392.9h0M516.5 374.7h0M512.8 385.8h0M530.3 406.1h0M517.9 403.6h0M526.4 398.4h0M540.6 369.7h0M518.8 410.0h0M538.9 380.1h0M513.8 362.5h0M520.7 362.0h0"/><path id="p32" stroke="#1f2dff" d="M457.0 421.4h0M457.5 428.3h0M472.4 460.5h0M450.9 459.4h0M463.4 455.5h0M455.9 401.5h0M462.7 408.5h0M455.1 452.7h0M465.9 378.9h0M451.8 403.8h0M467.8 448.9h0M459.9 434.4h0"/><path id="p33" stroke="#fff11f" d="M534.8 390.3h0M551.7 349.9h0M530.0 381.3h0M546.2 357.2h0M528.8 384.9h0M523.2 424.4h0M537.6 364.1h0M533.3 360.7h0M523.8 358.6h0M549.5 320.6h0M532.4 396.4h0M539.6 365.6h0M558.6 359.9h0M526.1 390.4h0M533.8 394.5h0M555.9 351.7h0M519.8 363.4h0M465.5 445.8h0M535.3 335.2h0M494.0 475.8h0M536.5 357.2h0M548.8 366.2h0M535.3 349.1h0M548.4 323.6h0M519.8 387.8h0M554.8 392.4h0M529.8 358.1h0"/><path id="p34" stroke="#ff491f" d="M494.4 465.4h0M530.1 361.3h0M567.5 361.9h0"/><path id="p35" stroke="#65ffb9" d="M497.5 440.8h0M508.1 363.3h0M504.8 399.8h0M481.4 412.7h0M520.0 422.4h0M509.3 412.8h0M499.4 399.9h0M503.9 372.0h0M503.3 412.7h0M514.5 412.9h0M520.2 416.8h0M491.0 432.3h0M497.4 409.1h0M510.0 414.2h0M498.1 439.9h0M506.1 447.8h0M495.7 398.5h0M503.8 399.5h0M491.2 375.4h0M507.0 420.6h0M504.4 371.8h0M504.7 401.3h0M511.1 439.2h0M492.8 427.2h0M513.5 431.6h0M499.1 404.4h0M496.5 385.1h0M512.9 425.6h0M503.1 437.6h0M506.8 393.0h0M495.5 396.1h0M521.9 381.6h0M493.4 418.4h0M512.2 439.8h0M499.4 392.7h0M499.6 417.9h0M518.9 371.6h0M504.6 352.4h0M494.6 389.9h0M501.6 395.0h0M503.8 391.4h0M508.4 421.1h0M506.9 414.7h0M502.9 425.1h0M503.3 462.0h0M507.2 374.0h0M518.7 416.4h0M505.2 401.3h0M500.7 450.7h0M506.4 389.9h0M497.4 431.1h0M498.9 408.8h0M528.0 368.8h0M507.0 380.9h0M518.3 372.4h0M511.1 372.9h0M513.3 424.2h0M499.9 441.2h0M514.7 417.0h0M530.9 344.3h0M501.3 409.4h0M518.2 407.3h0M501.7 410.8h0M500.8 349.6h0M513.1 395.6h0M513.5 414.0h0M500.1 369.8h0M498.9 422.5h0M504.9 411.1h0M503.7 420.7h0"/><path id="p36" stroke="#ffd51f" d="M532.6 351.3h0M551.2 361.0h0M505.5 374.9h0M538.2 375.7h0M554.6 352.5h0M517.8 354.7h0M547.9 377.0h0M545.0 358.4h0M502.5 424.0h0M510.6 390.3h0M549.5 374.2h0M538.5 349.9h0M473.5 393.7h0M516.3 399.8h0M530.4 389.8h0M542.0 382.4h0M521.8 381.2h0M564.6 360.5h0M540.9 369.4h0M474.9 422.6h0M560.1 394.1h0"/><path id="p37" stroke="#1fd5ff" d="M493.2 458.5h0M480.0 451.6h0M490.5 451.2h0M478.3 460.6h0M492.0 454.9h0M483.6 461.6h0M491.3 374.0h0M470.8 363.0h0M487.1 429.3h0M508.9 440.0h0M485.7 379.5h0M494.4 397.9h0M496.8 374.8h0M484.7 464.5h0M479.2 395.6h0M468.4 353.2h0M483.1 415.7h0M490.7 398.6h0M479.0 402.1h0M484.1 384.0h0M487.3 452.6h0M501.3 435.6h0M490.9 413.6h0M517.0 407.2h0M480.1 408.9h0M486.5 369.0h0M498.1 454.3h0M492.4 427.3h0M481.4 356.9h0M484.5 409.4h0M476.0 396.8h0M484.8 406.1h0M481.3 442.8h0M469.6 454.7h0M484.2 411.8h0M487.5 397.4h0M480.7 418.5h0M494.0 399.6h0M494.8 388.8h0M481.1 400.0h0M485.1 396.6h0M496.7 415.4h0M485.4 454.2h0M477.4 402.2h0M489.8 402.6h0M489.5 433.6h0M493.1 432.5h0M477.5 422.7h0M481.8 419.3h0M484.9 445.1h0M509.0 393.5h0M471.9 419.4h0M477.3 435.1h0M496.0 379.5h0M495.3 463.7h0M511.6 439.3h0M476.6 426.9h0M489.5 438.9h0M476.7 448.9h0M475.3 429.9h0M479.4 457.1h0M491.7 451.5h0"/><path id="p38" stroke="#1f1fd5" d="M455.5 460.0h0M454.4 471.6h0M452.2 452.9h0M472.5 449.6h0M459.1 411.1h0"/><path id="p39" stroke="#1f1ff1" d="M462.6 468.3h0M469.9 408.1h0M471.3 449.2h0M461.6 431.4h0M461.9 460.2h0M464.7 441.8h0M460.4 436.4h0M469.6 440.5h0"/><path id="p40" stroke="#f11f1f" d="M568.3 339.5h0M525.3 394.9h0"/><path id="p41" stroke="#ffb91f" d="M537.8 347.3h0M541.5 373.4h0M541.6 369.1h0M541.5 342.1h0M537.7 348.6h0M535.6 367.4h0M538.7 375.8h0M550.1 387.0h0M556.7 392.9h0M490.5 389.0h0M564.3 391.6h0M540.6 458.2h0M516.9 357.6h0M540.4 362.5h0M541.3 351.1h0M547.5 358.6h0"/><path id="p42" stroke="#ff2d1f" d="M561.3 352.7h0M562.9 369.2h0M554.2 348.4h0M491.6 364.1h0"/><path id="p43" stroke="#9cff81" d="M514.0 376.8h0M503.4 412.1h0M511.8 433.7h0M512.7 448.5h0M517.1 373.3h0M516.0 426.6h0M520.0 421.1h0M500.4 451.6h0M518.7 388.1h0M511.8 380.9h0M527.4 364.4h0M513.6 409.3h0M506.7 418.4h0M488.3 423.0h0M502.0 404.6h0M534.4 385.2h0M525.1 373.6h0M529.2 365.3h0M518.6 381.2h0M517.1 407.2h0M504.0 365.5h0M529.5 344.5h0M511.3 381.8h0M511.0 442.3h0M518.2 429.2h0M533.2 375.8h0M518.3 398.7h0M505.2 428.0h0M508.4 368.5h0M528.3 413.3h0M502.1 399.6h0M506.0 399.3h0M516.1 458.7h0M512.9 405.3h0M494.6 389.9h0M510.1 400.2h0M516.9 432.9h0M514.7 387.0h0M521.6 403.2h0M523.5 374.8h0M526.3 328.7h0M505.5 438.1h0M502.8 403.4h0M504.6 363.8h0M521.0 392.4h0M510.9 391.6h0M511.7 374.6h0M509.5 412.0h0M502.8 430.2h0M513.2 390.9h0M502.3 471.8h0M475.5 438.9h0M521.9 390.7h0M527.8 378.8h0M529.0 361.8h0M528.5 370.7h0M524.5 356.2h0M509.5 370.3h0M524.9 325.0h0M515.1 380.6h0M526.1 396.3h0M522.2 345.4h0"/><path id="p44" stroke="#b91f1f" d="M515.4 373.0h0M542.8 377.4h0"/><path id="p45" stroke="#2dfff1" d="M482.0 430.8h0M498.3 393.3h0M511.4 408.5h0M484.3 467.6h0M506.1 419.1h0M483.5 393.3h0M484.7 361.8h0M492.7 430.6h0M491.6 381.2h0M506.2 436.8h0M489.7 395.7h0M491.3 423.7h0M498.4 420.2h0M492.4 404.8h0M511.5 400.0h0M479.0 428.4h0M500.9 399.4h0M498.3 376.1h0M504.7 367.3h0M503.3 390.2h0M510.6 440.5h0M480.4 374.2h0M497.6 396.6h0M499.9 347.4h0M501.9 435.6h0M498.7 421.9h0M497.4 423.2h0M478.9 434.9h0M510.0 421.6h0M507.7 391.2h0M509.9 408.5h0M497.7 416.2h0M491.6 390.3h0M510.3 440.5h0M504.0 418.2h0M489.6 382.6h0M498.4 410.7h0M477.8 449.9h0M488.2 360.7h0M492.1 384.0h0M491.1 370.3h0M500.6 404.1h0M497.8 341.0h0M503.7 397.1h0M494.2 432.7h0M496.0 420.7h0M495.1 381.4h0M489.5 375.8h0M498.0 479.8h0M503.9 445.8h0M484.7 410.3h0M502.9 400.1h0M489.3 385.7h0M494.6 435.7h0M505.6 397.9h0M504.4 364.4h0M500.6 439.4h0M485.2 430.0h0M516.9 362.8h0M498.0 397.6h0M504.4 380.3h0M486.2 440.4h0M487.8 402.2h0M503.6 393.2h0M498.1 408.4h0M507.1 409.9h0M502.5 395.7h0M498.1 381.7h0M495.6 417.9h0M485.0 391.4h0M502.4 359.2h0"/><path id="p46" stroke="#ff811f" d="M551.6 375.6h0M541.4 344.7h0M552.5 370.4h0M572.7 386.4h0M558.8 350.6h0"/><path id="p47" stroke="#1f9cff" d="M482.0 465.5h0M477.9 473.2h0M462.0 408.1h0M480.5 437.7h0M470.5 417.7h0M474.1 464.8h0M480.3 378.3h0M488.8 371.0h0M487.7 396.4h0M486.2 460.0h0M492.2 404.6h0M489.0 420.1h0M475.6 471.8h0M465.8 456.1h0M492.3 434.5h0M476.6 419.5h0M488.5 380.8h0M476.0 448.3h0M470.0 419.6h0M481.6 416.2h0M491.4 408.8h0M456.8 390.7h0M483.1 446.8h0M490.7 404.9h0M468.8 425.8h0M497.5 467.5h0M492.5 396.8h0"/></defs><g fill="none" stroke-linecap="round" stroke-width="2.9" opacity="0.3"><use href="#p16"/><use href="#p17"/><use href="#p18"/><use href="#p19"/><use href="#p20"/><use href="#p21"/><use href="#p22"/><use href="#p23"/><use href="#p24"/><use href="#p25"/><use href="#p26"/><use href="#p27"/><use href="#p28"/><use href="#p29"/><use href="#p30"/><use href="#p31"/><use href="#p32"/><use href="#p33"/><use href="#p34"/><use href="#p35"/><use href="#p36"/><use href="#p37"/><use href="#p38"/><use href="#p39"/><use href="#p40"/><use href="#p41"/><use href="#p42"/><use href="#p43"/><use href="#p44"/><use href="#p45"/><use href="#p46"/><use href="#p47"/></g><g fill="none" stroke-linecap="round" stroke-width="1.85"><use href="#p16"/><use href="#p17"/><use href="#p18"/><use href="#p19"/><use href="#p20"/><use href="#p21"/><use href="#p22"/><use href="#p23"/><use href="#p24"/><use href="#p25"/><use href="#p26"/><use href="#p27"/><use href="#p28"/><use href="#p29"/><use href="#p30"/><use href="#p31"/><use href="#p32"/><use href="#p33"/><use href="#p34"/><use href="#p35"/><use href="#p36"/><use href="#p37"/><use href="#p38"/><use href="#p39"/><use href="#p40"/><use href="#p41"/><use href="#p42"/><use href="#p43"/><use href="#p44"/><use href="#p45"/><use href="#p46"/><use href="#p47"/></g><defs><path id="p48" stroke="#ff491f" d="M550.2 385.6h0M564.8 370.5h0M496.8 432.8h0M556.7 375.3h0"/><path id="p49" stroke="#1f1ff1" d="M464.5 479.1h0M458.5 463.5h0M466.8 431.4h0M452.0 425.4h0M459.9 397.1h0"/><path id="p50" stroke="#f11f1f" d="M549.6 339.7h0M518.9 371.4h0M568.5 353.4h0M531.8 392.5h0"/><path id="p51" stroke="#9cff81" d="M477.1 433.6h0M521.2 415.3h0M528.3 378.1h0M503.8 413.3h0M510.9 367.5h0M497.3 392.0h0M521.3 418.4h0M504.3 369.1h0M522.9 438.5h0M515.5 394.7h0M507.4 382.2h0M515.5 357.5h0M521.8 379.1h0M500.9 399.8h0M520.8 395.2h0M521.4 401.5h0M524.1 351.4h0M493.2 367.7h0M525.9 365.4h0M511.2 400.2h0M522.3 379.5h0M525.0 363.0h0M527.4 369.0h0M519.7 366.1h0M508.9 384.1h0M537.0 411.7h0M524.4 376.2h0M502.8 432.0h0M525.7 393.8h0M504.7 423.9h0M505.1 401.7h0M532.7 387.6h0M517.8 407.6h0M484.2 455.0h0M515.3 371.1h0M509.1 401.5h0M522.5 383.1h0M530.4 399.1h0M510.9 414.3h0M514.1 392.4h0M519.4 364.7h0M513.8 370.3h0M503.0 344.8h0M494.1 380.6h0M516.7 382.0h0M532.5 364.4h0M509.9 401.6h0M525.4 429.3h0M533.1 397.7h0M535.1 401.1h0M528.1 388.5h0M531.7 383.8h0M511.8 414.9h0M511.9 354.4h0M513.1 391.2h0M493.9 446.1h0M504.1 432.8h0"/><path id="p52" stroke="#1ff1ff" d="M477.0 453.0h0M509.9 444.9h0M485.7 393.3h0M496.4 398.5h0M482.1 398.1h0M500.8 443.1h0M494.3 401.8h0M489.2 408.8h0M493.0 399.6h0M498.0 387.3h0M491.5 396.4h0M496.8 381.2h0M486.5 357.1h0M487.5 396.8h0M505.2 435.8h0M492.4 419.9h0M483.1 378.6h0M497.3 416.8h0M494.0 437.8h0M475.9 385.7h0M484.3 439.6h0M465.5 462.5h0M477.4 461.5h0M476.5 434.2h0M495.5 405.6h0M506.8 387.7h0M480.4 417.1h0M505.5 447.0h0M509.0 408.9h0M494.6 431.9h0M496.7 432.6h0M485.6 331.5h0M481.3 472.1h0M509.2 363.6h0M521.4 421.2h0M502.9 414.8h0M507.5 450.3h0M494.7 395.2h0M486.7 382.2h0M477.6 425.9h0M484.0 440.3h0M496.6 411.8h0M478.4 449.3h0M501.5 446.6h0M502.5 422.7h0M503.3 372.8h0M495.8 468.6h0M482.9 470.1h0M493.1 362.0h0M497.2 434.7h0M482.4 393.6h0M494.3 369.1h0M496.1 458.0h0M506.9 371.9h0M490.1 429.7h0M478.7 449.5h0M486.1 404.6h0M481.6 449.7h0M494.4 422.8h0M499.1 441.8h0M471.2 365.7h0M483.7 446.8h0M496.5 361.8h0M497.9 379.2h0M491.7 412.5h0M484.0 380.8h0M473.9 410.4h0M503.9 432.3h0M474.9 368.3h0M475.2 437.7h0M499.1 423.1h0M492.2 422.4h0M494.9 387.6h0"/><path id="p53" stroke="#65ffb9" d="M503.6 417.7h0M513.6 437.9h0M520.5 349.8h0M509.5 376.5h0M514.2 402.2h0M500.8 391.8h0M497.2 381.8h0M514.3 415.5h0M498.8 440.7h0M515.4 432.6h0M497.5 462.3h0M518.6 440.3h0M519.5 410.0h0M496.9 337.8h0M503.1 423.2h0M487.8 375.1h0M513.9 407.1h0M505.7 444.7h0M514.6 355.0h0M504.5 350.7h0M514.6 375.9h0M499.2 402.5h0M521.0 409.3h0M532.3 363.3h0M494.5 427.6h0M502.7 415.5h0M502.0 422.2h0M502.4 407.2h0M517.7 431.2h0M505.8 374.5h0M499.3 415.3h0M509.0 397.6h0M505.6 388.8h0M512.2 405.9h0M522.3 398.4h0M502.4 373.9h0M504.9 386.9h0M517.1 395.7h0M495.7 374.5h0M520.2 385.8h0M510.6 442.0h0M519.5 372.4h0M506.9 420.9h0M508.1 373.4h0M517.9 378.2h0M505.7 412.8h0M508.2 399.8h0M506.6 350.5h0M496.8 384.8h0M498.2 390.8h0M514.5 376.6h0M506.0 390.4h0M516.1 393.4h0M518.8 411.5h0M510.9 405.3h0M487.5 369.7h0M510.6 417.6h0M504.6 415.5h0M497.7 427.0h0M518.8 429.7h0M497.2 390.2h0M497.5 398.4h0M518.3 448.7h0M497.4 428.7h0M493.5 353.2h0M506.1 418.5h0M506.5 378.4h0M511.1 440.1h0M522.1 411.4h0M485.4 432.4h0"/><path id="p54" stroke="#1f1f9c" d="M471.3 464.2h0M454.5 458.2h0M475.0 427.9h0M479.5 460.8h0M472.7 421.4h0M552.3 348.8h0"/><path id="p55" stroke="#ff811f" d="M493.3 390.7h0M560.9 367.1h0M553.1 391.0h0M533.5 370.1h0M471.5 399.2h0M548.0 392.7h0M556.8 364.0h0M554.7 366.0h0M561.1 349.3h0M549.8 372.6h0"/><path id="p56" stroke="#ff2d1f" d="M489.1 445.6h0M563.4 371.3h0M562.3 356.0h0"/><path id="p57" stroke="#1f81ff" d="M478.4 419.1h0M488.1 398.6h0M486.9 433.8h0M474.2 396.3h0M479.7 382.8h0M477.7 459.4h0M475.1 406.9h0M474.3 399.8h0M467.4 427.3h0M476.0 483.1h0M489.4 425.4h0M457.3 445.4h0M457.8 423.5h0M470.3 472.6h0M484.4 446.4h0M489.2 438.0h0M481.2 399.0h0M483.6 414.8h0M466.8 445.2h0M482.4 462.8h0M477.5 379.2h0M474.0 432.9h0M477.5 422.6h0M471.2 448.0h0M467.2 442.6h0M479.1 383.3h0M490.4 413.0h0M476.2 368.9h0M474.5 379.2h0M482.4 398.5h0M484.7 423.6h0M466.8 425.5h0M480.7 384.5h0M473.7 457.4h0M489.9 366.2h0M497.2 464.1h0M470.7 392.1h0M465.5 452.3h0M464.2 435.9h0M470.1 387.1h0M477.1 407.8h0M480.8 426.1h0M480.8 423.4h0M472.7 400.5h0M474.0 424.1h0M475.6 387.7h0M468.0 413.6h0M479.6 416.1h0"/><path id="p58" stroke="#2dfff1" d="M495.4 443.5h0M491.1 357.4h0M507.0 369.7h0M495.2 371.2h0M499.8 396.2h0M495.4 469.9h0M505.5 371.8h0M504.8 377.1h0M512.0 398.6h0M482.4 462.8h0M503.6 417.0h0M503.8 395.8h0M485.4 350.9h0M500.8 395.7h0M472.2 435.0h0M508.4 323.5h0M501.1 392.8h0M493.6 365.3h0M494.1 401.6h0M512.1 412.2h0M492.7 375.0h0M505.1 360.3h0M492.1 359.1h0M512.9 387.0h0M498.1 465.6h0M502.5 374.7h0M485.1 398.3h0M498.2 366.3h0M492.6 382.7h0M485.9 469.9h0M508.4 360.4h0M494.8 355.0h0M500.3 369.4h0M499.7 394.6h0M498.9 425.2h0M509.4 444.2h0M492.2 405.8h0M483.5 419.8h0M503.7 355.3h0M510.0 377.6h0M494.1 459.7h0M494.6 405.7h0M506.9 391.7h0M512.5 357.6h0M491.7 380.1h0M486.3 408.4h0M482.1 435.3h0M488.8 446.4h0M490.0 423.2h0M483.8 403.7h0M504.7 380.6h0M500.7 427.4h0M497.5 371.5h0M502.0 391.4h0M494.2 385.7h0M502.1 413.9h0M487.6 444.5h0M473.6 373.8h0M491.9 408.4h0M483.5 431.6h0M505.1 435.5h0M497.8 403.4h0M520.1 342.8h0M498.1 397.8h0M491.2 466.3h0M512.7 395.8h0M505.8 412.5h0M494.8 421.4h0M502.8 417.9h0M506.8 449.4h0M485.3 333.6h0M485.2 426.7h0M505.1 452.9h0M509.6 439.0h0M507.2 437.2h0M498.3 352.8h0M504.1 376.8h0M485.2 401.2h0M510.1 449.2h0M505.1 374.9h0M483.9 351.4h0M487.9 400.8h0M484.5 436.7h0M491.2 431.0h0M507.6 422.8h0M497.4 371.5h0M497.1 415.8h0M500.8 468.6h0M496.2 467.1h0M476.1 413.2h0M501.7 420.7h0M503.9 441.9h0"/><path id="p59" stroke="#fff11f" d="M542.9 391.7h0M537.9 380.1h0M546.7 373.0h0M536.6 396.1h0M532.6 352.5h0M552.7 379.5h0M534.5 358.0h0M536.9 370.4h0M513.1 385.3h0M526.2 354.0h0M527.6 344.1h0M531.0 349.8h0M533.2 369.2h0M508.1 385.4h0M514.6 391.8h0M525.8 393.3h0M537.9 369.8h0M533.4 372.2h0M494.9 413.7h0M541.0 339.3h0M517.5 384.5h0M542.7 344.4h0M528.2 368.4h0M533.4 349.0h0M540.5 333.6h0M526.8 365.6h0M514.4 382.6h0M534.2 386.2h0M529.8 405.1h0M536.2 405.9h0M531.3 383.7h0M530.8 371.4h0M540.2 411.6h0M534.8 362.0h0M520.2 422.1h0"/><path id="p60" stroke="#ff9c1f" d="M548.3 372.7h0M555.2 360.9h0M532.5 353.4h0M543.3 359.8h0M525.3 391.1h0M543.6 366.0h0M547.0 378.6h0M558.2 336.8h0M492.3 386.9h0M556.1 376.4h0M547.2 315.3h0"/><path id="p61" stroke="#1fb9ff" d="M487.4 401.5h0M494.3 411.1h0M486.4 460.9h0M488.3 412.0h0M494.5 398.1h0M473.2 395.6h0M480.4 438.9h0M481.9 374.4h0M495.0 384.6h0M470.4 407.4h0M485.5 388.1h0M494.6 390.5h0M476.1 384.3h0M480.3 431.0h0M478.2 452.0h0M477.5 470.0h0M476.3 373.0h0M494.4 394.2h0M504.8 389.7h0M488.7 432.3h0M480.2 431.7h0M485.6 386.4h0M477.4 379.6h0M490.4 408.4h0M474.3 448.8h0M472.8 447.6h0M484.2 464.0h0M500.1 400.6h0M491.9 427.1h0M495.5 391.3h0M487.6 422.7h0M472.8 444.9h0M498.9 406.5h0M475.5 484.4h0M496.8 401.9h0M474.5 429.3h0M459.8 431.2h0M488.0 408.8h0M471.2 451.4h0M483.6 398.7h0M472.5 388.8h0M482.9 370.0h0M479.7 412.1h0M483.9 470.7h0M497.5 449.7h0M481.6 474.0h0M482.7 419.4h0M482.4 453.4h0M482.4 426.4h0M506.3 426.8h0M484.6 386.3h0M476.5 445.6h0M465.6 454.2h0M498.9 425.8h0M478.6 394.3h0M476.9 405.4h0"/><path id="p62" stroke="#49ffd5" d="M510.0 416.9h0M487.9 468.7h0M497.4 382.0h0M499.9 369.5h0M500.6 412.5h0M493.0 440.3h0M483.0 448.9h0M498.8 456.6h0M511.6 403.3h0M511.3 399.3h0M512.9 388.0h0M481.4 375.2h0M482.4 460.6h0M503.9 429.6h0M516.1 418.0h0M503.9 385.6h0M493.4 403.3h0M513.2 401.6h0M501.8 424.8h0M502.4 417.7h0M489.8 426.8h0M517.4 409.1h0M523.7 425.7h0M502.8 406.1h0M503.7 422.6h0M495.0 392.8h0M515.1 417.8h0M494.0 426.4h0M520.7 369.3h0M494.5 425.7h0M522.0 349.7h0M519.0 366.9h0M513.1 365.5h0M494.6 351.7h0M504.5 410.9h0M502.1 419.9h0M503.4 417.5h0M499.8 399.5h0M497.6 416.0h0M490.5 378.3h0M488.2 361.1h0M491.6 400.5h0M525.2 421.1h0M509.4 436.2h0M500.3 399.8h0M505.5 406.6h0M511.8 410.3h0M520.8 391.4h0M508.4 422.0h0M498.9 416.4h0M512.1 422.8h0M494.7 376.4h0M496.2 441.0h0M500.8 357.2h0M478.0 416.4h0M492.7 373.9h0M505.6 422.1h0M515.3 365.3h0M509.8 379.8h0M504.8 429.3h0M506.8 384.8h0M499.4 336.5h0M523.3 416.7h0M505.7 406.0h0M499.6 447.4h0M498.3 410.0h0M504.4 376.1h0M506.3 425.0h0M508.0 440.7h0M497.6 430.7h0M507.6 397.0h0M493.6 458.1h0M477.2 416.6h0M508.1 408.5h0M518.5 353.1h0M480.3 389.3h0M512.6 411.2h0M502.0 345.3h0"/><path id="p63" stroke="#ffd51f" d="M533.6 362.3h0M551.2 380.9h0M521.8 358.1h0M556.0 383.0h0M555.5 367.2h0M542.4 377.3h0M540.9 395.2h0M546.4 326.0h0M546.3 371.5h0M547.2 338.9h0M531.7 351.0h0M491.1 419.9h0M551.2 371.3h0M543.4 350.5h0M487.6 443.6h0M537.7 377.1h0M551.2 392.1h0M549.2 355.1h0"/><path id="p64" stroke="#ffb91f" d="M553.9 354.0h0M495.6 419.4h0M544.5 365.4h0M559.1 355.6h0M533.8 347.6h0M533.0 429.0h0M501.5 387.1h0M523.6 390.4h0M555.0 365.5h0M542.7 370.7h0M541.0 352.9h0"/><path id="p65" stroke="#1fd5ff" d="M488.2 398.8h0M484.0 467.5h0M476.4 410.8h0M492.2 403.8h0M494.0 437.5h0M483.1 371.2h0M495.6 391.2h0M472.9 371.9h0M490.4 400.0h0M483.7 470.0h0M494.0 445.8h0M470.0 342.1h0M498.3 432.0h0M483.9 420.1h0M482.0 358.1h0M511.6 462.7h0M497.3 414.2h0M495.1 442.9h0M478.8 411.4h0M512.8 366.4h0M465.2 467.3h0M476.4 385.6h0M489.9 422.5h0M483.9 395.1h0M488.1 427.7h0M495.5 470.4h0M500.2 361.9h0M496.6 395.4h0M505.0 422.8h0M492.7 478.2h0M499.8 434.6h0M493.3 395.4h0M503.1 388.1h0M499.6 421.0h0M479.8 427.7h0M487.9 381.9h0M489.9 400.3h0M492.5 433.4h0M486.3 376.6h0M492.8 407.9h0M488.1 426.5h0M482.6 409.2h0M500.3 451.6h0M469.4 478.3h0M476.8 446.3h0M495.5 406.7h0M489.2 412.9h0M497.5 420.1h0M497.9 392.3h0M485.4 376.3h0M467.3 428.1h0M469.6 348.1h0M483.4 432.7h0M487.6 383.2h0M494.9 423.7h0M486.8 443.2h0M510.3 374.3h0M488.0 393.7h0M486.1 389.4h0M482.4 393.0h0M492.6 429.2h0M489.7 397.6h0M484.8 419.8h0M492.3 394.3h0M485.6 453.8h0M490.5 414.6h0M501.2 449.7h0M492.9 382.8h0M500.8 394.5h0M476.0 427.8h0"/><path id="p66" stroke="#1f1fd5" d="M467.8 418.2h0M452.5 433.4h0M450.8 503.3h0M460.6 460.1h0M462.5 444.1h0M457.4 368.3h0"/><path id="p67" stroke="#1f9cff" d="M491.3 387.5h0M487.6 411.9h0M478.8 394.2h0M468.0 412.8h0M482.9 388.2h0M469.0 432.7h0M480.9 412.9h0M476.1 443.7h0M465.8 418.7h0M467.3 466.6h0M486.4 430.1h0M477.8 452.4h0M480.6 362.6h0M478.9 434.5h0M473.9 365.4h0M492.0 444.2h0M479.4 482.2h0M473.1 400.5h0M493.7 449.7h0M488.6 413.1h0M494.8 474.3h0M488.5 374.2h0M471.7 444.5h0M485.8 435.8h0M487.6 409.6h0M477.9 467.7h0M478.5 402.5h0M487.4 392.5h0M500.9 453.1h0M492.8 425.4h0M473.4 409.0h0M464.3 458.2h0M477.7 464.2h0M479.4 454.8h0M479.4 402.7h0M488.6 372.9h0M487.6 359.2h0M468.8 397.6h0M467.9 427.0h0M484.4 361.6h0M483.6 391.5h0M481.5 321.3h0M463.9 409.8h0M481.7 410.4h0M469.5 441.0h0M475.2 396.1h0M494.5 410.9h0M500.0 408.0h0M473.3 335.5h0M472.1 390.8h0M486.8 437.0h0M487.0 451.4h0M483.1 441.8h0M482.3 437.4h0M468.4 444.1h0M480.2 388.1h0M469.1 469.3h0M487.4 382.8h0M465.8 410.4h0M492.4 436.0h0"/><path id="p68" stroke="#1f1fb9" d="M481.9 353.6h0M518.1 409.4h0"/><path id="p69" stroke="#ff651f" d="M485.0 342.2h0M565.5 355.3h0M517.3 362.6h0M520.6 392.6h0M563.7 345.6h0"/><path id="p70" stroke="#1f2dff" d="M469.8 393.4h0M448.5 480.6h0M464.5 452.3h0M481.7 379.6h0M455.4 443.8h0M460.0 384.1h0M463.5 428.3h0M472.1 440.2h0M471.8 471.5h0M464.0 472.0h0M460.9 386.8h0M452.3 429.4h0M456.0 459.8h0M456.0 453.2h0"/><path id="p71" stroke="#81ff9c" d="M516.3 403.1h0M513.7 395.0h0M520.3 401.9h0M519.3 383.1h0M506.5 391.6h0M511.3 441.7h0M515.6 427.2h0M504.6 393.2h0M494.2 438.0h0M516.0 385.0h0M508.5 377.2h0M510.8 380.5h0M525.2 363.5h0M508.8 459.8h0M506.8 380.7h0M511.1 404.8h0M534.8 368.7h0M531.7 364.4h0M524.9 391.6h0M502.9 383.8h0M517.8 402.7h0M504.6 407.8h0M493.6 393.0h0M518.3 372.7h0M521.2 363.8h0M503.6 372.6h0M509.2 388.5h0M502.7 385.2h0M504.8 414.7h0M507.1 411.0h0M524.1 387.3h0M493.6 374.3h0M513.3 409.4h0M492.7 378.5h0M500.8 393.2h0M494.9 398.5h0M510.9 372.1h0M513.9 349.6h0M514.6 382.6h0M507.9 385.4h0M515.6 427.2h0M511.8 438.0h0M513.0 420.0h0M519.1 411.5h0M510.0 365.2h0M525.9 390.8h0M508.3 438.2h0M521.5 376.9h0M520.5 411.0h0M504.3 430.0h0M513.3 418.5h0M512.0 365.3h0M498.2 431.2h0M512.6 369.2h0M515.1 367.1h0M508.4 408.2h0M512.5 414.8h0M504.9 412.7h0"/><path id="p72" stroke="#d5ff49" d="M535.7 338.4h0M525.3 346.2h0M539.9 351.2h0M526.1 364.9h0M532.2 355.9h0M504.0 356.6h0M527.3 367.7h0M531.0 356.8h0M534.3 348.1h0M526.6 355.4h0M542.9 391.8h0M528.8 380.8h0M520.5 347.6h0M477.0 421.9h0M532.0 404.7h0M514.6 379.6h0M506.7 422.4h0M536.7 349.1h0M529.4 378.4h0M520.9 356.6h0M523.2 377.3h0M515.4 351.5h0M532.4 399.2h0M471.1 448.8h0M529.8 401.8h0M524.2 372.7h0M532.8 373.6h0M514.8 389.6h0M534.0 400.5h0M538.8 374.4h0M527.9 385.4h0M522.0 335.2h0M527.5 367.7h0M534.5 384.8h0M511.8 356.5h0"/><path id="p73" stroke="#b9ff65" d="M529.7 370.4h0M536.3 371.3h0M517.3 382.8h0M529.3 387.9h0M528.5 393.3h0M531.1 388.2h0M513.1 379.8h0M534.6 404.6h0M528.8 381.4h0M513.3 401.9h0M535.3 383.8h0M504.8 389.5h0M520.6 397.1h0M522.2 394.1h0M511.2 407.3h0M499.2 365.6h0M516.5 388.7h0M522.8 354.5h0M538.6 388.2h0M527.1 390.1h0M519.0 421.0h0M540.2 363.9h0M532.2 392.5h0M526.7 422.2h0M528.2 396.0h0M491.7 377.6h0M520.8 351.8h0M514.8 442.3h0M523.7 404.7h0M516.5 375.6h0M521.0 398.5h0M509.9 382.3h0M511.7 370.5h0M514.0 446.9h0M527.5 384.7h0M531.2 375.8h0M470.0 460.4h0M519.4 412.5h0M510.9 383.0h0M516.3 387.9h0M526.9 391.2h0M520.5 379.6h0M513.8 390.8h0M523.2 380.4h0M511.2 362.8h0M526.1 363.9h0M527.5 356.1h0M527.4 367.6h0M533.1 366.2h0M503.9 428.2h0M534.1 386.1h0M501.7 373.2h0M517.2 354.3h0M540.5 394.4h0M519.5 413.2h0M514.0 417.4h0M521.0 318.2h0M534.5 385.0h0M527.1 409.2h0M522.3 422.1h0M533.5 381.6h0M509.2 368.8h0M519.5 406.1h0M502.9 378.3h0M526.8 422.2h0M515.7 397.5h0M505.5 347.1h0M524.0 355.9h0M512.8 406.5h0"/><path id="p74" stroke="#b91f1f" d="M529.4 330.6h0M574.5 357.4h0M489.5 386.6h0"/><path id="p75" stroke="#1f49ff" d="M470.0 451.6h0M453.9 424.5h0M462.9 477.7h0M453.2 420.6h0M480.3 436.4h0M466.7 461.7h0M462.0 462.9h0M477.5 472.0h0M475.1 397.0h0M467.1 476.0h0M467.8 457.1h0M461.4 422.6h0M458.2 462.7h0M452.0 424.0h0M453.8 479.5h0M458.0 382.6h0M474.8 398.6h0"/><path id="p76" stroke="#f1ff2d" d="M527.2 366.9h0M531.2 365.3h0M532.3 383.7h0M511.0 431.6h0M541.2 349.7h0M532.1 384.9h0M539.9 336.0h0M540.9 374.3h0M513.9 414.9h0M520.2 348.1h0M531.8 415.2h0M538.8 355.0h0M521.4 381.0h0M538.3 372.4h0M523.6 379.4h0M529.0 375.1h0M517.5 389.0h0M516.2 359.3h0M517.1 404.8h0M530.9 348.3h0M490.1 395.8h0M527.7 375.0h0M522.0 355.3h0M519.8 425.0h0M529.7 397.6h0M511.0 356.5h0M543.2 401.5h0M530.9 411.3h0M548.0 364.0h0M530.3 364.5h0M531.3 355.1h0M531.8 389.2h0M526.0 358.0h0M515.9 401.4h0M531.4 360.3h0M543.7 339.0h0"/><path id="p77" stroke="#9c1f1f" d="M599.8 366.7h0M546.8 351.9h0M534.5 378.1h0M560.5 368.4h0M523.6 351.9h0"/><path id="p78" stroke="#1f65ff" d="M472.8 407.8h0M467.2 383.4h0M489.7 463.3h0M495.6 393.0h0M484.9 421.9h0M477.3 434.8h0M464.8 436.8h0M478.5 388.9h0M468.0 458.3h0M459.2 385.5h0M455.6 417.1h0M460.5 397.9h0M468.7 439.1h0M478.8 405.7h0M463.6 416.8h0M474.0 416.6h0M468.2 468.9h0M468.8 440.9h0M466.0 407.1h0M479.3 440.6h0M480.8 420.1h0M459.3 430.2h0M479.2 421.3h0M468.0 458.9h0M467.0 454.7h0"/></defs><g fill="none" stroke-linecap="round" stroke-width="2.9" opacity="0.3"><use href="#p48"/><use href="#p49"/><use href="#p50"/><use href="#p51"/><use href="#p52"/><use href="#p53"/><use href="#p54"/><use href="#p55"/><use href="#p56"/><use href="#p57"/><use href="#p58"/><use href="#p59"/><use href="#p60"/><use href="#p61"/><use href="#p62"/><use href="#p63"/><use href="#p64"/><use href="#p65"/><use href="#p66"/><use href="#p67"/><use href="#p68"/><use href="#p69"/><use href="#p70"/><use href="#p71"/><use href="#p72"/><use href="#p73"/><use href="#p74"/><use href="#p75"/><use href="#p76"/><use href="#p77"/><use href="#p78"/></g><g fill="none" stroke-linecap="round" stroke-width="1.85"><use href="#p48"/><use href="#p49"/><use href="#p50"/><use href="#p51"/><use href="#p52"/><use href="#p53"/><use href="#p54"/><use href="#p55"/><use href="#p56"/><use href="#p57"/><use href="#p58"/><use href="#p59"/><use href="#p60"/><use href="#p61"/><use href="#p62"/><use href="#p63"/><use href="#p64"/><use href="#p65"/><use href="#p66"/><use href="#p67"/><use href="#p68"/><use href="#p69"/><use href="#p70"/><use href="#p71"/><use href="#p72"/><use href="#p73"/><use href="#p74"/><use href="#p75"/><use href="#p76"/><use href="#p77"/><use href="#p78"/></g><defs><path id="p79" stroke="#1f1fd5" d="M455.9 475.4h0M440.1 371.6h0M455.0 471.3h0M457.9 406.2h0"/><path id="p80" stroke="#1f2dff" d="M471.8 450.3h0M454.6 392.6h0M465.1 428.7h0M457.4 442.5h0M461.2 451.4h0M473.7 405.4h0M471.1 426.1h0M456.2 426.5h0"/><path id="p81" stroke="#1fd5ff" d="M485.9 420.1h0M476.7 404.3h0M481.8 410.5h0M486.0 414.0h0M480.2 409.9h0M482.5 427.6h0M507.2 416.4h0M488.4 418.8h0M479.9 402.5h0M482.0 400.8h0M478.7 438.2h0M483.2 394.5h0M485.8 388.4h0M479.1 427.9h0M491.1 411.4h0M477.6 446.4h0M487.1 410.5h0M470.5 374.7h0M485.3 378.5h0M498.5 441.8h0M502.6 462.5h0M493.6 408.7h0M502.4 406.0h0M495.5 393.1h0M482.7 413.8h0M485.0 428.3h0M487.1 388.8h0M488.5 336.7h0M486.6 434.3h0M485.4 464.0h0M506.5 424.7h0M489.4 450.0h0M497.6 460.1h0M477.0 403.7h0M495.8 435.9h0M504.6 408.1h0M469.6 426.7h0M479.3 448.8h0M499.1 459.9h0M481.4 423.3h0M492.9 438.3h0M497.7 406.8h0M500.3 422.7h0M475.9 427.5h0M488.5 422.9h0M492.4 432.9h0M474.0 410.4h0M506.5 378.5h0M483.6 411.0h0M487.0 385.1h0M482.7 452.7h0M478.0 376.7h0M467.6 458.1h0M489.1 365.9h0M482.1 360.6h0M481.7 436.0h0M488.0 452.1h0M487.5 409.6h0"/><path id="p82" stroke="#9c1f1f" d="M504.7 404.5h0M510.6 354.7h0M557.6 364.8h0M562.9 368.0h0M554.2 366.5h0"/><path id="p83" stroke="#b9ff65" d="M525.9 376.0h0M524.7 386.5h0M536.0 363.6h0M498.2 390.8h0M528.9 427.0h0M516.2 400.5h0M514.0 392.6h0M518.7 428.2h0M527.0 379.5h0M518.9 430.9h0M523.5 356.3h0M528.3 404.8h0M507.1 370.8h0M517.7 377.0h0M513.6 419.6h0M514.8 384.6h0M524.4 334.5h0M530.3 329.1h0M521.6 390.5h0M527.4 411.7h0M516.0 355.9h0M525.3 352.4h0M525.8 372.7h0M523.4 361.1h0M527.5 409.6h0M517.1 411.0h0M526.4 392.7h0M511.5 371.3h0M528.6 350.0h0M511.3 372.5h0M510.4 414.1h0M519.2 398.1h0M530.0 326.4h0M508.9 412.1h0M530.2 374.3h0M509.6 399.6h0M523.3 370.4h0M520.6 358.3h0M479.9 471.0h0M529.1 383.7h0M509.9 438.7h0M519.6 341.8h0M502.0 394.1h0M521.2 398.2h0M521.6 397.6h0M498.7 390.9h0M526.1 339.4h0M517.1 396.9h0M509.0 382.5h0M531.5 361.7h0M516.3 388.0h0M512.8 326.9h0M524.6 407.3h0M518.9 417.2h0M524.1 396.9h0M515.1 396.2h0M521.0 384.1h0M516.6 361.2h0M514.6 424.7h0M522.2 429.7h0M503.6 361.4h0M525.4 386.8h0M515.5 356.8h0M512.5 390.9h0"/><path id="p84" stroke="#1f1fb9" d="M482.3 445.8h0M517.7 357.1h0M491.8 454.9h0M485.1 486.8h0"/><path id="p85" stroke="#1f1f9c" d="M500.0 362.9h0M485.8 412.0h0M491.0 430.2h0M425.7 455.0h0M466.5 439.2h0"/><path id="p86" stroke="#f1ff2d" d="M527.8 393.7h0M548.2 352.0h0M511.5 456.3h0M525.8 392.4h0M536.5 384.1h0M523.6 383.0h0M540.7 375.3h0M534.7 379.5h0M534.6 391.7h0M534.0 377.0h0M535.8 374.8h0M505.4 449.3h0M538.5 344.9h0M501.5 431.0h0M525.3 401.6h0M529.3 374.1h0M561.5 364.3h0M493.9 393.2h0M531.4 338.7h0M551.4 378.7h0M529.0 397.1h0M542.0 390.8h0M532.4 419.4h0M527.0 392.7h0M514.4 380.0h0M535.9 359.7h0M538.4 347.2h0M533.3 371.0h0M528.2 370.9h0M529.2 357.4h0M529.0 391.7h0M518.5 370.0h0M505.2 382.1h0"/><path id="p87" stroke="#65ffb9" d="M511.5 422.5h0M502.7 371.5h0M514.0 386.7h0M507.1 351.2h0M515.7 371.0h0M502.3 447.9h0M512.2 382.0h0M499.4 407.3h0M515.1 393.3h0M494.2 427.7h0M489.8 464.7h0M488.9 379.5h0M505.2 385.8h0M502.9 420.3h0M502.0 356.1h0M499.5 375.3h0M492.3 339.3h0M501.5 401.2h0M506.8 416.6h0M491.2 388.2h0M491.1 419.0h0M508.6 396.1h0M484.8 442.4h0M505.8 391.9h0M513.6 367.4h0M480.6 364.6h0M514.2 374.5h0M514.5 392.2h0M495.9 382.6h0M504.7 414.4h0M506.6 376.1h0M503.7 386.0h0M510.6 404.9h0M513.5 407.0h0M503.7 405.3h0M508.3 442.0h0M523.2 404.0h0M515.9 413.6h0M508.7 387.9h0M504.5 368.5h0M508.0 378.5h0M499.8 407.7h0M505.8 454.0h0M504.1 394.8h0M507.6 379.4h0M500.9 405.4h0M491.4 369.1h0M505.7 402.0h0M494.9 407.8h0M509.9 414.7h0M539.4 349.2h0M504.6 431.1h0M521.7 407.8h0M509.2 385.0h0M534.0 392.2h0M493.2 401.0h0M503.4 384.0h0M507.2 348.0h0M517.9 417.4h0M521.4 411.0h0M507.3 366.6h0M506.2 433.1h0M512.3 381.9h0M509.1 398.0h0M503.3 410.9h0"/><path id="p88" stroke="#ff811f" d="M545.6 371.4h0M554.3 380.0h0M510.5 390.7h0M496.3 456.1h0M542.7 344.6h0M536.8 370.7h0M560.2 393.8h0"/><path id="p89" stroke="#ffb91f" d="M552.2 362.1h0M505.6 372.8h0M534.3 372.7h0M523.5 411.3h0M554.5 364.3h0M504.0 438.9h0M546.8 363.0h0M551.6 359.7h0M551.5 367.2h0M473.8 406.5h0M563.4 350.2h0M535.2 386.5h0M485.0 407.6h0M551.0 389.6h0M538.7 363.5h0M549.5 361.2h0M539.9 384.2h0M540.9 381.0h0"/><path id="p90" stroke="#ff651f" d="M551.0 341.3h0M540.1 403.4h0M558.8 362.9h0M563.6 358.7h0M513.1 404.5h0M541.2 338.4h0M486.0 432.1h0M547.8 381.3h0"/><path id="p91" stroke="#1f49ff" d="M465.2 427.9h0M467.4 447.9h0M466.7 484.1h0M462.2 417.0h0M465.8 415.6h0M458.5 449.6h0M455.7 443.6h0M465.1 419.4h0M483.7 434.9h0M463.4 415.8h0M468.4 345.5h0"/><path id="p92" stroke="#9cff81" d="M510.7 383.6h0M503.0 421.5h0M498.1 367.6h0M532.6 369.0h0M534.8 363.5h0M538.4 363.8h0M493.8 370.2h0M530.4 389.2h0M507.9 365.6h0M525.5 356.3h0M506.3 367.8h0M525.5 391.8h0M489.2 394.0h0M517.7 381.6h0M490.3 362.9h0M508.3 428.0h0M497.5 357.2h0M503.1 453.4h0M515.4 440.5h0M495.7 419.7h0M490.9 425.0h0M516.9 390.0h0M527.3 362.6h0M542.3 394.0h0M518.5 387.9h0M520.7 444.0h0M506.7 450.7h0M507.5 424.7h0M513.2 377.1h0M535.5 355.1h0M507.9 402.6h0M517.8 432.4h0M526.7 379.7h0M522.7 380.3h0M529.6 354.1h0M510.7 486.6h0M532.5 338.8h0M508.4 361.1h0M517.8 429.1h0M513.2 378.5h0M531.4 345.3h0M530.0 396.7h0M514.8 385.6h0M519.0 416.3h0M492.9 388.6h0M515.5 401.4h0M525.2 455.7h0M509.8 394.2h0M512.4 388.3h0M520.5 400.4h0M514.5 361.3h0M508.6 379.5h0M521.9 436.7h0M532.9 367.0h0M507.6 411.3h0M512.9 389.8h0M517.8 401.6h0M530.6 382.2h0M517.1 385.1h0M512.3 403.3h0"/><path id="p93" stroke="#1f9cff" d="M486.4 411.4h0M474.8 423.9h0M473.4 396.9h0M495.0 418.3h0M462.6 441.6h0M479.2 418.0h0M478.5 416.3h0M467.2 453.0h0M477.2 440.9h0M476.7 418.9h0M476.7 430.4h0M468.1 412.8h0M489.8 435.6h0M489.2 344.8h0M471.8 407.0h0M468.2 372.9h0M478.7 375.1h0M474.6 471.2h0M484.0 438.8h0M471.9 411.8h0M478.3 422.7h0M480.3 406.6h0M487.8 363.7h0M489.9 359.9h0M497.2 410.9h0M481.0 456.6h0M486.3 422.7h0M453.7 425.7h0M460.5 479.5h0M477.4 429.1h0M497.1 375.9h0M485.9 392.4h0M498.1 464.3h0M487.1 447.1h0M500.6 410.4h0M475.9 370.8h0M474.7 447.8h0M470.9 427.3h0M476.6 464.9h0M482.3 433.3h0M469.8 419.8h0M481.6 426.1h0M494.4 437.4h0M487.4 387.6h0M485.7 457.7h0M487.7 440.2h0M484.8 464.9h0M472.0 430.7h0M468.8 435.1h0M480.1 423.6h0M479.7 441.9h0M483.2 469.0h0"/><path id="p94" stroke="#d51f1f" d="M532.7 372.7h0M514.5 410.9h0"/><path id="p95" stroke="#d5ff49" d="M524.2 377.8h0M523.5 394.0h0M524.3 398.3h0M468.9 390.6h0M530.0 353.6h0M527.0 368.3h0M515.0 397.4h0M526.8 390.3h0M512.0 428.4h0M523.5 440.7h0M521.8 367.3h0M508.3 373.7h0M522.2 386.5h0M519.3 414.0h0M537.9 380.9h0M523.4 381.0h0M513.6 359.0h0M527.7 376.4h0M524.3 368.5h0M539.8 375.4h0M520.5 365.9h0M535.9 335.4h0M541.3 350.4h0M523.0 376.2h0M531.4 464.2h0M527.7 396.6h0M524.9 363.6h0M514.9 366.0h0M531.8 392.2h0M549.6 355.9h0M534.4 372.3h0M523.7 362.5h0M522.2 361.6h0M517.0 387.2h0M514.3 385.0h0M532.3 381.7h0M518.0 433.9h0M539.2 341.0h0M527.0 363.4h0M516.3 354.5h0M520.7 385.0h0M530.4 350.9h0M538.9 383.7h0M474.2 398.5h0M540.1 363.3h0M537.7 387.0h0M522.4 368.5h0M522.5 374.7h0"/><path id="p96" stroke="#1f81ff" d="M476.3 409.1h0M492.7 456.0h0M469.8 428.0h0M467.2 426.9h0M473.5 396.7h0M466.6 427.0h0M471.7 412.8h0M465.8 399.2h0M488.0 390.7h0M460.8 382.7h0M459.2 395.8h0M471.5 398.2h0M468.6 380.7h0M490.4 421.4h0M474.2 413.1h0M468.3 391.4h0M473.7 411.9h0M455.5 462.7h0M478.0 428.2h0M462.0 457.1h0M483.1 464.3h0M488.9 340.0h0M476.8 398.6h0M478.9 435.4h0M482.3 405.0h0M470.7 460.6h0M482.2 373.0h0M488.3 436.1h0M480.2 402.0h0M463.6 409.3h0M480.4 404.2h0M485.1 426.8h0M476.8 420.1h0M490.5 475.4h0M486.6 446.0h0M472.4 491.0h0M486.2 431.1h0M470.7 465.2h0M488.8 357.2h0M462.8 446.2h0M473.9 425.2h0M482.9 432.4h0"/><path id="p97" stroke="#ff2d1f" d="M561.6 373.9h0M522.5 366.5h0M579.8 365.6h0M554.5 385.4h0M566.0 369.9h0M523.4 366.3h0M496.3 399.3h0"/><path id="p98" stroke="#1ff1ff" d="M498.4 429.7h0M497.9 403.1h0M500.9 385.1h0M498.3 399.0h0M481.9 426.9h0M481.9 415.0h0M473.6 406.6h0M489.3 387.5h0M492.6 439.7h0M496.2 458.4h0M505.7 439.8h0M499.2 411.0h0M482.2 412.0h0M503.6 447.4h0M522.5 371.7h0M499.9 399.5h0M468.2 407.1h0M504.2 424.1h0M501.2 402.6h0M470.3 365.6h0M481.9 418.6h0M493.6 431.2h0M490.6 372.4h0M491.9 380.7h0M484.7 414.2h0M484.9 438.8h0M473.9 437.6h0M474.9 434.5h0M495.3 390.7h0M486.7 413.3h0M478.5 391.4h0M497.6 388.8h0M499.2 384.3h0M491.7 402.9h0M493.3 465.2h0M501.5 407.2h0M503.3 407.7h0M491.4 425.9h0M498.8 445.1h0M486.8 445.8h0M486.7 422.6h0M502.1 398.5h0M488.3 363.0h0M512.7 382.4h0M499.2 419.6h0M492.0 435.9h0M493.6 360.9h0M488.1 374.2h0M509.7 438.6h0M504.3 383.7h0M486.5 383.9h0M492.4 424.7h0M484.0 484.5h0M498.2 389.3h0M501.6 393.0h0M501.1 451.0h0M487.5 436.4h0M494.2 385.6h0M499.1 418.4h0M479.3 406.1h0M480.6 443.4h0M478.8 483.4h0M491.5 452.7h0M500.9 401.7h0M495.2 395.6h0M505.8 422.8h0M479.2 426.9h0M487.3 385.0h0"/><path id="p99" stroke="#fff11f" d="M556.3 392.4h0M520.8 436.2h0M510.8 403.5h0M492.2 399.2h0M541.5 344.6h0M535.6 388.5h0M529.5 368.8h0M529.1 350.7h0M532.4 367.0h0M518.5 383.6h0M539.4 374.2h0M524.0 408.6h0M528.8 338.7h0M527.5 391.5h0M548.0 357.3h0M543.9 385.5h0M534.3 341.7h0M547.3 386.3h0M549.0 387.3h0M527.4 360.7h0M548.9 394.6h0"/><path id="p100" stroke="#81ff9c" d="M523.4 371.9h0M509.3 420.6h0M520.1 439.9h0M495.0 439.8h0M517.8 386.1h0M526.7 363.4h0M512.6 390.6h0M486.6 338.8h0M511.7 406.7h0M500.0 369.2h0M511.7 418.5h0M508.6 368.7h0M504.6 387.0h0M523.0 406.2h0M498.7 404.3h0M496.9 371.1h0M509.4 370.2h0M505.7 390.9h0M497.7 447.8h0M515.0 422.9h0M511.0 383.6h0M495.0 371.2h0M510.2 357.5h0M534.5 395.7h0M507.0 349.5h0M525.2 385.4h0M517.8 378.6h0M505.8 407.3h0M508.7 365.7h0M519.0 370.2h0M510.0 413.7h0M528.1 414.3h0M515.2 438.0h0M499.5 406.3h0M519.0 386.3h0M515.5 453.4h0M502.8 372.7h0M503.6 378.5h0M522.8 398.5h0M504.9 395.6h0M519.6 402.1h0M513.8 402.6h0M527.1 332.7h0M517.8 367.4h0M511.1 409.0h0M511.4 388.2h0M519.1 371.2h0M513.4 422.3h0M505.1 388.0h0M505.9 399.6h0M501.6 424.3h0M506.4 401.8h0M519.8 331.3h0M493.8 406.5h0M517.6 382.9h0M509.7 427.2h0M528.8 367.6h0M514.4 417.7h0M499.5 432.9h0M504.3 393.8h0M512.4 398.2h0M491.8 393.7h0M498.9 394.8h0M503.0 382.9h0M523.3 405.1h0M507.0 390.4h0M512.9 386.1h0M504.4 384.6h0M512.8 363.4h0M507.4 463.9h0"/><path id="p101" stroke="#2dfff1" d="M501.3 428.1h0M488.7 461.9h0M512.7 426.8h0M496.2 432.9h0M513.4 360.9h0M506.4 424.2h0M505.1 428.3h0M500.4 413.7h0M509.1 395.2h0M504.8 396.5h0M509.3 354.5h0M498.1 381.5h0M500.9 393.3h0M481.5 417.7h0M490.9 447.2h0M511.3 372.5h0M497.5 356.1h0M487.9 435.7h0M500.4 395.1h0M474.5 445.3h0M482.8 412.7h0M503.9 408.6h0M495.5 388.7h0M511.0 449.1h0M495.0 416.4h0M512.3 432.0h0M511.2 425.0h0M513.3 382.7h0M489.5 397.6h0M503.5 444.0h0M496.0 371.5h0M504.7 393.3h0M508.3 448.5h0M481.8 424.6h0M491.4 375.7h0M502.0 426.6h0M493.8 426.0h0M498.5 477.9h0M500.6 360.8h0M491.6 398.3h0M494.8 384.5h0M489.7 377.8h0M510.0 395.7h0M480.9 449.7h0M504.1 436.1h0M498.9 332.4h0M493.3 408.6h0M504.2 400.3h0M500.8 437.0h0M497.4 376.9h0M511.0 386.1h0M499.6 395.3h0M495.9 401.3h0M496.3 390.5h0M499.9 475.2h0M505.5 412.2h0M496.4 389.9h0M487.9 466.1h0M503.6 444.2h0M497.8 416.5h0M488.8 419.8h0M498.2 440.8h0M496.3 377.0h0M504.7 427.6h0"/><path id="p102" stroke="#ff491f" d="M543.5 422.7h0M542.9 375.8h0M579.6 367.8h0M586.5 365.1h0M508.2 444.1h0M520.7 415.4h0M564.0 364.2h0"/><path id="p103" stroke="#49ffd5" d="M503.7 369.5h0M500.7 403.5h0M495.8 330.1h0M502.0 356.3h0M517.0 390.4h0M495.1 410.7h0M503.1 416.2h0M486.6 420.8h0M494.6 424.1h0M484.4 406.1h0M499.1 384.6h0M507.0 430.1h0M515.3 387.4h0M490.7 391.1h0M491.3 434.1h0M507.8 415.5h0M512.7 361.3h0M503.1 386.7h0M508.2 399.1h0M504.4 416.4h0M490.8 429.4h0M506.4 373.6h0M496.5 429.4h0M526.7 391.6h0M500.8 376.2h0M507.4 438.8h0M499.9 400.4h0M510.4 411.7h0M499.8 429.1h0M494.0 389.1h0M500.1 458.8h0M493.1 387.4h0M513.0 406.4h0M493.6 371.0h0M501.2 418.2h0M487.3 407.9h0M487.5 454.9h0M501.7 401.8h0M500.4 484.5h0M503.4 411.2h0M516.7 386.4h0M488.6 400.7h0M502.2 371.9h0M503.6 453.4h0M489.8 393.9h0M511.7 388.3h0M503.7 369.1h0M492.9 340.9h0M497.5 384.9h0M502.7 410.3h0M500.3 412.0h0M509.9 440.2h0M502.6 438.8h0M496.7 399.2h0M494.7 398.6h0M512.9 421.5h0M490.8 436.8h0M496.2 395.3h0M504.9 409.1h0M504.3 364.4h0M514.4 373.8h0M509.6 423.6h0M493.7 384.5h0M495.1 399.4h0M495.6 365.4h0M502.9 402.9h0M493.3 457.5h0M494.8 383.0h0M490.1 458.7h0M509.3 416.5h0M492.9 361.0h0M492.4 437.9h0M518.2 413.5h0M505.0 376.6h0M493.2 391.6h0M506.0 421.9h0M519.1 381.8h0M508.8 444.1h0M491.8 477.8h0"/><path id="p104" stroke="#1f65ff" d="M463.4 477.8h0M462.8 476.3h0M452.4 426.8h0M480.4 380.6h0M469.5 345.0h0M471.4 475.4h0M469.3 470.4h0M473.9 432.7h0M465.6 450.8h0M488.9 409.1h0M494.3 439.4h0M465.7 392.5h0M468.7 388.6h0M466.6 446.4h0M463.0 437.5h0M458.2 427.1h0M451.8 441.7h0M452.8 450.0h0M480.2 439.2h0M468.4 415.3h0M463.2 483.5h0M481.7 454.8h0M479.1 406.6h0M498.6 424.9h0M478.2 417.2h0M491.7 453.0h0M493.1 410.4h0M466.3 433.6h0M476.6 501.9h0M470.9 341.1h0M458.0 410.4h0M465.4 430.7h0"/><path id="p105" stroke="#1f1ff1" d="M461.1 450.9h0M464.6 378.8h0M464.7 465.1h0M454.9 405.2h0M451.0 473.3h0M458.3 443.0h0"/><path id="p106" stroke="#ff9c1f" d="M549.0 367.0h0M540.0 362.3h0M545.1 318.7h0M534.8 385.5h0M553.9 391.1h0M544.5 346.1h0M513.8 360.3h0M560.0 357.8h0"/><path id="p107" stroke="#1fb9ff" d="M463.4 375.2h0M477.5 444.9h0M472.5 429.0h0M478.8 415.4h0M475.8 378.1h0M489.5 381.0h0M494.8 425.2h0M495.3 462.6h0M478.0 415.7h0M487.8 475.7h0M489.2 436.0h0M483.1 376.1h0M467.3 422.4h0M495.1 404.0h0M472.9 436.6h0M478.8 419.6h0M500.6 420.6h0M488.8 410.4h0M487.3 398.9h0M473.4 449.4h0M476.6 396.3h0M485.5 393.1h0M496.1 429.7h0M484.5 434.1h0M476.8 462.7h0M476.1 431.3h0M490.9 365.4h0M478.6 399.0h0M486.0 390.9h0M499.8 390.5h0M476.3 397.3h0M480.6 430.8h0M488.5 385.6h0M472.0 415.0h0M485.0 400.3h0M490.3 413.7h0M506.5 452.6h0M497.6 405.4h0M470.8 409.7h0M492.2 413.6h0M489.4 412.4h0M501.1 408.4h0M473.8 417.7h0M480.9 387.7h0M504.8 415.4h0M483.5 397.3h0M483.8 418.4h0M481.3 362.8h0M472.9 395.0h0M479.1 394.7h0M473.6 389.4h0M481.2 462.7h0"/><path id="p108" stroke="#b91f1f" d="M512.1 402.1h0"/><path id="p109" stroke="#ffd51f" d="M546.2 369.5h0M539.6 404.4h0M543.1 413.7h0M560.5 377.6h0M535.5 383.8h0M533.8 345.3h0M538.7 346.5h0M539.6 370.1h0M529.4 383.5h0M550.4 403.9h0M552.2 372.6h0M536.9 382.4h0M535.6 374.1h0M529.6 370.7h0M518.4 392.1h0M534.5 405.5h0M530.6 378.2h0M553.5 387.4h0M557.2 369.6h0M536.1 330.3h0"/></defs><g fill="none" stroke-linecap="round" stroke-width="2.9" opacity="0.3"><use href="#p79"/><use href="#p80"/><use href="#p81"/><use href="#p82"/><use href="#p83"/><use href="#p84"/><use href="#p85"/><use href="#p86"/><use href="#p87"/><use href="#p88"/><use href="#p89"/><use href="#p90"/><use href="#p91"/><use href="#p92"/><use href="#p93"/><use href="#p94"/><use href="#p95"/><use href="#p96"/><use href="#p97"/><use href="#p98"/><use href="#p99"/><use href="#p100"/><use href="#p101"/><use href="#p102"/><use href="#p103"/><use href="#p104"/><use href="#p105"/><use href="#p106"/><use href="#p107"/><use href="#p108"/><use href="#p109"/></g><g fill="none" stroke-linecap="round" stroke-width="1.85"><use href="#p79"/><use href="#p80"/><use href="#p81"/><use href="#p82"/><use href="#p83"/><use href="#p84"/><use href="#p85"/><use href="#p86"/><use href="#p87"/><use href="#p88"/><use href="#p89"/><use href="#p90"/><use href="#p91"/><use href="#p92"/><use href="#p93"/><use href="#p94"/><use href="#p95"/><use href="#p96"/><use href="#p97"/><use href="#p98"/><use href="#p99"/><use href="#p100"/><use href="#p101"/><use href="#p102"/><use href="#p103"/><use href="#p104"/><use href="#p105"/><use href="#p106"/><use href="#p107"/><use href="#p108"/><use href="#p109"/></g><defs><path id="p110" stroke="#ffb91f" d="M541.9 359.0h0M537.9 352.3h0M531.5 340.0h0M537.0 377.7h0M555.2 359.9h0"/><path id="p111" stroke="#1f81ff" d="M472.8 392.8h0M481.6 451.7h0M453.7 490.4h0M469.9 376.8h0M472.3 412.5h0M471.6 441.9h0M478.0 450.6h0M465.7 431.5h0M468.1 405.2h0M483.8 423.8h0M460.6 466.1h0M481.6 385.7h0M472.3 431.8h0M480.6 399.6h0M471.2 420.5h0M470.1 453.1h0M477.4 422.7h0M473.0 456.3h0M491.8 458.2h0M470.5 393.0h0M461.4 468.8h0M494.8 438.5h0M469.7 422.7h0M468.2 414.7h0M474.0 403.9h0M486.2 430.5h0M489.5 472.4h0M472.1 440.5h0M459.8 423.7h0M461.0 426.9h0M459.8 456.2h0M488.9 413.7h0M485.7 460.7h0M462.8 446.9h0M469.5 452.2h0M476.3 377.8h0M476.1 406.3h0M466.7 392.9h0M471.1 418.2h0M466.9 387.2h0"/><path id="p112" stroke="#2dfff1" d="M497.2 447.1h0M490.6 434.4h0M514.8 441.6h0M477.0 426.5h0M506.3 405.8h0M486.3 443.0h0M495.7 376.2h0M480.5 461.2h0M489.0 412.5h0M486.5 423.9h0M496.6 388.0h0M507.0 361.3h0M499.7 391.1h0M504.5 428.2h0M485.8 425.3h0M522.2 402.2h0M496.7 432.3h0M479.9 371.6h0M494.1 333.2h0M506.1 400.5h0M513.2 404.0h0M474.7 414.9h0M512.4 440.8h0M492.9 459.1h0M488.3 383.8h0M501.1 404.5h0M503.5 409.0h0M490.1 420.3h0M496.7 406.6h0M487.0 390.5h0M509.2 438.0h0M491.7 399.1h0M492.4 392.7h0M501.2 369.5h0M479.9 394.8h0M496.9 436.3h0M492.8 428.4h0M488.1 416.6h0M494.8 380.5h0M491.2 415.0h0M498.1 393.0h0M495.0 383.1h0M486.3 458.3h0M494.2 417.3h0M489.0 441.7h0M497.4 391.8h0M499.8 385.4h0M497.6 384.5h0M474.6 440.6h0M491.2 381.6h0M513.1 384.9h0M480.4 350.7h0M506.9 428.4h0M492.5 413.5h0M514.4 395.2h0M496.0 397.2h0M494.2 399.5h0M479.4 447.7h0M510.1 381.6h0M486.0 426.8h0M486.0 448.1h0M511.7 368.8h0M498.4 427.4h0M513.0 417.4h0M508.0 384.9h0M493.7 363.0h0M499.4 396.9h0M486.0 433.9h0M513.9 398.2h0M503.3 472.0h0"/><path id="p113" stroke="#1ff1ff" d="M497.6 388.9h0M489.6 392.2h0M518.1 379.6h0M496.4 448.8h0M482.9 379.7h0M496.0 431.1h0M494.3 401.4h0M485.1 445.5h0M501.8 396.2h0M505.8 450.5h0M491.0 467.7h0M490.8 448.7h0M486.1 428.7h0M498.7 460.3h0M493.6 375.3h0M491.2 381.9h0M503.7 443.1h0M486.4 390.6h0M487.1 374.4h0M494.8 424.0h0M487.4 392.7h0M498.1 454.6h0M504.9 463.1h0M487.5 442.5h0M492.0 391.9h0M491.4 400.3h0M491.8 380.3h0M513.8 397.5h0M483.4 445.8h0M518.7 402.8h0M500.5 406.5h0M500.5 405.1h0M479.4 451.0h0M487.7 428.8h0M497.0 403.1h0M492.8 440.6h0M476.8 452.8h0M512.3 433.5h0M509.8 394.7h0M493.8 430.7h0M485.2 378.5h0M489.6 392.2h0M493.6 361.5h0M488.3 411.1h0M492.7 402.6h0M481.9 429.4h0M494.2 455.0h0M495.5 428.2h0M493.5 374.7h0M465.7 426.9h0M489.3 392.0h0M485.3 422.7h0M494.8 358.8h0M485.2 414.2h0M485.8 425.5h0M484.6 398.8h0M501.7 391.3h0M491.5 452.4h0M488.3 416.7h0M493.2 409.3h0M505.1 373.7h0M498.7 411.3h0M494.6 409.4h0M488.5 345.6h0M486.7 399.9h0M496.4 431.5h0M479.1 402.6h0M502.2 450.7h0M485.0 438.4h0M495.6 444.2h0M499.1 430.0h0M515.7 421.6h0M486.5 393.1h0M496.7 428.1h0M500.2 430.2h0"/><path id="p114" stroke="#b9ff65" d="M548.8 367.2h0M518.4 379.4h0M525.0 399.6h0M528.3 383.0h0M520.1 333.6h0M536.6 366.1h0M499.8 370.5h0M535.2 392.9h0M521.9 373.8h0M522.9 389.9h0M530.6 367.7h0M534.3 355.0h0M517.1 348.0h0M500.4 403.9h0M514.9 386.0h0M526.4 421.7h0M515.1 401.8h0M515.9 358.5h0M513.8 416.9h0M503.6 445.4h0M521.4 342.5h0M529.3 418.0h0M531.0 388.2h0M528.7 427.8h0M531.3 376.8h0M515.8 406.5h0M531.9 343.6h0M500.4 408.5h0M515.1 369.0h0M490.6 415.5h0M520.8 401.9h0M517.3 395.7h0M520.7 414.1h0M496.1 444.3h0M533.3 390.6h0M520.3 428.8h0M542.6 370.1h0M530.7 371.1h0M529.9 378.6h0M531.4 380.2h0M527.1 388.7h0M495.8 457.3h0"/><path id="p115" stroke="#1f1ff1" d="M458.4 452.7h0M457.7 430.2h0M473.1 431.9h0M461.0 464.5h0M451.5 446.8h0M458.8 477.2h0M453.0 447.3h0"/><path id="p116" stroke="#f11f1f" d="M565.7 354.9h0"/><path id="p117" stroke="#9cff81" d="M536.3 382.7h0M513.2 428.1h0M503.5 416.6h0M501.5 333.2h0M525.1 409.4h0M525.4 395.7h0M517.1 438.7h0M517.3 400.2h0M513.0 413.4h0M507.7 345.7h0M499.0 426.3h0M521.9 413.3h0M495.7 369.2h0M504.4 385.6h0M521.2 402.1h0M521.5 416.4h0M503.7 380.2h0M516.6 418.0h0M507.2 372.0h0M510.5 321.8h0M518.2 400.8h0M504.8 320.5h0M506.3 410.2h0M505.4 380.5h0M536.0 371.8h0M511.5 422.2h0M521.5 348.7h0M530.8 394.5h0M527.8 367.0h0M525.0 369.2h0M532.9 406.9h0M515.1 411.7h0M523.8 397.8h0M528.9 335.6h0M504.7 409.3h0M509.9 392.4h0M524.2 422.3h0M534.9 382.8h0M502.9 381.4h0M519.7 415.5h0M524.1 363.6h0M525.1 401.8h0M518.4 374.4h0M508.1 330.0h0M501.8 434.8h0M510.4 403.1h0M506.9 357.7h0M508.0 466.0h0M513.2 356.7h0M510.5 377.2h0M509.0 361.1h0M500.5 377.0h0M507.3 422.7h0M524.4 363.6h0M505.4 411.8h0"/><path id="p118" stroke="#f1ff2d" d="M508.7 422.8h0M454.3 402.0h0M532.5 360.3h0M517.0 369.8h0M473.5 387.6h0M530.0 358.0h0M529.0 408.0h0M499.5 428.7h0M546.7 365.7h0M540.4 358.2h0M517.9 355.5h0M542.4 361.2h0M528.1 370.0h0M535.0 384.3h0M545.0 357.5h0M542.1 348.8h0M516.3 403.8h0M542.9 396.2h0M540.7 392.0h0M522.5 398.0h0M527.2 367.8h0M522.6 332.3h0M531.6 359.2h0M524.6 411.8h0M519.7 369.4h0M509.4 439.5h0M535.4 393.4h0M511.5 376.8h0M550.4 351.6h0M528.3 385.6h0M539.8 370.2h0M528.7 393.4h0M536.3 403.0h0M545.0 363.0h0M541.8 357.5h0"/><path id="p119" stroke="#1f1fd5" d="M456.4 418.2h0M458.9 457.4h0M456.9 487.8h0"/><path id="p120" stroke="#d5ff49" d="M538.8 382.0h0M505.3 392.0h0M517.3 392.5h0M524.4 400.8h0M532.6 370.1h0M543.0 365.9h0M534.0 351.1h0M468.9 399.0h0M527.8 352.0h0M526.9 374.8h0M523.9 399.2h0M545.6 348.5h0M508.0 377.4h0M527.7 369.2h0M527.5 343.7h0M536.2 386.8h0M528.6 338.5h0M535.9 374.0h0M497.6 392.5h0M524.5 390.5h0M521.7 396.7h0M535.7 414.5h0M523.7 379.3h0M536.4 397.0h0M537.1 363.1h0M553.6 387.9h0M499.6 392.8h0M520.8 384.8h0M531.4 366.3h0M530.8 350.2h0M530.7 412.3h0M527.9 423.1h0M510.8 401.1h0M526.5 351.5h0M538.2 382.7h0M522.0 320.8h0M518.4 365.2h0M513.9 367.7h0M535.2 377.0h0M515.7 385.2h0M542.0 398.6h0M540.4 380.6h0M518.7 392.9h0M535.7 395.3h0"/><path id="p121" stroke="#65ffb9" d="M508.7 454.2h0M504.3 384.7h0M495.1 385.7h0M485.6 376.0h0M514.9 397.7h0M501.7 402.5h0M509.6 410.7h0M509.4 399.6h0M509.5 416.3h0M506.8 438.4h0M513.4 419.2h0M512.1 390.2h0M498.4 347.4h0M522.6 440.9h0M505.1 392.8h0M512.1 436.3h0M498.3 415.2h0M506.0 377.3h0M511.7 409.1h0M510.6 392.2h0M517.0 362.2h0M502.4 365.9h0M508.9 463.4h0M506.7 408.6h0M510.1 386.2h0M495.4 398.5h0M523.7 380.4h0M505.3 413.0h0M501.9 359.6h0M501.2 399.0h0M523.7 378.2h0M510.9 433.1h0M513.1 406.0h0M498.5 396.4h0M506.3 389.3h0M505.0 451.2h0M517.5 395.9h0M510.7 436.2h0M494.6 368.8h0M514.2 393.7h0M504.4 433.7h0M507.7 447.3h0M512.3 407.4h0M502.4 404.9h0M506.8 370.5h0M501.5 358.5h0M504.8 428.4h0M506.6 437.2h0M497.3 355.2h0M509.4 394.3h0M516.3 401.9h0M503.6 438.1h0M504.8 437.9h0M498.2 395.5h0M503.8 426.3h0M510.2 374.3h0M507.8 404.7h0M505.4 398.0h0M513.2 391.7h0M511.0 361.1h0M516.7 377.6h0M498.9 403.8h0"/><path id="p122" stroke="#1f9cff" d="M487.7 454.8h0M473.9 421.4h0M470.3 453.9h0M482.6 416.5h0M476.4 358.2h0M473.6 456.8h0M476.3 409.7h0M479.9 458.7h0M468.5 426.4h0M494.1 383.0h0M482.2 384.3h0M489.8 480.3h0M475.8 477.8h0M464.3 393.5h0M470.4 378.7h0M487.9 423.2h0M492.9 396.9h0M480.6 445.3h0M484.6 441.1h0M478.8 455.6h0M494.3 448.3h0M490.3 438.8h0M486.4 379.4h0M474.0 441.8h0M467.6 419.1h0M477.8 380.8h0M469.8 401.1h0M481.7 379.2h0M460.9 415.9h0M486.3 445.0h0M484.5 439.3h0M481.7 405.0h0M488.2 471.1h0M500.8 372.8h0M481.7 391.7h0"/><path id="p123" stroke="#81ff9c" d="M514.1 401.8h0M504.0 402.5h0M512.5 416.8h0M527.5 363.3h0M525.0 400.8h0M506.1 352.6h0M525.0 410.7h0M509.3 391.6h0M520.9 340.4h0M507.9 407.0h0M511.0 391.4h0M489.2 393.4h0M504.9 362.5h0M526.1 392.8h0M519.1 387.6h0M519.5 381.6h0M515.0 413.6h0M525.4 381.7h0M533.8 427.5h0M511.9 417.5h0M524.1 404.9h0M464.3 445.1h0M520.4 441.5h0M505.5 381.3h0M515.6 419.2h0M495.2 370.2h0M509.0 387.1h0M507.0 360.6h0M510.7 354.6h0M531.4 366.8h0M510.4 396.5h0M512.1 398.7h0M502.4 400.9h0M503.5 396.8h0M507.7 415.4h0M519.2 370.4h0M495.7 405.6h0M503.1 416.9h0M500.6 385.9h0M522.5 385.2h0M525.0 391.8h0M532.2 388.2h0M497.6 408.3h0M512.6 385.4h0M502.3 366.8h0M506.3 385.4h0M508.2 453.9h0M499.2 466.4h0M521.5 363.3h0M498.5 422.0h0M513.5 376.7h0M496.7 382.4h0M515.8 352.9h0M506.5 385.6h0M513.3 333.3h0"/><path id="p124" stroke="#ff9c1f" d="M500.6 376.4h0M558.4 372.3h0M500.5 432.8h0M551.9 370.2h0M551.9 369.8h0M549.3 352.1h0M504.7 383.3h0M546.3 384.8h0M546.2 394.1h0M501.4 379.9h0M540.9 376.7h0M536.5 371.1h0M551.3 354.7h0"/><path id="p125" stroke="#1fb9ff" d="M486.8 424.2h0M492.1 446.0h0M471.1 440.8h0M483.5 452.5h0M486.0 392.5h0M485.5 367.7h0M470.4 387.0h0M499.3 398.1h0M489.3 391.6h0M476.6 429.3h0M477.4 431.6h0M485.4 451.1h0M494.5 397.9h0M501.9 395.4h0M492.3 439.8h0M487.8 437.1h0M484.0 404.0h0M464.7 451.1h0M488.7 407.2h0M487.4 425.8h0M492.4 457.2h0M484.4 467.1h0M482.3 452.0h0M495.4 438.3h0M458.1 473.2h0M485.8 439.9h0M491.6 358.0h0M472.3 415.9h0M481.0 421.1h0M480.7 438.9h0M479.7 406.4h0M510.8 368.6h0M474.7 384.3h0M485.4 412.7h0M479.5 448.1h0M487.3 422.2h0M466.3 364.1h0M492.1 439.4h0M484.9 446.1h0M490.7 431.4h0M492.7 405.8h0M496.9 463.8h0M470.7 432.6h0M499.3 474.6h0M484.0 362.9h0M478.3 422.5h0M485.6 460.9h0M480.6 390.7h0M480.0 370.9h0M473.7 467.2h0M501.5 386.2h0M474.1 409.7h0M481.4 417.4h0M474.5 398.8h0M486.2 411.9h0M469.6 461.1h0M477.8 421.2h0M478.9 409.4h0"/><path id="p126" stroke="#fff11f" d="M540.3 377.6h0M551.2 381.5h0M549.9 388.8h0M525.2 379.8h0M537.5 355.5h0M534.4 379.6h0M528.6 389.7h0M539.3 352.5h0M544.3 381.6h0M524.7 400.3h0M504.6 377.3h0M518.3 392.9h0M517.8 352.0h0M545.5 388.1h0M533.7 384.4h0M531.2 416.9h0M537.6 378.8h0M526.8 379.8h0M539.2 393.1h0M530.5 355.5h0M533.6 379.8h0M529.1 431.7h0M530.5 376.1h0M533.9 372.7h0M533.9 372.6h0M537.4 411.2h0M535.9 366.6h0M536.8 356.6h0M533.0 386.2h0M545.6 391.7h0M543.2 354.5h0"/><path id="p127" stroke="#ff2d1f" d="M492.2 393.4h0M573.2 370.5h0M566.6 367.9h0M493.6 376.2h0"/><path id="p128" stroke="#1f1f9c" d="M453.8 469.0h0M413.2 415.9h0M487.8 412.0h0M482.6 363.0h0M449.2 465.0h0M538.0 361.7h0"/><path id="p129" stroke="#b91f1f" d="M497.8 385.9h0M521.7 356.2h0M512.5 417.0h0"/><path id="p130" stroke="#1f1fb9" d="M470.6 410.3h0M520.9 409.9h0M440.1 438.9h0M466.5 456.3h0M513.6 424.3h0"/><path id="p131" stroke="#1fd5ff" d="M487.6 409.2h0M515.3 383.5h0M486.5 362.3h0M503.4 435.4h0M504.9 443.9h0M488.3 400.5h0M482.4 414.5h0M474.1 438.3h0M506.9 415.5h0M481.2 447.5h0M498.2 462.9h0M501.3 406.8h0M491.0 408.1h0M477.6 457.6h0M471.2 385.4h0M496.3 420.0h0M483.6 410.6h0M482.7 421.4h0M495.8 404.1h0M490.1 441.1h0M479.5 427.6h0M468.7 443.6h0M503.5 419.2h0M484.8 439.9h0M483.1 398.2h0M499.7 408.5h0M497.2 402.7h0M469.3 439.3h0M487.0 350.0h0M500.9 381.3h0M494.4 421.1h0M484.0 446.0h0M498.8 404.6h0M484.7 457.2h0M486.4 410.7h0M485.1 421.5h0M492.3 403.8h0M493.3 456.4h0M495.8 405.9h0M479.2 401.3h0M500.7 442.1h0M493.9 446.1h0M484.1 402.5h0M488.6 431.2h0M481.0 415.2h0M494.4 384.2h0M487.0 460.7h0M490.6 395.6h0M484.9 380.7h0M496.1 425.1h0M485.0 439.3h0M472.5 465.7h0M487.0 444.8h0M486.5 421.6h0M495.7 452.2h0M492.9 382.5h0M499.7 413.2h0M486.6 367.8h0M500.8 387.3h0M478.8 364.3h0M493.3 439.6h0"/><path id="p132" stroke="#1f65ff" d="M477.4 493.4h0M458.1 457.8h0M497.0 438.4h0M485.3 404.3h0M470.9 451.9h0M471.1 459.1h0M466.8 420.9h0M454.8 468.0h0M472.4 377.7h0M478.6 463.4h0M462.8 403.0h0M468.7 462.0h0M465.1 463.5h0M477.0 383.4h0M476.6 427.6h0M482.6 449.6h0M472.2 433.8h0M473.7 432.7h0M472.5 419.6h0M473.3 396.8h0M464.4 389.2h0M475.7 369.6h0M465.3 379.0h0M473.7 418.5h0"/><path id="p133" stroke="#ff811f" d="M563.0 359.7h0M558.5 374.6h0M562.3 341.8h0M561.5 365.9h0M552.3 348.2h0M544.7 363.7h0M530.2 396.0h0M546.1 382.2h0M550.9 356.7h0M536.1 395.1h0M551.2 373.0h0"/><path id="p134" stroke="#49ffd5" d="M479.8 460.4h0M488.4 300.6h0M508.2 390.2h0M490.6 403.0h0M512.1 406.3h0M504.0 437.0h0M493.5 380.7h0M512.3 396.8h0M504.2 433.4h0M494.8 424.8h0M492.1 432.8h0M499.3 389.8h0M515.0 400.2h0M510.3 460.3h0M508.2 425.8h0M497.7 378.9h0M499.6 382.6h0M492.9 397.5h0M510.0 408.3h0M498.5 389.8h0M499.6 416.2h0M500.4 364.1h0M494.9 384.1h0M500.6 355.8h0M505.3 423.7h0M511.4 402.8h0M493.1 455.3h0M494.0 442.3h0M484.7 392.5h0M492.7 467.2h0M495.0 392.2h0M513.4 363.5h0M496.8 416.0h0M512.7 393.7h0M516.2 442.8h0M506.4 408.8h0M486.5 375.7h0M506.6 435.3h0M488.9 396.2h0M516.8 451.3h0M504.9 387.1h0M498.2 417.6h0M486.0 475.5h0M514.4 395.8h0M497.2 416.1h0M509.0 380.6h0M495.7 411.5h0M505.4 336.3h0M487.4 418.5h0M515.9 396.8h0M512.4 431.0h0M500.9 377.4h0M503.5 388.5h0M495.6 387.9h0M490.7 370.3h0M505.5 443.1h0M492.9 414.6h0M491.2 384.3h0M490.6 425.3h0M491.3 381.7h0M496.4 408.9h0M508.7 392.4h0M498.7 459.7h0M495.7 433.4h0M495.9 455.1h0M497.3 393.8h0M496.0 377.4h0M518.2 396.7h0M494.3 394.9h0M505.1 401.1h0M506.3 374.9h0M510.6 401.0h0M485.7 417.3h0M508.7 356.4h0M496.6 418.9h0M511.6 372.6h0M511.4 414.0h0M500.4 480.4h0M506.5 442.8h0M496.2 405.3h0M505.3 377.6h0M497.6 384.3h0M504.6 430.9h0M500.3 384.6h0"/><path id="p135" stroke="#ff651f" d="M564.6 389.1h0M509.8 378.8h0M569.5 372.9h0M550.0 385.5h0M522.8 380.9h0M555.8 378.6h0"/><path id="p136" stroke="#ffd51f" d="M533.7 367.7h0M559.8 361.5h0M529.1 367.2h0M541.9 374.6h0M497.9 424.5h0M526.2 377.6h0M519.5 397.3h0M552.3 347.5h0M539.2 351.0h0M549.7 361.2h0M552.0 369.6h0M537.5 386.3h0M542.0 392.9h0M548.9 347.9h0M544.9 376.2h0M542.1 362.3h0M546.0 365.7h0M525.2 356.3h0M519.6 426.3h0M521.8 403.7h0M538.3 389.9h0"/><path id="p137" stroke="#1f49ff" d="M464.9 437.6h0M459.4 394.0h0M467.1 452.4h0M467.3 391.5h0M459.7 495.7h0M476.7 457.1h0M471.1 412.7h0M469.7 475.1h0M461.0 398.7h0M480.8 402.0h0M480.4 470.8h0M472.7 459.5h0M474.1 423.9h0M471.6 478.2h0"/><path id="p138" stroke="#9c1f1f" d="M561.5 342.8h0M501.2 372.2h0M569.2 352.8h0"/><path id="p139" stroke="#ff491f" d="M568.9 384.8h0M554.1 356.2h0M556.7 368.0h0"/><path id="p140" stroke="#1f2dff" d="M473.1 430.3h0M459.8 390.8h0M470.2 418.8h0M455.2 495.1h0M472.8 400.0h0M451.9 401.3h0M455.0 469.1h0M470.4 457.4h0M474.1 451.4h0M466.4 460.2h0M472.8 440.6h0M458.1 442.3h0M450.6 398.2h0"/></defs><g fill="none" stroke-linecap="round" stroke-width="2.9" opacity="0.3"><use href="#p110"/><use href="#p111"/><use href="#p112"/><use href="#p113"/><use href="#p114"/><use href="#p115"/><use href="#p116"/><use href="#p117"/><use href="#p118"/><use href="#p119"/><use href="#p120"/><use href="#p121"/><use href="#p122"/><use href="#p123"/><use href="#p124"/><use href="#p125"/><use href="#p126"/><use href="#p127"/><use href="#p128"/><use href="#p129"/><use href="#p130"/><use href="#p131"/><use href="#p132"/><use href="#p133"/><use href="#p134"/><use href="#p135"/><use href="#p136"/><use href="#p137"/><use href="#p138"/><use href="#p139"/><use href="#p140"/></g><g fill="none" stroke-linecap="round" stroke-width="1.85"><use href="#p110"/><use href="#p111"/><use href="#p112"/><use href="#p113"/><use href="#p114"/><use href="#p115"/><use href="#p116"/><use href="#p117"/><use href="#p118"/><use href="#p119"/><use href="#p120"/><use href="#p121"/><use href="#p122"/><use href="#p123"/><use href="#p124"/><use href="#p125"/><use href="#p126"/><use href="#p127"/><use href="#p128"/><use href="#p129"/><use href="#p130"/><use href="#p131"/><use href="#p132"/><use href="#p133"/><use href="#p134"/><use href="#p135"/><use href="#p136"/><use href="#p137"/><use href="#p138"/><use href="#p139"/><use href="#p140"/></g>
<path d="M496.10 294V512.7M397.8 395.12H610.4" stroke="#8a8a8a" stroke-width="1.4" fill="none" opacity="0.4"/>
<rect x="397.8" y="294" width="212.59999999999997" height="218.70000000000005" fill="none" stroke="#111" stroke-width="1.5"/>
<text transform="translate(396.90,522.90) scale(0.93,1)" font-size="8.6" fill="#000" text-anchor="middle" letter-spacing="-0.5">10<tspan dy="-3.7" dx="0.5" font-size="6.3" letter-spacing="-0.1">-2</tspan></text>
<text transform="translate(392.50,515.90) scale(0.93,1)" font-size="8.6" fill="#000" text-anchor="end" letter-spacing="-0.5">10<tspan dy="-3.7" dx="0.5" font-size="6.3" letter-spacing="-0.1">-4</tspan></text>
<text transform="translate(423.48,522.90) scale(0.93,1)" font-size="8.6" fill="#000" text-anchor="middle" letter-spacing="-0.5">10<tspan dy="-3.7" dx="0.5" font-size="6.3" letter-spacing="-0.1">-1</tspan></text>
<text transform="translate(392.50,488.56) scale(0.93,1)" font-size="8.6" fill="#000" text-anchor="end" letter-spacing="-0.5">10<tspan dy="-3.7" dx="0.5" font-size="6.3" letter-spacing="-0.1">-3</tspan></text>
<text transform="translate(450.05,522.90) scale(0.93,1)" font-size="8.6" fill="#000" text-anchor="middle" letter-spacing="-0.5">10<tspan dy="-3.7" dx="0.5" font-size="6.3" letter-spacing="-0.1">0</tspan></text>
<text transform="translate(392.50,461.23) scale(0.93,1)" font-size="8.6" fill="#000" text-anchor="end" letter-spacing="-0.5">10<tspan dy="-3.7" dx="0.5" font-size="6.3" letter-spacing="-0.1">-2</tspan></text>
<text transform="translate(476.62,522.90) scale(0.93,1)" font-size="8.6" fill="#000" text-anchor="middle" letter-spacing="-0.5">10<tspan dy="-3.7" dx="0.5" font-size="6.3" letter-spacing="-0.1">1</tspan></text>
<text transform="translate(392.50,433.89) scale(0.93,1)" font-size="8.6" fill="#000" text-anchor="end" letter-spacing="-0.5">10<tspan dy="-3.7" dx="0.5" font-size="6.3" letter-spacing="-0.1">-1</tspan></text>
<text transform="translate(503.20,522.90) scale(0.93,1)" font-size="8.6" fill="#000" text-anchor="middle" letter-spacing="-0.5">10<tspan dy="-3.7" dx="0.5" font-size="6.3" letter-spacing="-0.1">2</tspan></text>
<text transform="translate(392.50,406.55) scale(0.93,1)" font-size="8.6" fill="#000" text-anchor="end" letter-spacing="-0.5">10<tspan dy="-3.7" dx="0.5" font-size="6.3" letter-spacing="-0.1">0</tspan></text>
<text transform="translate(529.77,522.90) scale(0.93,1)" font-size="8.6" fill="#000" text-anchor="middle" letter-spacing="-0.5">10<tspan dy="-3.7" dx="0.5" font-size="6.3" letter-spacing="-0.1">3</tspan></text>
<text transform="translate(392.50,379.21) scale(0.93,1)" font-size="8.6" fill="#000" text-anchor="end" letter-spacing="-0.5">10<tspan dy="-3.7" dx="0.5" font-size="6.3" letter-spacing="-0.1">1</tspan></text>
<text transform="translate(556.35,522.90) scale(0.93,1)" font-size="8.6" fill="#000" text-anchor="middle" letter-spacing="-0.5">10<tspan dy="-3.7" dx="0.5" font-size="6.3" letter-spacing="-0.1">4</tspan></text>
<text transform="translate(392.50,351.88) scale(0.93,1)" font-size="8.6" fill="#000" text-anchor="end" letter-spacing="-0.5">10<tspan dy="-3.7" dx="0.5" font-size="6.3" letter-spacing="-0.1">2</tspan></text>
<text transform="translate(582.93,522.90) scale(0.93,1)" font-size="8.6" fill="#000" text-anchor="middle" letter-spacing="-0.5">10<tspan dy="-3.7" dx="0.5" font-size="6.3" letter-spacing="-0.1">5</tspan></text>
<text transform="translate(392.50,324.54) scale(0.93,1)" font-size="8.6" fill="#000" text-anchor="end" letter-spacing="-0.5">10<tspan dy="-3.7" dx="0.5" font-size="6.3" letter-spacing="-0.1">3</tspan></text>
<text transform="translate(609.50,522.90) scale(0.93,1)" font-size="8.6" fill="#000" text-anchor="middle" letter-spacing="-0.5">10<tspan dy="-3.7" dx="0.5" font-size="6.3" letter-spacing="-0.1">6</tspan></text>
<text transform="translate(392.50,297.20) scale(0.93,1)" font-size="8.6" fill="#000" text-anchor="end" letter-spacing="-0.5">10<tspan dy="-3.7" dx="0.5" font-size="6.3" letter-spacing="-0.1">4</tspan></text>
<path d="M405.80 512.7v-1.4M405.80 294v1.4M410.48 512.7v-1.4M410.48 294v1.4M413.80 512.7v-1.4M413.80 294v1.4M416.38 512.7v-1.4M416.38 294v1.4M418.48 512.7v-1.4M418.48 294v1.4M420.26 512.7v-1.4M420.26 294v1.4M421.80 512.7v-1.4M421.80 294v1.4M423.16 512.7v-1.4M423.16 294v1.4M397.8 504.47h1.4M610.4 504.47h-1.4M397.8 499.66h1.4M610.4 499.66h-1.4M397.8 496.24h1.4M610.4 496.24h-1.4M397.8 493.59h1.4M610.4 493.59h-1.4M397.8 491.43h1.4M610.4 491.43h-1.4M397.8 489.60h1.4M610.4 489.60h-1.4M397.8 488.01h1.4M610.4 488.01h-1.4M397.8 486.61h1.4M610.4 486.61h-1.4M424.38 512.7v-3.2M424.38 294v3.2M432.37 512.7v-1.4M432.37 294v1.4M437.05 512.7v-1.4M437.05 294v1.4M440.37 512.7v-1.4M440.37 294v1.4M442.95 512.7v-1.4M442.95 294v1.4M445.05 512.7v-1.4M445.05 294v1.4M446.83 512.7v-1.4M446.83 294v1.4M448.37 512.7v-1.4M448.37 294v1.4M449.73 512.7v-1.4M449.73 294v1.4M397.8 485.36h3.2M610.4 485.36h-3.2M397.8 477.13h1.4M610.4 477.13h-1.4M397.8 472.32h1.4M610.4 472.32h-1.4M397.8 468.90h1.4M610.4 468.90h-1.4M397.8 466.25h1.4M610.4 466.25h-1.4M397.8 464.09h1.4M610.4 464.09h-1.4M397.8 462.26h1.4M610.4 462.26h-1.4M397.8 460.67h1.4M610.4 460.67h-1.4M397.8 459.28h1.4M610.4 459.28h-1.4M450.95 512.7v-3.2M450.95 294v3.2M458.95 512.7v-1.4M458.95 294v1.4M463.63 512.7v-1.4M463.63 294v1.4M466.95 512.7v-1.4M466.95 294v1.4M469.53 512.7v-1.4M469.53 294v1.4M471.63 512.7v-1.4M471.63 294v1.4M473.41 512.7v-1.4M473.41 294v1.4M474.95 512.7v-1.4M474.95 294v1.4M476.31 512.7v-1.4M476.31 294v1.4M397.8 458.03h3.2M610.4 458.03h-3.2M397.8 449.80h1.4M610.4 449.80h-1.4M397.8 444.98h1.4M610.4 444.98h-1.4M397.8 441.57h1.4M610.4 441.57h-1.4M397.8 438.92h1.4M610.4 438.92h-1.4M397.8 436.75h1.4M610.4 436.75h-1.4M397.8 434.92h1.4M610.4 434.92h-1.4M397.8 433.34h1.4M610.4 433.34h-1.4M397.8 431.94h1.4M610.4 431.94h-1.4M477.52 512.7v-3.2M477.52 294v3.2M485.52 512.7v-1.4M485.52 294v1.4M490.20 512.7v-1.4M490.20 294v1.4M493.52 512.7v-1.4M493.52 294v1.4M496.10 512.7v-1.4M496.10 294v1.4M498.20 512.7v-1.4M498.20 294v1.4M499.98 512.7v-1.4M499.98 294v1.4M501.52 512.7v-1.4M501.52 294v1.4M502.88 512.7v-1.4M502.88 294v1.4M397.8 430.69h3.2M610.4 430.69h-3.2M397.8 422.46h1.4M610.4 422.46h-1.4M397.8 417.64h1.4M610.4 417.64h-1.4M397.8 414.23h1.4M610.4 414.23h-1.4M397.8 411.58h1.4M610.4 411.58h-1.4M397.8 409.41h1.4M610.4 409.41h-1.4M397.8 407.58h1.4M610.4 407.58h-1.4M397.8 406.00h1.4M610.4 406.00h-1.4M397.8 404.60h1.4M610.4 404.60h-1.4M504.10 512.7v-3.2M504.10 294v3.2M512.10 512.7v-1.4M512.10 294v1.4M516.78 512.7v-1.4M516.78 294v1.4M520.10 512.7v-1.4M520.10 294v1.4M522.68 512.7v-1.4M522.68 294v1.4M524.78 512.7v-1.4M524.78 294v1.4M526.56 512.7v-1.4M526.56 294v1.4M528.10 512.7v-1.4M528.10 294v1.4M529.46 512.7v-1.4M529.46 294v1.4M397.8 403.35h3.2M610.4 403.35h-3.2M397.8 395.12h1.4M610.4 395.12h-1.4M397.8 390.31h1.4M610.4 390.31h-1.4M397.8 386.89h1.4M610.4 386.89h-1.4M397.8 384.24h1.4M610.4 384.24h-1.4M397.8 382.08h1.4M610.4 382.08h-1.4M397.8 380.25h1.4M610.4 380.25h-1.4M397.8 378.66h1.4M610.4 378.66h-1.4M397.8 377.26h1.4M610.4 377.26h-1.4M530.67 512.7v-3.2M530.67 294v3.2M538.67 512.7v-1.4M538.67 294v1.4M543.35 512.7v-1.4M543.35 294v1.4M546.67 512.7v-1.4M546.67 294v1.4M549.25 512.7v-1.4M549.25 294v1.4M551.35 512.7v-1.4M551.35 294v1.4M553.13 512.7v-1.4M553.13 294v1.4M554.67 512.7v-1.4M554.67 294v1.4M556.03 512.7v-1.4M556.03 294v1.4M397.8 376.01h3.2M610.4 376.01h-3.2M397.8 367.78h1.4M610.4 367.78h-1.4M397.8 362.97h1.4M610.4 362.97h-1.4M397.8 359.55h1.4M610.4 359.55h-1.4M397.8 356.90h1.4M610.4 356.90h-1.4M397.8 354.74h1.4M610.4 354.74h-1.4M397.8 352.91h1.4M610.4 352.91h-1.4M397.8 351.32h1.4M610.4 351.32h-1.4M397.8 349.93h1.4M610.4 349.93h-1.4M557.25 512.7v-3.2M557.25 294v3.2M565.25 512.7v-1.4M565.25 294v1.4M569.93 512.7v-1.4M569.93 294v1.4M573.25 512.7v-1.4M573.25 294v1.4M575.83 512.7v-1.4M575.83 294v1.4M577.93 512.7v-1.4M577.93 294v1.4M579.71 512.7v-1.4M579.71 294v1.4M581.25 512.7v-1.4M581.25 294v1.4M582.61 512.7v-1.4M582.61 294v1.4M397.8 348.68h3.2M610.4 348.68h-3.2M397.8 340.45h1.4M610.4 340.45h-1.4M397.8 335.63h1.4M610.4 335.63h-1.4M397.8 332.22h1.4M610.4 332.22h-1.4M397.8 329.57h1.4M610.4 329.57h-1.4M397.8 327.40h1.4M610.4 327.40h-1.4M397.8 325.57h1.4M610.4 325.57h-1.4M397.8 323.99h1.4M610.4 323.99h-1.4M397.8 322.59h1.4M610.4 322.59h-1.4M583.83 512.7v-3.2M583.83 294v3.2M591.82 512.7v-1.4M591.82 294v1.4M596.50 512.7v-1.4M596.50 294v1.4M599.82 512.7v-1.4M599.82 294v1.4M602.40 512.7v-1.4M602.40 294v1.4M604.50 512.7v-1.4M604.50 294v1.4M606.28 512.7v-1.4M606.28 294v1.4M607.82 512.7v-1.4M607.82 294v1.4M609.18 512.7v-1.4M609.18 294v1.4M397.8 321.34h3.2M610.4 321.34h-3.2M397.8 313.11h1.4M610.4 313.11h-1.4M397.8 308.29h1.4M610.4 308.29h-1.4M397.8 304.88h1.4M610.4 304.88h-1.4M397.8 302.23h1.4M610.4 302.23h-1.4M397.8 300.06h1.4M610.4 300.06h-1.4M397.8 298.23h1.4M610.4 298.23h-1.4M397.8 296.65h1.4M610.4 296.65h-1.4M397.8 295.25h1.4M610.4 295.25h-1.4" stroke="#000" stroke-width="0.9" fill="none"/>
<text x="188.00" y="271.30" font-size="13.5" fill="#000" text-anchor="middle">HeLa “CRM1+RanGTP” binders</text>
<text x="185.80" y="287.60" font-size="13.6" fill="#000" text-anchor="middle">Colouring: categories</text>
<text x="501.40" y="271.30" font-size="13.5" fill="#000" text-anchor="middle">HeLa “CRM1+RanGTP” binders</text>
<text x="503.50" y="287.60" font-size="13.6" fill="#000" text-anchor="middle">Colouring: molar fractions</text>
<text x="182.60" y="540.80" font-size="10.7" fill="#000" text-anchor="middle">RanGTP-stimulation of CRM1-binding</text>
<text x="500.00" y="540.80" font-size="10.7" fill="#000" text-anchor="middle">RanGTP-stimulation of CRM1-binding</text>
<text transform="translate(38,401.8) rotate(-90)" font-size="10.5" fill="#000" text-anchor="middle">Enrichment from starting extract</text>
<text transform="translate(50.6,401.8) rotate(-90)" font-size="10.5" fill="#000" text-anchor="middle">(Input Enrichment)</text>
<text transform="translate(359.2,401.8) rotate(-90)" font-size="10.5" fill="#000" text-anchor="middle">Enrichment from starting extract</text>
<text transform="translate(371.8,401.8) rotate(-90)" font-size="10.5" fill="#000" text-anchor="middle">(Input Enrichment)</text>
<circle cx="235.5" cy="467.4" r="2.6" fill="#0d5f12"/>
<text x="241.00" y="469.90" font-size="7.45" fill="#000" text-anchor="start">Cargo A</text>
<circle cx="235.5" cy="476.6" r="2.6" fill="#2ca02c"/>
<text x="241.00" y="479.10" font-size="7.45" fill="#000" text-anchor="start">Cargo B</text>
<circle cx="235.5" cy="486.7" r="2.6" fill="#c29bf0"/>
<text x="241.00" y="489.20" font-size="7.45" fill="#000" text-anchor="start">FG-Nup Complexes</text>
<circle cx="235.5" cy="495.3" r="2.6" fill="#f5dc6b"/>
<text x="241.00" y="497.80" font-size="7.45" fill="#000" text-anchor="start">Ambiguous</text>
<circle cx="235.5" cy="504" r="2.6" fill="#f0706a"/>
<text x="241.00" y="506.50" font-size="7.45" fill="#000" text-anchor="start">Non-binder</text>
<rect x="616.5" y="509.80" width="11.799999999999955" height="3.50" fill="#141498"/>
<rect x="616.5" y="506.60" width="11.799999999999955" height="3.50" fill="#1414b5"/>
<rect x="616.5" y="503.40" width="11.799999999999955" height="3.50" fill="#1414d3"/>
<rect x="616.5" y="500.20" width="11.799999999999955" height="3.50" fill="#1414f0"/>
<rect x="616.5" y="497.00" width="11.799999999999955" height="3.50" fill="#1423ff"/>
<rect x="616.5" y="493.80" width="11.799999999999955" height="3.50" fill="#1441ff"/>
<rect x="616.5" y="490.60" width="11.799999999999955" height="3.50" fill="#145eff"/>
<rect x="616.5" y="487.40" width="11.799999999999955" height="3.50" fill="#147bff"/>
<rect x="616.5" y="484.20" width="11.799999999999955" height="3.50" fill="#1498ff"/>
<rect x="616.5" y="481.00" width="11.799999999999955" height="3.50" fill="#14b5ff"/>
<rect x="616.5" y="477.80" width="11.799999999999955" height="3.50" fill="#14d3ff"/>
<rect x="616.5" y="474.60" width="11.799999999999955" height="3.50" fill="#14f0ff"/>
<rect x="616.5" y="471.40" width="11.799999999999955" height="3.50" fill="#23fff0"/>
<rect x="616.5" y="468.20" width="11.799999999999955" height="3.50" fill="#41ffd3"/>
<rect x="616.5" y="465.00" width="11.799999999999955" height="3.50" fill="#5effb5"/>
<rect x="616.5" y="461.80" width="11.799999999999955" height="3.50" fill="#7bff98"/>
<rect x="616.5" y="458.60" width="11.799999999999955" height="3.50" fill="#98ff7b"/>
<rect x="616.5" y="455.40" width="11.799999999999955" height="3.50" fill="#b5ff5e"/>
<rect x="616.5" y="452.20" width="11.799999999999955" height="3.50" fill="#d3ff41"/>
<rect x="616.5" y="449.00" width="11.799999999999955" height="3.50" fill="#f0ff23"/>
<rect x="616.5" y="445.80" width="11.799999999999955" height="3.50" fill="#fff014"/>
<rect x="616.5" y="442.60" width="11.799999999999955" height="3.50" fill="#ffd314"/>
<rect x="616.5" y="439.40" width="11.799999999999955" height="3.50" fill="#ffb514"/>
<rect x="616.5" y="436.20" width="11.799999999999955" height="3.50" fill="#ff9814"/>
<rect x="616.5" y="433.00" width="11.799999999999955" height="3.50" fill="#ff7b14"/>
<rect x="616.5" y="429.80" width="11.799999999999955" height="3.50" fill="#ff5e14"/>
<rect x="616.5" y="426.60" width="11.799999999999955" height="3.50" fill="#ff4114"/>
<rect x="616.5" y="423.40" width="11.799999999999955" height="3.50" fill="#ff2314"/>
<rect x="616.5" y="420.20" width="11.799999999999955" height="3.50" fill="#f01414"/>
<rect x="616.5" y="417.00" width="11.799999999999955" height="3.50" fill="#d31414"/>
<rect x="616.5" y="413.80" width="11.799999999999955" height="3.50" fill="#b51414"/>
<rect x="616.5" y="410.60" width="11.799999999999955" height="3.50" fill="#981414"/>
<path d="M628.3 500.7h-4" stroke="#111" stroke-width="0.9"/>
<text x="630.6999999999999" y="503.8" font-size="8" fill="#000" letter-spacing="-0.4">10<tspan dy="-4.8" dx="1" font-size="5.4" letter-spacing="-0.2">−7</tspan></text>
<path d="M628.3 485.8h-4" stroke="#111" stroke-width="0.9"/>
<path d="M628.3 470.9h-4" stroke="#111" stroke-width="0.9"/>
<text x="630.6999999999999" y="474.0" font-size="8" fill="#000" letter-spacing="-0.4">10<tspan dy="-4.8" dx="1" font-size="5.4" letter-spacing="-0.2">−5</tspan></text>
<path d="M628.3 456.0h-4" stroke="#111" stroke-width="0.9"/>
<path d="M628.3 441.1h-4" stroke="#111" stroke-width="0.9"/>
<text x="630.6999999999999" y="444.2" font-size="8" fill="#000" letter-spacing="-0.4">10<tspan dy="-4.8" dx="1" font-size="5.4" letter-spacing="-0.2">−3</tspan></text>
<path d="M628.3 426.2h-4" stroke="#111" stroke-width="0.9"/>
<path d="M628.3 411.3h-4" stroke="#111" stroke-width="0.9"/>
<text x="630.6999999999999" y="414.4" font-size="8" fill="#000" letter-spacing="-0.4">10<tspan dy="-4.8" dx="1" font-size="5.4" letter-spacing="-0.2">−1</tspan></text>
<text x="645.50" y="504.00" font-size="7.5" fill="#000" text-anchor="start">Molar fraction in</text>
<text x="645.50" y="512.90" font-size="7.4" fill="#000" text-anchor="start">CRM1+RanGTP</text>
</svg>
</body></html>
